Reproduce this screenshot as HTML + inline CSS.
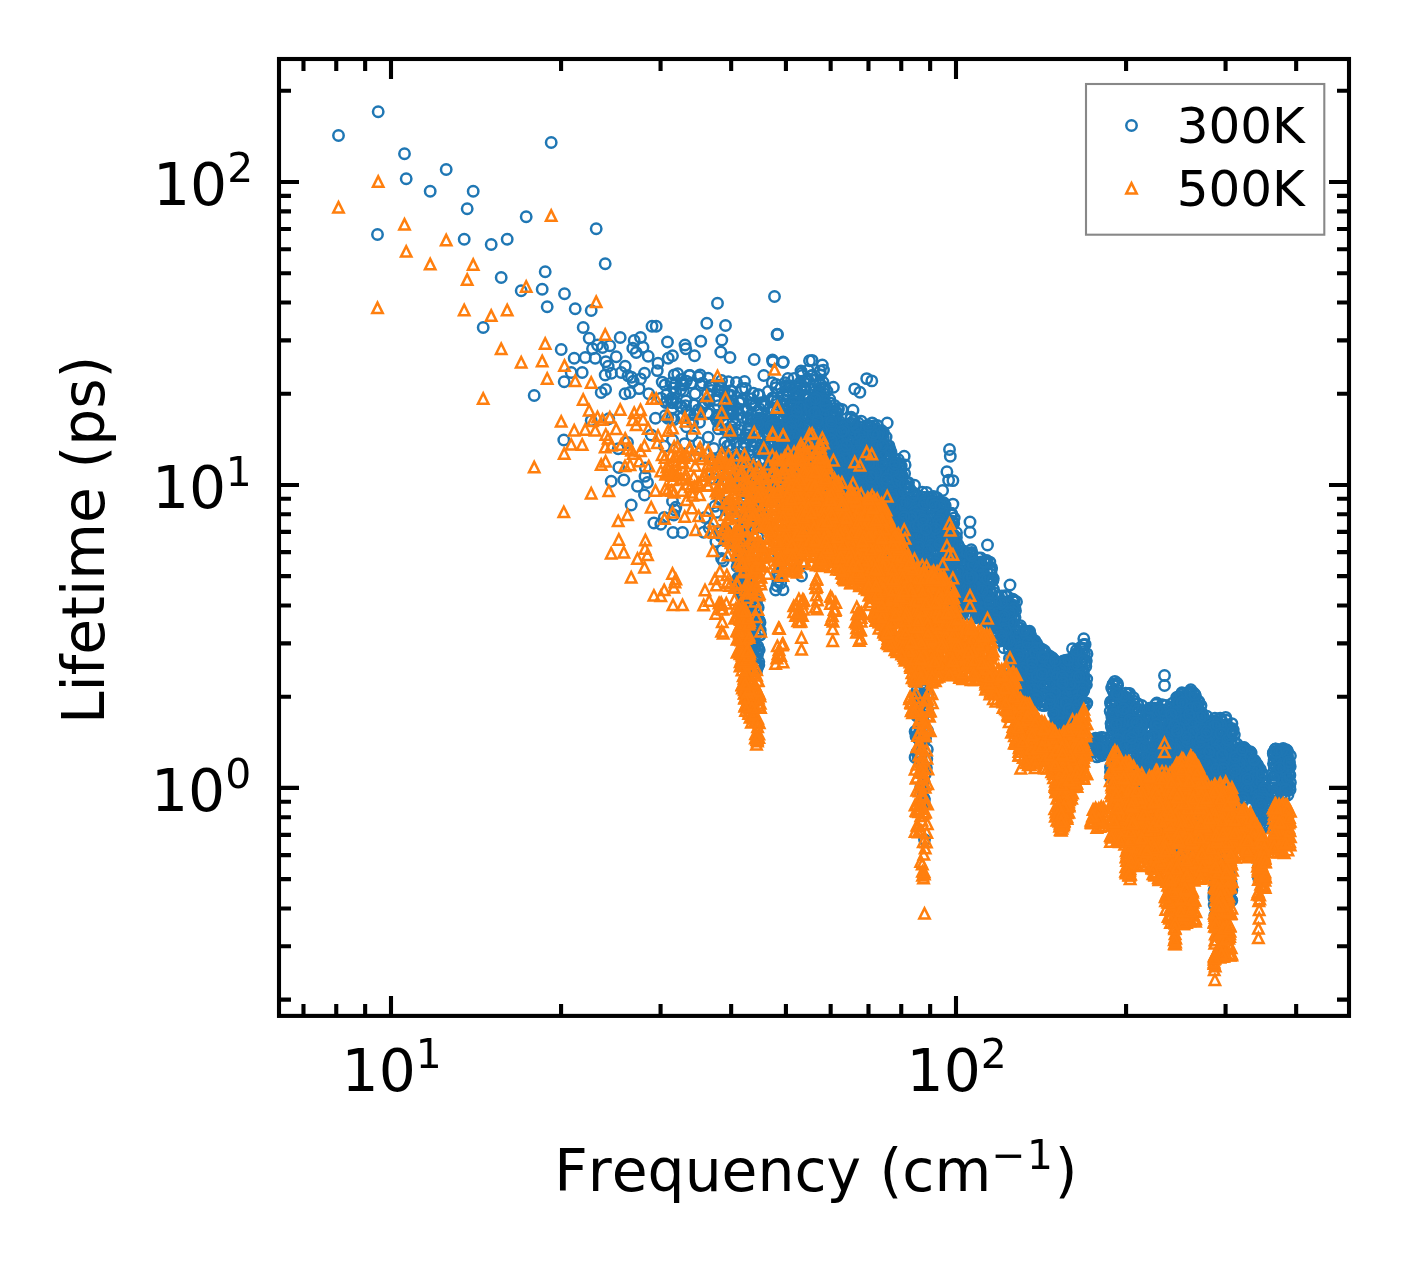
<!DOCTYPE html>
<html lang="en"><head><meta charset="utf-8"><title>Lifetime vs Frequency</title>
<style>html,body{margin:0;padding:0;background:#fff}svg{display:block}text{font-family:'DejaVu Sans', 'Liberation Sans', sans-serif;fill:#000;font-kerning:none;font-variant-ligatures:none}</style></head><body>
<svg style="will-change:transform" width="1408" height="1265" viewBox="0 0 1408 1265">
<rect width="1408" height="1265" fill="#fff"/>
<defs>
<marker id="mc" markerUnits="userSpaceOnUse" markerWidth="20" markerHeight="20" refX="10" refY="10" overflow="visible"><circle cx="10" cy="10" r="5.21" fill="none" stroke="#1f77b4" stroke-width="2.50"/></marker>
<marker id="mt" markerUnits="userSpaceOnUse" markerWidth="20" markerHeight="20" refX="10" refY="10" overflow="visible"><path d="M10 4.79 L4.79 15.21 L15.21 15.21 Z" fill="none" stroke="#ff7f0e" stroke-width="2.50" stroke-linejoin="miter"/></marker>
</defs>
<clipPath id="ax"><rect x="279.0" y="59.0" width="1070.0" height="956.9"/></clipPath>
<g clip-path="url(#ax)">
<polyline fill="none" stroke="none" style="marker:url(#mc)" points="338.5,135.5 378.2,111.8 404.5,153.8 406.2,178.8 446.2,169.5 430.2,191.2 473.2,191.2 467.2,208.8 377.5,234.5 464.2,239.2 491.2,244.5 507.2,239.2 526.2,216.8 551.2,142.5 596.2,228.8 605.2,263.8 545.2,271.8 501.2,277.5 521.2,290.8 542.2,289.2 564.5,293.8 547.2,306.8 575.2,308.8 591.2,310.5 483.2,327.5 583.2,327.5 589.2,338.2 592.5,348.8 597.5,345.0 602.5,347.5 620.2,337.5 634.2,340.5 640.5,337.5 636.2,352.5 616.2,356.8 561.2,349.5 574.2,358.2 585.2,357.5 595.2,358.2 608.2,366.2 625.2,366.2 621.2,372.5 571.2,372.5 582.2,372.5 605.2,375.0 644.5,373.2 633.2,381.2 564.2,381.8 601.2,392.5 648.2,356.2 534.2,395.5 625.0,393.8 630.0,392.5 648.8,393.8 652.0,326.2 774.5,296.5 717.5,303.2 777.5,334.5 706.8,323.2 725.5,325.5 656.2,326.2 667.5,342.0 685.0,345.0 685.8,348.8 700.8,341.2 721.8,340.0 720.8,352.0 730.0,357.5 658.0,363.2 668.2,358.2 672.5,355.8 694.5,355.8 754.2,359.5 772.5,360.0 783.2,362.0 763.8,375.5 608.8,418.8 655.5,418.2 618.2,448.8 627.5,442.5 664.5,446.2 651.2,435.0 672.5,440.0 618.8,467.5 623.8,480.0 611.2,481.2 645.0,476.2 647.5,482.5 637.5,486.2 644.5,495.0 631.2,505.0 672.5,501.2 664.2,517.5 673.8,515.0 673.0,532.5 682.5,532.5 709.2,528.0 715.0,506.2 705.0,517.5 777.1,334.3 772.8,361.6 783.0,362.4 809.5,360.7 812.1,360.4 822.3,365.0 823.5,370.1 801.0,371.0 833.4,387.2 854.7,388.9 859.9,392.3 866.7,378.6 871.8,380.9 887.2,423.0 904.2,456.3 905.1,464.9 949.5,449.5 950.3,456.3 946.9,471.7 948.6,480.2 952.9,480.6 970.0,522.0 970.0,532.3 841.9,409.4 853.0,410.2 942.6,490.5 914.5,485.3 952.9,504.1 987.5,545.0 1010.0,585.0 1083.8,638.8 1072.5,648.8 1164.5,675.5 1164.5,685.5 563.8,440.0 591.2,420.6 628.0,375.8 657.3,370.6 631.5,377.3 611.4,373.2 639.1,388.6 605.8,361.7 605.6,389.5 643.0,347.3 660.9,398.1 640.5,378.9 609.8,345.8 632.8,348.3 681.8,383.6 666.8,394.3 699.8,412.4 704.9,402.7 703.6,403.8 700.9,385.4 732.9,419.8 724.1,406.0 691.2,383.0 689.3,375.4 719.9,391.2 724.5,390.6 730.7,412.7 662.2,382.1 728.0,394.6 731.9,391.1 671.5,402.2 720.6,384.9 672.9,388.0 731.0,408.4 675.7,383.8 674.2,374.9 721.6,380.5 707.4,393.5 681.8,407.1 676.9,402.9 675.6,392.2 683.6,385.0 731.4,410.6 690.4,414.5 683.4,390.9 724.9,402.8 674.1,419.5 683.6,384.4 720.2,387.8 689.9,375.5 673.1,400.0 685.9,400.9 695.2,393.8 730.8,395.2 708.4,413.6 681.2,379.4 727.9,411.3 686.4,381.1 718.3,417.1 682.3,417.6 726.5,401.0 698.5,377.0 667.8,418.2 685.6,405.8 687.0,411.5 709.7,386.1 680.6,406.6 671.1,383.0 707.4,412.9 710.8,385.5 728.4,381.8 665.0,384.9 700.1,374.9 680.7,389.7 708.2,378.3 694.5,414.8 731.9,403.5 715.4,400.1 677.7,373.7 665.2,415.7 716.0,418.2 665.7,402.5 702.5,407.1 691.5,420.0 671.7,398.2 718.1,415.2 718.2,405.8 721.4,415.9 693.8,404.9 727.5,413.8 698.2,409.9 725.4,399.5 711.5,390.4 708.9,401.2 672.2,402.7 732.6,414.2 717.6,390.6 718.0,399.9 699.8,412.2 672.5,408.0 666.8,400.9 702.4,383.1 764.4,402.9 760.7,421.5 744.5,381.5 746.5,410.8 742.1,388.5 773.8,410.0 752.9,420.2 747.7,410.3 741.9,400.0 769.3,421.2 772.6,397.9 759.2,394.9 739.1,402.8 770.7,418.3 765.0,422.8 745.5,388.4 753.3,393.1 742.6,399.2 761.2,402.7 747.2,417.9 777.2,400.9 736.4,382.4 772.3,382.8 764.9,406.1 710.2,459.6 686.4,426.8 717.4,421.2 732.3,431.9 699.5,422.3 724.8,442.3 724.9,452.8 731.5,467.9 727.0,430.0 718.4,428.9 684.7,443.6 728.1,429.0 708.2,437.3 727.5,446.0 724.3,457.8 714.5,459.6 734.9,424.4 735.8,456.1 698.7,442.7 724.7,465.5 713.7,448.4 734.0,459.8 736.2,443.2 725.7,430.2 728.4,460.9 725.3,455.9 653.9,523.0 703.7,532.3 674.9,509.9 660.8,524.2 695.6,456.8 645.4,467.9 675.8,507.2 671.7,418.4 692.6,422.7 692.0,435.7 720.7,535.9 712.8,478.4 726.3,530.1 734.5,527.0 736.8,509.3 736.9,472.7 716.4,512.4 719.1,530.6 729.6,512.1 734.6,515.4 719.9,499.3 734.6,546.0 715.9,541.6 737.3,512.2 727.9,483.1 726.9,510.3 728.7,467.5 737.3,511.4 722.9,537.1 727.6,509.2 730.9,470.9 726.9,502.2 1071.6,726.5 843.2,439.0 799.3,453.1 845.0,503.4 819.4,441.4 885.9,511.4 957.9,571.8 842.8,487.5 822.6,401.9 755.2,405.5 926.9,566.0 782.3,436.3 914.0,532.7 874.7,440.4 1048.9,678.7 965.5,587.5 926.4,563.3 943.4,507.4 963.9,584.0 735.0,460.0 883.3,551.4 815.1,408.5 1010.0,609.3 931.7,596.2 1056.9,709.0 1065.6,722.6 1063.7,715.3 859.1,507.4 871.2,516.0 914.1,577.5 996.2,618.7 870.8,496.5 970.0,557.7 1034.7,680.4 958.6,569.6 864.1,429.6 881.7,478.5 751.1,484.9 807.6,456.3 796.0,474.2 901.2,466.1 918.3,566.4 984.6,601.9 786.0,490.2 1032.1,686.7 1075.2,689.7 931.4,543.7 1084.0,677.8 836.5,496.3 762.9,419.1 762.2,452.8 1011.9,623.1 930.2,583.9 944.2,548.4 876.0,534.3 917.4,533.6 991.3,598.5 909.4,519.6 978.1,570.5 1049.6,684.1 758.2,451.5 794.6,456.3 918.6,572.3 817.8,473.4 974.3,568.3 937.1,559.8 794.3,423.4 907.1,534.5 933.1,577.2 815.0,421.2 821.0,426.6 1026.6,672.8 876.6,506.9 1085.6,663.6 812.1,463.2 788.5,443.8 897.0,485.0 795.0,466.8 749.6,518.5 782.5,444.2 810.7,478.5 807.0,379.8 955.1,586.1 882.7,517.9 866.9,492.7 829.9,426.1 980.4,581.1 897.4,491.7 1066.4,666.9 951.6,525.2 798.7,453.5 870.6,457.8 962.1,579.1 1074.1,687.6 951.9,556.5 861.9,476.0 819.0,491.4 1030.8,689.3 812.5,436.3 1063.2,752.2 923.7,553.5 782.4,432.6 860.6,465.7 1065.2,703.4 739.6,430.1 1019.2,675.0 1025.5,665.4 793.3,405.3 874.0,490.1 793.5,471.2 954.4,562.1 867.3,454.1 934.5,566.2 954.0,539.3 1084.5,653.7 1064.8,689.6 1035.3,666.6 1053.3,676.8 858.6,485.7 876.0,543.2 944.7,539.9 879.6,474.3 859.8,510.9 897.5,505.9 895.0,521.4 1067.2,715.7 929.2,544.2 917.4,523.4 823.1,407.7 870.8,481.4 883.2,551.1 883.7,540.9 918.5,578.9 809.5,402.7 943.5,508.7 947.5,595.3 907.7,566.6 873.6,476.0 1011.4,616.1 953.0,580.7 967.8,579.1 884.2,512.1 853.6,428.1 941.1,568.0 813.4,466.4 932.8,580.4 808.0,442.1 820.5,478.9 827.3,475.8 1058.2,668.3 932.1,500.8 879.0,554.7 903.8,582.8 1065.2,747.2 1060.3,701.1 975.8,568.0 1078.2,691.2 849.8,500.0 939.1,570.5 792.7,422.7 848.8,457.4 795.9,455.0 908.1,513.2 747.6,484.4 922.9,586.8 759.1,451.4 1067.0,748.0 748.5,427.7 937.4,527.6 894.3,494.4 913.6,512.6 907.6,553.0 1026.0,677.3 902.1,477.9 909.6,498.3 1014.7,643.4 1039.8,665.7 905.6,514.8 1006.8,636.6 842.8,471.0 1061.0,721.9 1073.6,667.9 819.2,442.0 816.2,492.4 877.9,523.6 1065.0,718.3 1003.8,618.2 893.0,533.7 749.5,549.9 838.6,450.6 911.6,525.0 1012.5,641.9 891.7,487.7 876.8,483.1 892.5,549.8 892.3,511.5 1078.6,672.4 981.8,584.3 918.6,558.3 894.3,571.9 865.7,471.3 793.5,410.0 1013.5,654.1 809.8,451.3 860.0,453.6 923.9,592.9 752.4,403.8 896.9,477.3 857.0,505.2 834.3,466.3 825.9,408.2 897.5,564.8 1046.7,660.0 908.7,526.1 910.0,547.9 737.9,482.0 1014.3,607.5 1028.5,632.4 1057.4,692.0 924.0,566.0 941.3,592.6 1020.8,648.3 802.0,375.5 844.7,465.6 796.6,456.9 1031.5,639.0 905.6,514.7 908.6,560.1 787.9,378.5 770.2,476.4 790.0,430.0 911.3,516.2 939.8,517.8 831.6,478.8 1010.0,638.6 1034.5,664.5 1079.8,654.7 1072.3,716.5 928.7,497.1 847.2,471.9 880.3,488.6 974.1,579.0 811.9,375.5 927.8,592.4 955.9,547.8 900.1,467.2 911.9,564.3 892.7,562.5 902.8,520.1 746.5,520.8 888.7,479.7 1051.5,674.4 897.9,482.1 1052.5,676.1 772.2,401.3 861.7,432.9 980.9,598.7 1004.9,602.8 876.6,507.6 855.8,502.1 1015.5,629.4 819.7,487.7 802.0,478.0 798.4,410.9 1012.8,600.7 880.3,502.7 1071.5,661.5 919.2,526.2 886.7,546.6 768.1,417.8 920.2,592.3 1082.4,692.0 773.0,428.4 855.9,458.5 886.0,543.3 793.0,405.1 759.8,438.0 1029.6,631.2 832.0,478.7 851.5,453.1 905.4,512.2 748.5,480.3 888.4,570.3 928.7,557.6 920.4,591.3 950.0,598.8 1043.8,669.1 898.8,534.7 1065.7,729.7 959.7,602.0 744.9,456.9 1069.2,727.3 1032.9,686.4 1028.4,692.9 973.0,579.1 817.4,452.9 968.4,601.9 1072.6,683.0 1034.4,667.2 846.3,501.8 871.0,471.7 904.4,569.6 854.7,475.6 1039.3,654.9 822.7,449.5 1046.5,685.3 936.6,526.2 828.4,476.6 861.0,438.5 1074.0,659.1 835.7,455.4 906.3,528.7 1027.4,649.4 1056.9,726.5 753.9,479.8 759.4,503.7 927.8,574.6 809.8,442.0 731.5,413.4 838.5,420.3 1028.1,689.5 893.3,537.1 803.7,444.2 816.4,403.1 1062.9,689.3 1038.5,646.8 925.3,567.2 929.1,580.9 915.1,542.1 811.4,473.2 799.0,395.1 991.8,593.8 950.0,579.4 951.8,514.9 986.5,605.7 912.6,504.4 957.7,544.4 922.5,549.0 1012.9,599.2 961.3,555.3 786.9,454.8 849.6,463.8 886.5,521.3 916.7,579.0 816.2,437.4 975.9,594.0 952.1,538.6 917.5,503.8 901.9,564.9 874.0,461.1 772.2,450.8 945.5,570.1 942.8,544.6 1082.0,689.0 976.3,580.7 926.1,602.3 1018.8,648.8 890.2,539.3 915.5,506.8 987.9,587.1 794.2,478.6 898.0,546.9 820.3,410.3 867.6,512.5 859.2,426.9 860.1,492.6 890.3,470.5 795.1,476.5 910.7,569.4 944.7,551.4 901.0,476.2 1073.4,708.9 905.0,564.5 911.5,544.5 825.3,437.0 1014.8,608.1 1030.8,639.2 994.2,618.9 807.2,471.7 992.3,580.7 946.4,601.2 809.7,425.0 775.8,433.3 1059.0,680.6 851.6,489.7 758.2,394.6 956.4,586.2 938.8,520.6 881.1,502.4 791.7,478.1 796.7,433.8 1040.0,680.5 815.1,397.0 866.8,505.6 754.0,459.4 890.1,553.0 1060.0,711.8 855.4,431.8 926.3,573.6 837.1,438.5 805.7,455.0 987.9,594.3 834.9,484.1 766.0,431.8 1041.7,668.0 849.0,430.6 855.0,446.0 861.1,447.0 892.1,463.1 850.7,441.6 744.4,457.3 777.4,437.5 805.1,488.9 886.9,450.4 1085.1,644.4 1086.4,684.7 1014.1,654.7 922.6,555.6 1057.9,691.8 854.7,489.8 1075.8,685.0 987.1,586.5 1008.7,643.9 875.7,478.6 1055.0,698.8 816.9,395.9 956.5,532.7 948.5,558.2 842.5,494.1 948.3,546.0 827.0,445.6 812.8,403.9 762.4,493.2 730.2,444.7 864.0,473.2 869.2,471.8 1083.4,670.7 1063.5,660.9 838.5,449.2 1014.1,619.0 1013.0,653.8 1034.7,690.6 1033.8,661.1 888.4,525.7 864.9,515.6 1003.6,622.9 897.7,530.1 1025.4,631.2 862.0,464.4 905.1,540.5 872.8,540.9 789.2,434.0 914.2,524.7 938.0,545.7 1074.3,655.3 961.4,595.9 887.4,509.3 1055.1,699.6 948.0,564.5 1080.4,678.0 941.0,527.9 1058.8,713.6 836.4,462.8 1058.8,709.8 853.7,434.2 921.5,574.6 784.9,462.6 859.3,498.6 918.3,513.7 899.4,548.1 915.0,590.4 877.3,446.6 1036.5,662.3 982.9,566.6 1051.1,695.5 800.8,457.2 939.6,514.2 840.0,463.9 926.4,562.6 837.7,481.8 915.9,531.7 925.0,578.0 920.8,506.5 824.1,394.0 843.2,470.4 936.9,572.3 945.8,567.4 1024.1,652.9 925.2,538.8 743.9,448.1 881.5,512.8 857.9,460.3 920.7,501.2 1033.3,647.0 833.2,437.8 1065.1,705.3 746.9,474.5 844.4,444.8 777.5,486.9 930.1,579.8 982.0,570.3 1083.0,648.3 759.5,489.9 760.9,511.1 890.4,506.4 1072.6,683.9 837.1,454.5 792.8,480.1 909.2,559.3 1019.3,632.0 889.0,560.6 823.8,405.4 785.0,433.3 994.4,620.0 842.3,472.3 792.7,402.3 917.7,589.5 1061.4,683.4 845.8,445.9 930.7,540.9 1015.5,610.7 825.6,429.7 788.4,465.5 965.7,585.6 826.9,473.3 986.5,563.7 769.7,444.5 755.0,489.4 836.8,493.1 855.9,453.9 1024.1,667.9 1026.0,645.1 889.0,445.9 908.6,487.6 1003.5,610.9 1028.3,661.0 869.4,513.3 1040.1,687.0 765.4,446.5 1079.4,680.6 1030.3,692.8 815.3,436.9 826.1,407.2 753.9,479.0 901.9,528.4 775.9,387.6 948.1,558.3 888.8,479.6 978.9,577.8 1067.7,727.3 922.3,532.6 861.3,488.4 797.1,449.2 1063.2,690.1 858.3,434.3 782.5,457.3 826.9,453.4 817.8,455.5 776.2,423.6 1020.0,672.8 968.9,585.4 878.0,444.7 925.6,596.1 1059.4,664.8 1079.7,683.2 943.3,550.2 1028.5,684.0 824.6,415.2 774.2,421.8 842.1,431.5 916.0,536.9 756.6,477.5 932.1,498.3 833.9,429.8 977.9,582.5 878.9,548.9 1061.4,666.4 980.7,584.3 806.3,474.5 808.2,443.7 996.5,615.8 1055.6,683.3 853.8,458.1 945.8,588.7 811.7,408.5 1014.4,671.1 958.0,576.5 942.6,538.5 1002.4,617.9 1060.9,678.3 909.8,559.0 944.6,515.1 906.5,540.8 922.5,519.5 957.3,576.3 1028.7,660.8 1050.0,685.7 896.6,500.8 1087.0,653.9 838.4,408.4 1052.4,660.0 902.4,476.3 889.7,565.1 821.1,437.7 983.6,572.9 1001.4,608.6 1063.0,697.1 897.0,572.1 1036.4,672.9 808.8,447.0 815.6,456.3 859.0,494.2 1075.1,700.2 937.3,554.6 917.4,544.6 931.2,596.4 926.3,539.4 869.9,450.7 876.9,447.1 864.4,508.1 906.4,534.7 930.6,576.0 904.6,501.7 866.3,463.9 795.2,444.2 876.7,469.6 782.9,502.7 828.5,420.1 974.8,580.5 909.5,525.7 799.2,415.8 786.3,386.4 898.6,534.2 889.6,549.4 805.8,413.3 849.3,480.0 860.7,473.0 898.6,573.7 830.1,433.6 887.3,446.0 1060.8,716.9 843.3,497.0 925.8,603.7 961.3,554.6 922.1,566.3 1077.7,689.7 1008.2,642.9 802.8,430.6 790.7,467.1 805.7,403.8 850.7,418.7 881.9,527.9 963.0,553.7 880.6,455.0 829.1,486.7 925.6,538.9 847.9,433.1 804.9,438.9 940.8,533.5 1060.9,724.0 1017.5,668.4 1056.4,680.3 951.4,553.4 805.1,388.0 883.8,444.9 861.0,433.1 952.4,579.3 1066.0,663.5 845.0,506.7 827.8,435.8 928.6,535.1 759.5,418.0 1011.0,610.1 943.2,514.3 959.6,572.3 934.3,517.0 861.6,475.5 1036.1,689.3 981.6,583.3 818.2,465.7 1036.7,643.6 952.0,599.8 904.1,530.1 771.6,431.7 842.7,504.5 968.5,573.1 1042.5,677.4 782.7,437.8 854.0,480.6 875.9,448.3 998.0,616.6 798.7,422.3 1027.7,689.3 1054.6,678.7 882.3,505.8 892.7,545.5 986.4,598.8 835.0,466.7 1010.2,611.5 868.0,463.5 883.5,485.5 1063.6,664.9 883.0,521.7 814.3,465.2 986.8,560.5 856.9,451.2 879.8,548.3 858.9,439.7 870.3,451.3 846.9,488.0 904.3,584.1 980.1,565.5 1058.3,705.9 875.4,542.5 825.1,444.3 853.6,508.5 888.3,560.7 772.4,481.4 868.9,522.8 1064.5,728.2 991.0,574.1 788.5,407.8 851.7,503.8 824.7,446.7 890.3,540.9 1086.7,679.1 1032.6,670.4 916.6,545.1 901.7,564.7 1002.4,626.4 1016.5,601.8 977.2,586.9 1034.3,665.4 740.3,473.5 755.7,512.5 809.7,422.8 1053.1,681.1 871.7,445.9 748.0,510.3 941.7,569.3 835.6,421.6 1082.4,672.2 1027.5,689.9 1072.5,722.0 1035.4,686.0 1029.7,661.4 1053.6,706.9 793.3,496.8 850.7,452.2 905.2,586.2 807.6,378.8 901.5,531.6 1083.8,690.3 948.7,540.5 890.2,474.7 1039.8,656.4 951.1,574.0 984.2,606.7 990.2,599.2 780.9,474.3 840.3,492.7 862.7,495.6 875.9,496.8 923.0,545.2 816.9,446.8 912.2,603.9 919.8,571.5 982.8,566.4 757.9,537.3 867.7,465.3 774.3,431.5 1068.8,733.4 835.4,421.7 876.3,502.0 859.4,502.9 900.7,493.4 1082.2,686.9 978.0,601.3 871.8,495.5 917.6,544.5 1081.3,683.8 775.8,461.7 797.6,440.0 991.6,604.6 808.5,396.8 832.9,441.2 894.3,463.7 794.8,386.1 819.5,391.0 795.9,386.6 791.4,451.7 937.1,564.7 1052.0,678.5 859.2,466.0 984.2,605.1 904.0,566.5 758.4,431.7 894.1,560.8 988.1,608.2 791.0,497.6 851.9,477.2 1056.3,694.2 1046.5,670.8 768.0,444.6 833.9,417.6 764.0,484.8 766.5,453.1 863.3,495.5 835.4,485.1 784.2,483.8 817.5,413.0 1026.2,642.8 914.3,502.6 906.0,529.2 793.3,415.5 814.8,391.8 856.3,486.7 969.7,601.5 789.7,420.2 1005.0,615.5 908.8,506.5 879.0,499.9 829.5,436.4 921.1,541.9 897.8,545.9 775.0,466.6 882.6,432.9 882.7,507.8 819.5,434.6 877.6,459.7 810.4,440.8 854.7,482.7 1065.3,681.5 850.8,510.7 1077.0,716.2 942.1,520.7 751.5,405.4 872.8,500.3 853.6,502.9 781.0,387.8 780.7,440.8 782.0,421.1 981.8,573.0 945.6,551.1 1021.8,638.1 857.5,449.0 801.6,391.4 879.8,467.9 887.2,459.4 892.1,528.3 918.3,596.7 835.9,434.0 1070.7,714.5 862.7,442.9 824.7,387.4 866.4,452.9 843.2,483.7 867.4,447.0 766.4,426.3 1073.5,684.1 850.1,429.2 960.6,602.5 963.3,557.9 834.6,415.4 768.9,454.2 1053.5,675.2 825.5,458.2 937.1,524.1 1065.5,715.7 1057.2,676.8 1014.0,600.4 891.3,485.1 774.1,398.3 944.1,540.6 924.5,497.5 756.3,499.0 1080.5,700.5 892.2,508.4 1014.4,663.6 1034.5,687.6 1058.2,684.4 778.8,492.7 841.1,466.1 900.0,548.3 933.4,522.6 955.7,589.3 940.5,567.8 914.1,515.1 779.7,449.2 751.2,414.5 922.0,565.7 958.2,561.2 969.9,587.3 821.0,409.8 899.2,482.9 868.4,456.0 871.0,426.7 938.2,540.4 772.7,466.4 742.1,492.9 942.9,554.5 779.6,452.3 832.2,451.6 945.2,505.5 794.3,497.9 917.9,601.7 886.5,492.4 1016.1,666.0 873.7,515.6 828.3,439.3 769.7,420.7 1062.8,712.2 903.2,511.5 839.7,465.0 1014.0,606.8 913.6,540.7 801.5,373.2 1058.8,722.9 904.9,499.6 806.3,404.1 884.0,448.8 880.2,454.9 941.1,527.0 946.4,584.6 798.5,458.9 902.4,563.5 786.5,466.5 879.5,533.5 908.8,574.6 779.7,460.9 1077.3,677.4 843.8,468.4 914.8,607.7 876.5,531.8 931.4,580.1 895.5,541.0 818.8,419.5 1069.2,700.1 1066.5,668.8 940.9,568.2 878.8,449.3 855.5,473.2 843.5,499.4 1043.3,683.6 877.0,488.4 1004.1,614.9 802.5,418.5 939.2,585.8 908.7,573.8 916.1,584.7 800.6,404.1 980.8,594.9 828.3,466.7 1056.0,720.2 993.5,618.6 1028.8,659.9 1041.1,657.0 917.8,593.7 1005.6,605.7 945.1,542.5 1085.5,684.5 942.9,544.7 948.7,559.1 817.9,449.3 838.1,409.8 810.8,389.6 874.5,538.0 820.3,400.0 938.7,567.5 1009.2,649.4 1019.7,627.7 846.8,428.3 786.1,440.8 924.5,549.5 1035.6,645.1 872.6,501.0 915.7,575.7 956.4,537.4 957.4,583.4 851.0,469.0 874.6,489.7 1067.4,733.4 841.8,486.1 939.7,528.3 1064.0,660.9 945.9,596.2 1056.0,716.8 1073.6,692.6 1030.0,676.1 1051.2,692.5 768.9,465.3 831.1,427.3 978.6,569.3 814.1,478.0 998.7,596.7 826.2,408.5 805.1,470.5 849.8,506.1 911.2,557.3 976.1,600.9 1071.8,703.0 944.6,509.8 877.7,511.7 949.3,550.0 898.0,510.7 1070.0,696.2 844.5,462.0 928.4,596.4 920.5,544.9 869.1,475.3 1083.5,683.7 1019.4,648.0 898.1,489.6 842.4,475.7 750.5,481.1 833.7,439.2 903.1,517.2 1070.6,667.3 875.6,500.8 871.3,520.8 889.2,479.6 982.0,566.1 935.0,571.9 1025.2,670.5 945.8,520.9 1057.8,666.4 735.5,462.1 749.6,548.1 1066.4,738.4 915.5,520.4 1061.0,695.9 912.5,522.1 831.6,466.9 1063.3,680.1 1009.4,614.2 820.6,421.0 871.5,496.8 960.2,551.6 938.7,519.2 973.1,559.6 931.2,536.6 865.2,451.9 852.0,476.7 1083.5,707.2 1053.3,663.1 777.7,428.1 876.9,483.3 805.0,455.7 933.6,501.6 893.8,539.0 1061.4,705.0 860.8,465.5 812.7,457.2 1084.3,644.8 988.3,614.7 910.0,576.2 752.4,469.6 936.1,511.4 843.8,424.7 1007.6,604.5 973.1,594.1 1075.6,688.6 797.3,407.2 1008.4,624.1 897.3,511.3 1060.7,701.7 845.0,495.3 792.1,445.5 918.7,559.9 743.5,410.8 906.3,508.4 1070.8,689.3 852.1,497.4 829.7,399.3 801.4,417.6 846.7,466.2 995.0,593.2 786.7,413.8 865.6,500.4 894.5,485.4 822.6,404.6 898.6,569.8 931.4,508.7 874.3,473.2 849.8,480.7 826.4,450.8 811.8,431.8 894.2,475.1 914.3,518.1 843.4,472.8 926.4,529.5 789.0,437.2 848.1,448.1 933.2,542.4 867.2,499.8 838.8,452.8 754.0,486.5 751.3,509.2 1035.6,680.7 859.7,435.4 825.4,429.6 873.0,510.0 817.6,401.2 812.9,407.4 936.9,503.3 1034.8,684.0 763.2,474.8 907.2,516.3 1061.4,665.4 1017.3,654.4 981.7,597.3 899.3,504.9 850.4,460.6 1082.3,660.8 1051.3,695.7 915.7,527.5 805.4,418.3 1067.2,675.6 937.1,497.7 888.6,564.3 1062.4,737.3 821.2,458.6 793.7,468.1 916.1,576.1 812.1,473.6 1038.1,651.7 879.0,544.6 919.2,533.8 1069.1,735.8 901.0,542.3 820.4,474.6 899.8,494.2 1015.0,617.6 803.8,387.5 902.9,564.7 785.1,382.7 1043.3,658.4 942.2,523.6 871.4,521.0 886.1,437.1 874.9,454.0 979.4,587.3 927.0,588.7 1037.3,675.7 893.6,524.4 876.0,501.4 857.2,440.6 791.3,497.7 913.9,553.0 917.8,496.7 869.7,496.0 913.9,521.3 746.0,491.9 766.2,424.6 910.4,573.0 835.9,464.0 858.6,460.1 773.4,465.0 873.1,433.5 987.2,572.0 828.7,450.9 924.6,569.2 792.5,407.5 942.9,547.9 882.3,471.7 897.4,575.9 782.3,485.3 933.1,507.1 802.4,404.2 1003.8,602.0 908.3,569.5 800.8,475.7 955.5,596.5 815.8,445.5 908.4,499.2 823.0,382.2 889.3,526.4 817.2,444.6 793.1,482.6 779.6,486.3 957.7,567.1 922.2,546.0 857.9,476.3 819.8,446.9 1049.9,658.5 884.6,556.1 926.9,525.2 927.4,503.2 933.1,605.9 951.3,513.5 805.8,431.8 852.0,461.0 880.5,511.7 923.8,515.5 842.0,488.5 917.8,546.6 913.3,543.6 751.3,398.6 941.1,585.4 896.6,481.2 980.9,558.0 765.7,453.7 953.5,534.5 871.8,486.3 871.8,473.5 1020.7,637.7 952.4,521.1 798.5,408.3 790.9,485.5 792.1,448.4 978.6,582.9 1052.0,668.0 881.5,527.8 915.8,502.4 874.3,430.0 841.5,484.7 895.0,577.2 1077.3,695.1 849.8,501.3 834.4,440.8 902.7,559.2 767.4,501.3 884.6,550.2 819.1,390.6 933.9,503.7 963.9,588.3 870.3,496.1 803.1,404.0 1023.3,640.6 752.4,484.0 867.8,455.1 889.7,488.4 830.0,403.0 918.6,548.6 1075.4,666.0 784.0,416.6 960.2,590.8 788.9,387.0 932.1,564.0 993.0,608.8 813.0,384.8 1031.7,639.4 957.6,573.6 1032.7,649.6 1081.2,660.3 1001.3,624.9 1009.3,613.5 870.4,480.4 862.3,435.1 870.9,455.6 835.5,431.5 879.1,478.3 852.2,472.4 731.5,435.9 1076.8,672.4 875.9,515.0 795.8,397.4 760.4,470.3 817.8,435.9 956.1,554.0 858.5,449.8 805.4,404.1 953.7,523.4 1014.0,658.2 916.8,535.2 829.4,455.0 751.7,465.2 881.5,481.9 799.1,438.2 1058.7,714.9 1032.6,670.3 803.9,395.5 819.6,414.2 793.4,467.8 903.8,541.8 739.7,414.5 820.6,397.9 988.4,583.3 927.4,541.4 880.1,449.4 875.3,431.0 920.0,552.7 797.4,391.4 1067.3,742.1 877.2,515.6 927.3,507.7 898.9,510.9 986.7,613.2 787.9,422.2 941.7,516.1 881.0,511.0 881.6,430.5 1075.7,711.1 1041.4,670.3 1055.1,712.8 870.1,479.8 879.6,501.6 1051.1,676.2 932.1,533.5 787.0,494.7 936.1,535.3 926.2,551.9 743.3,417.6 820.4,456.2 1063.9,663.8 1008.1,638.3 1039.3,672.8 905.3,544.0 778.5,443.1 905.5,536.1 1064.4,699.5 838.0,441.6 895.8,492.0 908.8,541.7 1068.0,689.5 914.7,544.2 889.8,507.2 877.1,459.8 962.9,580.6 957.6,546.3 888.8,532.4 834.4,460.3 902.6,505.4 1060.5,686.4 807.7,465.1 994.0,618.6 785.8,411.0 915.8,580.8 880.8,447.6 838.0,480.0 897.1,500.1 793.5,436.8 868.7,493.1 1085.8,666.4 788.2,396.5 944.4,516.8 1047.3,682.5 1030.6,680.7 898.4,527.9 832.1,415.9 889.1,561.6 788.1,474.1 832.4,432.1 776.3,384.5 847.6,498.9 800.1,404.4 886.7,471.2 745.5,517.3 839.6,425.3 821.3,434.1 801.7,462.4 911.3,525.4 830.4,427.4 889.8,536.9 1062.9,723.8 841.6,499.8 899.6,523.7 1044.6,695.8 788.7,386.8 1009.6,635.1 898.3,459.5 920.8,515.9 777.5,493.3 937.8,521.3 937.1,506.4 835.9,416.9 990.6,571.3 1050.1,678.3 1061.7,722.3 923.9,549.1 886.8,520.3 996.3,613.3 776.8,412.3 895.7,569.8 926.5,563.7 870.0,449.0 893.0,532.7 881.8,537.4 890.2,457.5 810.4,423.1 918.7,503.2 1057.0,676.6 872.3,430.6 1041.9,649.1 998.8,614.6 911.7,498.8 813.7,419.6 849.5,449.2 796.4,386.0 1044.5,650.8 903.5,496.5 1049.1,662.0 883.3,531.4 944.3,594.6 1033.0,642.7 779.2,447.5 1067.2,728.3 855.6,453.5 812.0,375.6 844.9,471.5 926.6,492.4 946.3,563.4 993.7,611.9 782.4,404.4 867.7,446.2 903.6,575.9 899.2,566.8 1084.0,707.1 838.7,438.4 1070.7,711.4 1054.3,699.9 886.1,454.6 876.4,546.1 820.5,418.3 883.4,489.0 954.0,567.8 1037.6,652.6 971.1,605.4 901.8,546.9 851.0,485.1 877.7,458.8 812.1,483.1 929.6,597.0 822.9,399.5 868.9,455.8 873.0,482.6 860.8,448.5 916.8,494.7 915.6,536.5 1078.9,701.8 811.4,491.2 989.8,620.9 1074.4,675.0 784.7,480.0 822.7,422.9 937.8,539.9 1010.5,608.8 913.1,562.3 851.7,473.4 1049.0,655.6 801.0,458.6 967.1,557.4 989.7,613.2 856.9,463.3 898.3,462.9 833.9,448.8 991.0,603.0 893.8,468.1 821.4,461.7 906.7,532.1 902.4,579.3 823.7,388.6 909.9,589.3 998.2,615.2 948.6,568.5 1038.5,683.6 787.3,492.8 943.3,560.2 1001.7,595.9 931.9,590.0 861.9,440.2 851.7,447.6 1080.1,647.8 1010.1,642.9 917.4,584.9 1061.6,738.1 951.8,541.8 878.3,466.1 877.3,467.2 865.0,487.4 989.3,581.7 914.6,594.1 916.3,605.0 845.8,464.4 799.0,458.5 835.7,427.2 875.8,547.1 948.8,569.0 888.1,515.8 948.8,596.9 796.1,435.9 864.5,485.8 958.2,579.1 759.7,471.8 820.2,370.9 795.6,427.8 768.1,436.7 864.7,472.9 1033.5,647.3 975.6,581.6 1038.9,648.2 922.4,603.0 914.3,600.3 912.1,504.0 1060.6,697.9 929.1,537.3 1052.8,672.4 1056.4,700.9 946.0,541.8 907.8,493.4 928.4,523.5 832.9,458.3 793.6,442.6 1013.1,605.2 730.0,461.7 926.0,541.9 748.9,486.3 887.5,484.0 1076.4,676.5 876.2,432.3 772.0,479.8 898.5,535.9 1010.1,621.7 1066.8,708.9 925.1,582.7 1054.4,660.6 939.0,558.4 814.9,480.6 797.5,428.7 1012.4,624.5 880.0,504.5 937.1,601.9 887.2,527.2 904.6,571.8 1071.0,701.7 947.9,588.9 811.9,428.3 971.3,592.8 1061.1,666.1 916.1,607.5 1065.5,662.1 942.9,533.8 997.4,614.0 1069.8,703.4 896.1,527.1 845.2,447.7 762.3,424.5 942.3,596.8 860.2,458.0 990.8,582.0 859.4,439.4 800.3,382.4 898.7,509.7 773.1,424.9 1065.0,714.7 745.6,434.8 823.0,408.6 1048.1,664.4 772.0,440.3 864.1,497.1 1080.7,679.7 972.1,558.4 877.9,490.6 899.3,494.5 1019.3,682.6 947.8,584.6 848.2,491.2 959.6,604.5 816.3,407.9 1061.6,741.4 1028.9,692.1 1083.3,644.8 777.5,487.1 900.9,523.1 768.2,471.9 899.0,546.0 876.5,471.0 958.3,551.1 890.9,529.2 839.2,424.8 779.9,426.0 968.2,571.4 1013.8,608.8 998.3,608.7 821.4,425.8 862.7,441.1 929.2,531.9 911.9,600.0 1025.0,641.7 945.0,600.3 895.9,571.2 915.0,555.2 1072.1,672.1 876.2,431.0 1067.3,676.5 901.0,508.7 1077.1,658.6 828.6,422.2 835.1,486.0 1071.5,689.9 753.1,440.9 1065.6,725.0 836.4,477.5 835.5,411.9 929.6,599.6 1010.5,643.2 883.6,506.4 969.2,573.8 910.3,555.9 981.9,593.1 1069.2,728.5 766.5,453.6 1069.0,724.4 789.0,406.3 855.0,424.2 933.5,590.5 842.5,484.9 811.2,459.4 891.0,487.7 873.2,461.6 1051.7,700.9 949.5,530.5 880.5,453.4 1074.4,712.7 895.1,486.2 759.4,408.8 873.7,461.3 751.0,455.9 1082.9,704.6 1029.1,652.3 879.1,468.9 811.5,411.9 862.0,461.8 883.3,438.1 862.3,435.3 814.3,483.7 1070.4,659.3 871.7,490.4 879.5,522.5 1054.7,683.3 901.5,500.3 986.3,598.4 1006.0,627.5 1066.9,746.0 763.1,405.1 736.3,442.3 951.3,593.7 890.8,513.6 1076.7,661.0 929.0,523.2 980.6,581.0 968.9,599.7 936.3,568.2 1073.1,698.9 819.1,396.8 974.8,599.3 977.8,564.2 930.6,554.2 1073.1,687.8 1074.0,714.4 787.8,461.8 892.8,466.3 921.5,550.2 788.5,417.3 1073.1,683.7 1024.6,639.5 820.5,485.2 1071.1,723.7 819.8,383.3 969.2,568.6 908.9,506.7 884.0,533.1 847.8,466.1 931.9,595.9 777.0,447.6 986.6,591.5 831.0,459.1 825.7,410.0 910.1,526.2 909.3,571.8 883.4,432.4 808.3,469.0 848.1,492.4 876.6,494.8 832.2,476.8 915.5,569.5 1070.2,726.0 895.6,487.6 906.8,527.6 1009.2,633.9 844.0,450.3 870.2,515.8 848.2,495.2 850.2,436.5 951.2,563.1 1068.6,731.2 1064.0,679.1 1043.9,688.4 887.8,498.1 854.0,420.4 1006.6,635.5 1079.0,678.3 793.1,481.8 760.3,470.2 895.3,467.5 945.8,533.8 950.6,569.1 964.3,590.1 946.7,578.4 925.5,529.8 1007.9,642.1 1014.7,670.2 985.8,608.6 855.4,457.7 1064.0,743.9 1003.5,627.0 797.1,398.6 938.2,588.4 931.6,560.5 1012.4,611.8 1009.2,612.5 971.8,553.6 941.5,537.3 890.0,473.4 805.2,396.8 945.2,550.3 836.2,436.7 939.3,579.5 757.5,411.5 741.8,469.0 857.0,449.3 825.5,460.1 867.7,484.5 824.1,459.1 886.4,551.8 923.5,505.1 848.5,440.5 917.8,556.5 1055.3,684.8 820.6,492.5 850.5,446.2 910.5,551.1 986.1,589.3 1002.0,617.0 797.0,459.9 826.9,391.0 952.2,539.5 990.5,604.4 883.4,514.1 961.8,590.3 928.8,519.5 934.2,536.6 1074.4,698.7 939.8,519.5 957.1,562.9 851.3,496.1 1008.1,622.9 874.5,538.9 754.5,499.3 788.1,391.4 841.1,444.5 924.7,519.8 882.3,506.5 904.6,473.5 846.7,439.5 834.2,443.1 863.2,436.5 1025.2,643.6 881.0,511.0 761.0,504.8 740.7,491.0 818.6,469.5 1023.2,684.8 968.0,573.1 1063.2,710.7 1061.1,721.2 1067.6,671.2 841.7,427.1 974.6,606.8 914.7,588.4 820.2,470.7 914.8,530.5 912.8,496.4 965.7,592.3 893.0,538.2 880.5,491.8 1043.1,658.3 821.6,487.6 966.3,565.1 914.3,536.3 938.5,533.5 886.9,562.0 837.4,413.0 884.1,505.6 905.1,540.4 746.1,511.2 784.3,458.6 876.0,432.5 899.8,561.4 1010.0,630.2 817.1,450.9 843.9,505.5 1029.1,687.5 768.2,391.5 817.5,452.8 1028.7,664.4 787.0,470.0 820.9,446.8 858.3,423.0 1077.1,695.3 732.3,412.5 743.8,442.6 1018.4,659.0 1073.2,671.1 868.7,454.1 884.2,529.6 764.8,445.7 922.2,492.3 851.8,428.9 889.3,571.3 1066.3,660.3 1032.9,664.2 828.0,473.6 849.1,449.2 892.2,556.7 877.0,470.5 930.9,546.4 1054.6,660.9 926.0,582.4 938.2,559.9 978.4,599.0 831.6,434.8 1039.5,676.5 855.8,506.1 1049.5,669.7 1039.1,649.4 756.7,488.2 1071.7,699.3 866.7,444.3 1023.2,632.3 780.0,484.1 1071.8,688.3 1022.3,639.8 891.9,554.6 923.5,578.6 971.7,552.5 884.5,509.4 870.8,468.3 948.0,542.9 1062.7,723.7 871.3,483.9 867.7,425.3 861.8,439.6 905.7,516.8 833.3,493.4 780.8,458.3 958.8,546.6 794.9,447.2 851.3,469.3 1029.7,652.3 1059.7,689.4 887.7,517.2 787.6,394.0 970.0,595.0 834.4,458.9 773.2,420.5 877.2,425.4 795.9,409.5 738.2,456.4 840.4,488.3 870.0,426.1 883.7,559.8 1013.7,656.4 911.9,591.5 865.2,458.2 906.0,524.5 820.0,395.8 932.1,506.7 814.9,454.2 943.5,553.5 751.2,418.6 787.9,486.4 906.6,579.0 963.6,562.2 1059.6,742.5 981.0,561.9 928.1,521.2 907.2,483.1 1034.3,668.0 872.0,524.4 895.9,518.0 894.2,565.5 771.5,480.9 853.9,487.0 1036.2,687.1 855.4,461.6 1062.9,698.4 1047.4,697.0 860.2,434.4 765.9,489.7 1063.4,707.6 1064.2,715.7 1081.9,675.8 791.8,485.3 887.9,564.9 1035.0,640.8 1025.4,636.7 800.3,439.1 786.3,385.4 751.7,499.4 818.4,403.6 921.8,600.0 785.2,474.3 935.2,587.8 948.0,556.0 953.0,522.8 892.1,499.3 1068.4,662.9 862.1,492.3 943.8,563.1 916.7,499.4 990.6,617.8 1076.8,655.9 1021.5,641.9 925.4,564.5 910.8,594.7 1016.8,641.4 878.7,464.0 800.4,426.2 987.3,587.8 876.1,496.8 854.0,451.3 888.4,499.3 794.9,396.7 926.6,587.1 796.9,416.0 918.2,505.2 801.0,410.5 849.0,457.1 751.2,482.2 991.6,567.9 816.7,464.0 757.4,516.7 903.9,574.7 805.7,457.6 1019.0,645.3 1020.5,677.2 801.6,407.4 973.3,587.8 799.2,473.1 799.2,479.8 1075.6,674.3 907.2,493.5 745.2,465.5 804.2,437.8 892.4,487.9 799.7,425.2 850.9,461.4 784.0,486.6 964.4,574.3 781.1,472.2 813.3,474.5 906.3,502.3 897.8,494.1 889.2,563.9 876.7,500.4 758.2,500.2 976.5,601.0 991.2,570.0 766.4,428.2 876.9,493.4 861.1,421.1 888.0,491.9 1018.8,628.2 891.0,546.5 827.3,458.5 731.4,426.6 951.5,575.7 969.3,562.0 833.6,418.5 812.6,410.0 797.7,493.2 832.9,437.7 866.9,509.2 798.9,413.0 1063.9,705.7 829.3,441.7 935.8,589.9 871.5,462.9 910.7,506.5 901.2,520.0 891.1,522.9 876.8,438.0 975.6,601.5 876.0,478.3 1043.9,652.2 1016.9,631.9 905.3,539.1 938.6,521.7 869.8,531.3 1055.8,720.9 817.7,394.3 836.3,433.1 843.0,500.4 963.4,551.9 875.6,515.2 739.2,455.9 930.8,558.1 899.0,577.8 917.8,593.8 879.7,437.1 822.3,445.0 830.7,493.7 896.0,541.2 939.6,597.3 926.7,545.3 900.1,470.8 1036.3,668.9 834.4,405.4 914.3,529.7 876.0,456.1 1033.7,680.8 855.7,470.5 1016.5,659.6 886.1,519.7 946.3,562.4 1064.2,662.9 1034.1,650.8 875.8,461.9 973.9,588.5 748.5,438.6 790.2,418.7 794.3,469.0 759.2,520.3 755.0,528.2 1065.5,674.7 819.1,393.8 859.5,512.1 886.9,569.5 879.1,433.7 781.3,471.1 752.1,519.0 1014.6,650.4 952.2,562.8 841.4,447.4 900.6,516.8 928.7,549.4 961.2,585.0 796.7,435.9 828.7,481.6 836.7,459.4 901.1,570.4 754.6,433.4 867.3,513.6 805.7,380.7 758.8,522.1 1068.5,718.4 985.7,610.9 946.3,524.6 906.3,519.9 793.3,406.9 739.0,459.2 803.0,488.9 802.8,406.4 1059.6,706.4 985.7,615.5 897.0,509.9 1016.3,654.1 866.2,427.7 920.4,518.2 1065.0,691.6 870.9,436.9 904.2,502.6 801.3,386.4 882.5,434.9 962.8,605.5 1055.9,683.1 1080.5,660.9 895.3,543.3 876.8,443.4 760.7,557.6 1049.6,687.0 1055.8,713.1 1031.0,669.9 820.1,388.1 791.6,428.2 978.4,557.9 844.1,477.6 871.4,463.3 1031.3,661.4 895.5,545.0 1028.2,637.3 1061.8,706.8 846.7,440.3 879.7,490.7 825.1,488.1 902.9,515.5 911.2,541.7 934.5,581.2 829.3,428.3 857.1,489.5 882.4,488.4 1047.1,669.4 909.2,570.8 943.6,590.2 806.9,398.7 1039.9,671.2 793.4,473.1 978.1,605.9 879.3,439.7 867.4,516.9 790.3,475.2 915.3,553.8 887.3,549.9 1024.6,637.6 814.3,436.8 845.7,444.0 993.4,625.2 933.6,496.4 1035.7,669.6 861.5,475.9 993.3,589.0 890.9,455.8 874.9,520.1 817.2,417.8 892.7,481.5 1059.9,684.2 824.7,477.1 1020.5,625.8 1069.2,684.6 825.3,433.0 869.2,466.5 925.2,500.5 954.4,545.8 891.0,468.4 859.4,471.2 893.1,558.8 1034.2,646.5 934.4,559.6 935.1,562.9 1058.8,716.6 868.0,487.0 915.2,545.3 897.9,481.9 980.5,579.1 911.9,511.5 1002.9,629.0 937.6,596.2 913.7,533.3 1020.1,647.3 1053.9,681.9 754.2,473.6 913.9,567.6 866.0,464.7 892.4,468.4 913.7,493.0 992.2,613.2 888.8,567.8 749.4,438.7 1021.5,666.9 788.1,475.3 940.9,588.1 967.0,573.3 989.1,596.7 1033.1,654.2 790.5,437.2 929.8,502.9 836.7,471.4 1010.8,643.7 916.9,546.3 802.8,470.4 856.3,504.4 1068.8,742.1 900.5,536.2 886.4,448.2 977.4,569.8 1023.8,665.6 847.4,465.8 836.3,444.8 1058.9,689.1 964.2,576.3 819.0,406.3 1062.3,729.8 860.9,444.4 829.4,433.1 853.3,495.7 808.1,370.2 1055.1,715.6 747.7,429.6 933.4,566.8 881.5,551.4 849.2,466.7 893.4,569.5 806.8,416.7 748.9,431.4 877.7,432.1 892.6,498.9 1044.4,686.5 824.1,482.0 847.3,499.1 800.9,437.0 871.9,480.4 963.5,551.0 936.6,603.8 918.2,605.0 832.3,450.4 1033.8,689.6 781.2,484.3 737.5,482.4 874.9,542.1 885.9,526.4 970.0,588.3 1004.0,624.3 905.1,575.9 844.9,504.9 882.1,501.2 899.0,555.2 904.9,542.9 1056.3,687.4 744.0,482.5 850.4,488.9 860.5,505.0 797.1,475.3 923.3,523.4 920.6,581.9 877.6,449.3 916.3,510.9 887.5,464.4 912.7,590.8 1062.6,721.6 949.4,523.8 791.2,413.1 899.9,561.7 805.1,444.0 826.8,415.1 786.3,438.8 798.1,418.7 815.6,379.8 975.8,605.4 1025.6,634.0 882.4,508.7 875.0,472.6 834.5,434.5 870.7,451.2 940.9,502.3 1004.5,615.6 853.4,484.4 954.9,562.2 820.4,398.8 1060.3,669.4 1076.8,713.3 972.7,586.1 767.9,483.2 1086.3,660.7 1039.5,654.1 815.4,427.3 937.6,583.1 975.4,570.9 826.7,405.8 1062.7,694.1 889.4,518.9 855.9,459.9 967.5,588.7 851.3,461.7 1020.3,658.7 810.5,468.4 840.0,477.0 1054.6,683.2 827.9,472.7 888.0,562.7 826.1,475.6 879.0,467.2 780.7,443.3 952.5,535.2 814.9,414.4 1065.4,702.1 864.4,453.8 793.9,402.1 865.5,466.4 1083.5,682.9 902.8,496.5 876.8,444.8 806.6,406.2 890.0,449.5 901.6,481.6 917.5,594.6 1078.7,695.1 931.9,608.5 849.6,463.2 914.3,561.5 843.3,475.5 871.0,500.4 926.3,566.3 752.1,498.3 825.9,484.7 943.1,569.2 977.4,566.1 1076.4,712.2 943.8,502.7 760.9,445.1 884.5,493.3 920.2,581.7 868.2,514.9 876.6,441.0 880.8,470.9 967.0,552.6 801.2,454.7 1079.0,707.7 1049.5,659.3 891.0,452.3 804.4,397.5 1045.7,653.1 884.1,558.1 993.4,605.9 891.6,555.9 923.6,497.5 914.2,541.5 877.7,474.6 833.6,413.2 1081.1,656.9 971.3,593.4 886.0,497.6 1018.0,651.6 1083.4,673.9 931.8,564.6 941.4,533.2 908.6,560.1 942.8,589.8 830.4,450.1 797.1,466.1 881.7,443.5 1030.4,676.4 799.6,461.1 911.3,575.4 955.7,540.8 816.7,462.8 1053.3,702.8 959.7,582.4 738.3,476.0 820.5,375.0 807.7,425.9 885.0,561.8 930.4,537.6 770.6,426.0 896.5,471.7 843.5,458.6 804.5,470.6 847.9,464.8 914.6,512.1 980.8,565.0 888.9,464.2 952.2,544.4 899.2,513.5 910.1,579.0 1031.7,645.3 1027.1,631.6 1031.9,656.3 794.2,451.5 751.9,446.1 854.3,446.5 931.7,586.1 987.4,578.6 755.4,494.5 940.3,572.3 896.8,579.1 1036.3,669.3 900.6,502.6 1018.7,660.8 857.9,450.4 1041.0,672.0 795.8,421.5 876.8,485.4 810.4,446.5 755.9,419.8 794.1,378.4 737.2,478.2 864.8,500.9 889.4,464.1 730.8,390.8 908.6,567.7 882.8,481.7 825.1,433.9 1030.4,635.1 1064.2,748.9 900.1,572.4 1037.7,648.0 841.9,473.9 878.1,524.9 940.3,530.5 906.7,502.3 854.0,469.7 848.1,494.2 859.7,503.6 957.6,595.8 811.2,411.2 847.7,489.9 1082.1,649.0 1066.6,726.4 1054.3,691.6 850.6,423.2 796.5,480.3 1044.3,672.4 987.2,562.8 800.6,462.6 859.0,480.7 947.9,587.7 949.2,540.7 819.3,384.3 957.0,598.7 1007.3,596.2 758.4,452.2 732.6,403.9 943.6,505.1 926.2,527.2 765.7,481.7 824.3,440.8 887.0,561.2 920.1,514.6 826.3,471.3 939.8,541.4 761.5,492.6 869.1,431.7 1049.7,683.6 900.4,521.3 841.9,442.2 923.9,503.7 756.2,544.2 853.1,474.3 941.4,587.5 1049.8,666.8 803.8,468.7 916.1,578.4 980.7,566.1 870.8,441.0 812.9,398.7 968.7,570.3 799.9,425.1 948.0,591.1 955.3,572.2 920.6,515.7 891.9,508.3 813.5,412.9 931.9,502.1 1062.6,713.9 749.1,424.7 954.2,559.3 847.9,440.6 903.0,573.1 831.0,478.3 883.2,462.4 844.1,453.6 888.7,553.1 896.7,533.3 818.1,471.5 942.9,590.4 843.8,488.6 800.7,438.6 902.7,502.9 893.1,509.4 1020.3,650.3 882.7,492.9 989.8,562.1 1067.4,676.9 907.8,585.9 782.5,405.1 1055.3,709.9 892.4,523.5 1076.1,704.8 935.4,606.5 794.2,432.7 783.5,436.3 1022.9,665.6 863.8,496.8 912.7,578.7 746.0,444.6 1048.7,675.3 1018.9,679.7 901.1,513.0 953.1,595.5 787.2,422.8 809.5,473.8 831.5,424.0 1061.8,683.6 975.2,586.1 743.2,499.2 914.8,572.4 883.0,463.8 898.8,476.1 910.7,520.4 973.2,565.1 815.9,460.5 918.5,537.7 898.1,554.6 876.9,491.2 1031.5,662.6 755.5,442.4 923.4,538.0 736.7,433.4 752.3,445.1 832.1,431.1 951.3,513.2 867.8,513.5 879.1,433.0 796.2,495.2 831.6,443.4 1076.3,677.1 847.2,504.4 895.4,459.9 802.4,439.8 1031.4,665.7 807.7,455.3 814.8,425.3 911.7,516.5 1027.3,647.6 913.2,577.5 817.0,397.8 906.6,538.4 954.9,591.4 1018.8,682.9 891.5,569.2 884.3,456.6 931.4,545.0 891.2,555.7 1074.2,663.7 940.5,506.2 856.0,427.1 940.9,524.2 884.9,541.7 1083.6,687.2 852.4,423.6 913.0,554.0 1031.2,669.1 810.8,402.2 832.7,443.3 824.6,400.8 937.7,578.3 1041.1,661.1 1011.5,660.0 921.3,537.0 878.8,497.4 765.2,450.6 1074.8,656.6 939.4,534.6 927.3,557.4 864.5,441.5 915.1,526.1 803.2,476.5 878.8,439.5 978.4,570.5 842.5,450.3 878.4,441.6 889.9,572.6 993.3,578.6 810.1,466.6 946.2,550.9 1064.8,678.8 923.5,580.6 1052.8,658.9 921.7,520.9 944.5,550.3 973.0,602.4 903.1,520.1 1059.8,731.8 827.9,460.4 754.3,512.3 877.9,435.6 962.9,598.8 814.9,467.1 1027.6,642.4 989.7,591.9 1000.2,603.7 785.5,460.9 1009.3,640.4 923.1,524.3 912.7,495.7 738.8,489.8 894.4,466.4 788.5,435.5 922.6,597.8 792.6,483.0 784.1,451.5 769.2,454.7 875.0,432.9 935.4,528.8 901.3,474.0 745.0,496.5 868.5,513.6 1077.6,664.9 935.2,549.0 860.5,502.1 893.4,509.8 893.3,470.7 786.2,468.9 884.8,515.5 758.3,423.5 798.9,454.1 1026.1,690.5 924.0,569.2 1062.5,721.6 905.5,541.3 783.0,444.2 825.3,405.3 1035.1,652.2 918.3,526.3 868.3,472.5 970.4,553.4 799.9,407.0 882.2,445.6 958.3,571.1 1005.6,636.4 939.8,593.9 894.6,541.0 861.9,471.4 982.6,602.0 759.9,484.0 932.3,603.3 886.6,549.4 876.1,473.1 837.3,464.1 757.9,467.4 952.4,550.3 1061.8,713.0 1023.8,630.4 971.2,549.8 884.3,555.7 851.7,460.7 919.3,544.7 1054.2,671.4 1082.5,692.5 938.5,588.3 859.6,459.8 883.2,516.9 1056.6,677.3 814.2,455.1 837.4,460.7 1018.4,654.9 910.4,591.7 833.3,429.3 918.8,599.1 759.6,472.1 942.7,589.6 826.1,451.1 1059.9,731.2 1077.7,704.4 835.9,488.2 851.1,479.3 904.1,490.8 1042.1,656.1 1076.6,653.3 857.9,483.3 1006.4,596.3 1052.3,657.7 927.7,550.2 1072.3,703.3 797.2,461.1 778.6,469.9 797.2,499.1 892.2,496.0 901.7,512.9 814.7,411.9 1071.2,701.3 915.4,602.5 804.3,442.9 826.1,485.8 886.8,478.7 1070.0,683.9 903.1,555.6 871.7,494.8 922.8,519.6 856.7,499.6 934.5,587.5 939.5,543.8 874.3,425.7 846.6,445.5 893.2,516.4 1044.6,657.5 839.1,466.5 784.4,497.2 1061.2,702.6 803.4,444.6 972.2,577.1 814.2,468.1 871.9,488.2 830.8,426.0 845.2,458.8 802.9,457.4 908.5,482.6 903.9,514.7 824.3,464.6 905.0,547.8 918.0,552.8 934.7,504.9 831.3,421.5 816.0,466.4 820.7,450.9 1082.7,651.6 840.0,460.6 887.4,555.8 1077.2,700.1 882.2,544.4 1037.1,676.2 949.4,582.2 881.6,464.2 831.5,440.3 1076.5,650.3 1079.2,676.9 878.0,520.8 833.3,479.4 948.4,528.7 1005.2,595.8 838.2,465.8 891.4,548.6 863.8,487.4 815.3,399.3 928.0,560.5 918.3,546.9 872.1,422.9 746.8,524.5 793.6,420.3 786.8,430.6 780.4,502.6 1077.5,705.9 870.9,477.0 740.0,401.5 825.4,480.2 876.0,446.3 732.6,438.8 1066.5,729.6 791.2,426.4 958.1,546.0 912.5,575.4 939.0,601.7 914.5,585.4 843.9,430.8 834.7,476.7 1086.4,704.0 742.8,490.6 951.5,593.6 875.4,494.8 1003.1,635.4 822.5,450.9 911.2,517.2 777.2,418.7 910.6,571.0 1047.2,662.2 1044.7,668.5 984.1,562.1 881.9,533.7 968.4,578.3 995.4,620.0 942.0,571.2 817.7,420.4 950.1,538.9 869.1,527.9 954.2,518.0 784.1,399.8 995.7,603.2 905.8,559.6 987.7,595.9 952.7,583.7 988.8,609.3 753.6,476.6 1083.7,701.9 1016.3,671.2 1022.8,668.3 888.5,562.5 791.8,471.1 992.8,580.8 1060.2,740.9 840.1,484.5 920.6,585.3 914.4,606.2 1066.0,703.3 908.9,576.9 826.0,468.8 776.4,468.9 1049.5,662.6 1032.3,662.5 995.9,627.9 921.2,570.1 920.9,604.6 844.0,470.3 1083.2,660.5 1013.6,623.6 904.8,484.6 946.5,538.8 851.2,417.3 949.1,600.8 901.7,580.3 872.9,434.4 751.9,515.8 827.3,474.4 926.0,529.7 843.0,497.3 808.3,433.4 973.5,601.2 895.0,507.8 1055.2,693.2 868.7,426.0 791.3,386.3 950.8,593.8 911.6,567.8 780.1,487.1 821.3,485.2 1043.4,656.9 894.9,463.7 989.7,603.0 793.5,449.3 837.5,464.3 1055.1,660.8 950.2,590.5 776.5,404.4 783.4,395.8 811.2,440.3 971.5,555.7 949.4,524.1 850.5,509.2 839.9,495.7 949.7,600.9 1062.1,676.2 759.8,508.0 1062.7,682.4 757.2,411.4 796.8,411.7 899.4,522.6 775.0,459.4 754.9,462.0 851.2,486.6 909.8,489.0 1001.6,602.3 1086.8,703.1 853.2,491.9 876.2,513.4 904.1,517.0 892.2,506.4 1043.0,695.0 1042.0,673.9 761.2,472.3 864.0,464.4 868.9,463.5 862.4,467.8 1005.8,630.5 858.2,492.7 953.2,587.7 895.9,541.6 827.5,447.2 982.3,590.5 769.8,458.6 841.6,431.7 1069.0,708.9 1068.4,659.9 886.9,560.2 1132.5,760.6 1114.9,742.8 1126.4,697.8 1214.7,804.0 1179.2,829.5 1202.5,796.7 1112.2,749.2 1213.8,733.9 1217.3,768.0 1148.7,737.2 1126.3,724.1 1228.9,831.4 1230.2,892.0 1128.6,737.3 1121.9,696.7 1110.9,766.8 1186.5,857.0 1219.9,820.3 1182.9,770.2 1179.8,705.5 1253.2,791.6 1110.5,766.9 1201.0,718.9 1209.2,765.5 1250.5,795.1 1144.6,762.8 1195.8,763.4 1206.0,792.7 1221.9,831.0 1193.3,802.0 1223.8,814.6 1197.1,795.8 1115.8,714.3 1127.4,719.8 1145.3,730.9 1168.0,779.3 1253.5,784.5 1183.4,785.5 1172.2,783.6 1243.7,758.9 1158.5,810.4 1210.0,762.0 1175.2,794.2 1232.4,745.8 1214.5,720.7 1253.6,785.3 1169.0,758.2 1164.1,788.0 1190.1,799.5 1232.5,762.6 1217.6,729.9 1134.1,768.7 1120.1,700.7 1230.5,796.1 1231.2,849.7 1206.1,781.4 1182.3,715.0 1179.6,845.6 1131.0,732.9 1174.8,793.2 1187.1,855.1 1182.7,701.1 1111.4,727.0 1174.7,723.0 1165.4,779.5 1224.0,741.5 1243.6,768.5 1200.1,735.9 1126.2,749.5 1115.6,693.7 1192.5,848.5 1185.7,826.2 1169.1,793.3 1125.0,696.8 1183.0,780.3 1195.3,717.0 1194.2,814.5 1176.3,843.9 1152.9,793.1 1178.6,737.7 1186.7,708.9 1215.0,874.5 1226.0,811.8 1233.8,792.3 1212.3,758.2 1237.4,760.0 1231.8,890.5 1195.9,846.0 1175.1,836.3 1167.1,740.6 1162.4,791.4 1119.1,724.8 1193.4,807.9 1186.2,794.8 1169.5,766.2 1180.3,833.7 1117.9,752.5 1228.0,757.8 1264.1,793.4 1226.3,824.7 1227.2,762.4 1140.9,755.3 1134.4,770.8 1120.4,709.6 1216.0,788.7 1114.6,764.0 1174.1,710.8 1137.7,703.9 1176.3,819.3 1172.4,783.9 1123.4,745.1 1204.8,740.9 1149.2,774.4 1211.3,783.0 1216.2,849.0 1217.1,804.4 1211.2,812.3 1155.5,795.5 1145.8,729.0 1231.3,800.3 1117.4,721.8 1117.1,731.4 1143.6,745.6 1159.4,731.2 1210.7,792.1 1229.7,785.5 1214.8,877.8 1146.3,720.6 1131.4,782.6 1216.0,820.5 1197.0,797.0 1153.1,798.7 1118.7,727.3 1179.7,749.4 1173.9,775.8 1192.9,836.7 1209.5,774.2 1222.0,778.7 1257.0,793.4 1219.4,745.8 1118.3,733.8 1214.5,860.8 1231.9,723.6 1249.4,759.2 1247.5,753.5 1172.1,711.4 1179.2,700.2 1219.7,827.6 1219.1,885.6 1224.1,827.5 1135.2,764.8 1120.4,755.4 1255.9,787.0 1259.3,776.7 1179.3,817.8 1181.5,842.8 1257.1,767.6 1121.3,768.3 1210.2,810.7 1229.9,771.0 1256.3,777.5 1153.4,782.8 1226.2,822.9 1209.1,781.0 1182.2,802.5 1180.5,787.5 1242.0,749.9 1229.6,871.9 1235.3,771.4 1168.2,725.0 1222.4,721.8 1190.8,849.2 1140.4,715.1 1187.2,723.5 1186.1,717.1 1118.4,732.2 1220.3,740.0 1123.2,751.6 1231.1,763.8 1213.5,746.1 1139.0,736.0 1220.3,848.7 1190.4,796.6 1185.6,762.1 1174.7,802.6 1196.9,711.2 1125.7,693.1 1228.4,807.4 1190.7,833.4 1155.8,704.4 1202.5,803.2 1205.1,804.8 1174.6,755.0 1214.8,850.0 1129.1,767.2 1212.1,794.5 1164.4,799.0 1189.5,693.4 1134.2,701.3 1177.2,844.2 1115.1,725.1 1153.2,791.3 1179.9,851.8 1228.8,780.8 1148.8,737.9 1224.5,759.7 1114.9,696.2 1136.0,707.8 1133.5,794.8 1232.0,817.7 1180.3,831.5 1159.4,741.3 1175.0,740.7 1180.8,771.8 1113.1,691.1 1184.0,739.6 1249.6,781.8 1121.6,700.5 1174.7,849.4 1154.8,807.5 1256.5,784.7 1187.8,711.2 1228.5,744.9 1193.4,779.2 1125.5,733.5 1132.6,789.8 1207.4,735.2 1243.9,748.0 1195.5,856.1 1174.3,731.2 1159.9,711.5 1233.0,782.4 1170.8,818.4 1120.4,747.1 1219.9,891.6 1116.5,689.7 1231.0,755.2 1176.7,838.1 1129.5,693.4 1184.8,725.2 1198.6,701.3 1177.5,745.6 1228.6,795.1 1159.4,776.5 1166.7,803.3 1247.4,787.8 1217.2,751.1 1160.5,776.9 1139.5,780.7 1160.7,765.5 1147.7,768.6 1169.7,806.1 1164.8,809.0 1221.8,856.3 1191.7,841.4 1146.7,770.2 1223.9,843.2 1227.2,759.7 1195.5,764.2 1147.9,782.9 1132.9,765.3 1141.8,705.5 1128.1,772.9 1211.4,722.2 1162.5,773.4 1125.4,706.3 1195.3,807.5 1197.8,706.0 1192.1,771.1 1133.0,743.6 1180.8,808.4 1145.7,772.4 1185.1,834.9 1234.3,735.1 1147.1,739.7 1114.8,699.3 1180.1,756.0 1218.2,804.3 1230.3,792.6 1199.6,733.7 1198.5,786.9 1231.2,883.6 1176.0,808.9 1156.3,787.2 1139.1,787.0 1191.3,835.4 1213.7,740.8 1235.5,793.4 1189.1,699.1 1187.1,803.9 1196.7,736.7 1195.1,703.0 1149.0,758.0 1181.9,719.6 1126.9,784.7 1152.5,762.1 1149.8,770.3 1179.6,698.4 1176.6,697.5 1216.0,860.9 1245.8,766.0 1219.0,882.1 1185.3,759.5 1217.2,750.1 1163.7,718.2 1217.5,843.5 1171.1,732.3 1111.6,725.5 1145.8,728.0 1168.5,793.7 1229.3,785.7 1140.2,756.0 1168.7,808.6 1192.6,826.4 1167.6,825.2 1193.4,692.7 1199.2,812.0 1264.4,795.3 1158.8,773.1 1222.6,751.0 1177.6,702.7 1220.9,878.3 1115.3,702.2 1126.5,734.2 1251.1,753.1 1132.8,729.7 1236.4,752.0 1195.8,710.1 1225.6,882.6 1262.7,788.3 1216.4,748.3 1153.9,786.4 1188.9,749.3 1142.4,755.1 1126.9,745.2 1215.4,760.3 1201.8,741.3 1216.0,854.8 1184.6,772.8 1193.2,770.7 1219.1,890.7 1132.9,772.6 1178.6,739.5 1188.8,697.1 1214.5,728.5 1146.3,759.4 1132.8,761.5 1137.3,762.9 1140.1,752.1 1156.4,798.7 1188.8,815.4 1162.4,794.7 1182.6,813.7 1221.8,743.4 1134.4,765.6 1131.3,758.3 1120.9,732.2 1261.8,775.8 1123.9,765.2 1135.6,773.4 1227.6,727.8 1170.3,754.9 1141.0,730.9 1141.9,740.1 1191.0,801.5 1185.6,754.5 1213.2,769.0 1154.5,708.6 1111.9,755.4 1181.5,718.7 1222.2,728.9 1153.7,782.7 1137.8,749.3 1260.0,790.8 1223.3,851.7 1141.2,745.9 1169.5,833.1 1153.2,714.7 1160.5,792.9 1183.7,719.3 1119.6,699.8 1138.2,763.4 1164.3,713.0 1173.1,717.5 1195.0,834.2 1217.6,792.4 1229.1,845.9 1165.8,741.4 1189.3,738.9 1231.0,799.3 1247.5,777.1 1132.8,772.1 1220.2,750.1 1237.0,758.7 1142.6,772.5 1183.1,719.5 1208.0,738.3 1211.1,796.8 1197.1,807.9 1173.2,800.9 1230.1,764.0 1111.9,703.2 1238.3,790.6 1189.7,810.5 1172.5,732.9 1157.2,730.3 1139.2,750.8 1209.3,796.7 1194.7,727.5 1213.8,721.6 1233.2,730.0 1114.9,681.4 1148.2,768.7 1170.3,765.4 1184.3,850.6 1231.8,766.8 1240.5,760.7 1144.7,758.5 1186.6,831.2 1218.8,857.9 1136.5,736.4 1190.5,824.5 1200.2,803.0 1115.8,765.7 1230.1,862.4 1161.6,758.2 1227.1,776.0 1175.5,743.1 1145.8,746.8 1131.9,708.8 1175.6,763.8 1175.9,826.3 1233.0,772.1 1223.9,891.5 1216.5,766.6 1152.2,748.9 1157.2,717.7 1220.2,790.5 1175.0,776.1 1255.8,787.2 1148.3,782.9 1183.1,718.6 1146.1,728.2 1259.0,770.9 1180.5,712.7 1189.2,802.6 1171.0,773.3 1214.4,815.0 1128.8,739.8 1120.0,703.9 1228.8,821.2 1216.2,824.3 1189.4,721.2 1216.6,869.9 1254.8,780.0 1115.4,693.3 1123.5,725.8 1137.3,703.5 1147.1,766.2 1126.6,787.4 1245.7,749.3 1262.1,773.2 1118.6,756.1 1130.1,741.3 1154.6,806.8 1191.6,703.9 1229.1,818.4 1124.9,751.1 1186.3,740.1 1230.3,756.3 1206.4,777.2 1160.0,806.8 1222.8,744.7 1218.5,812.3 1148.3,752.8 1189.0,757.7 1206.3,728.4 1236.5,774.5 1156.9,760.9 1180.9,846.0 1220.8,737.5 1177.5,851.3 1203.8,736.5 1237.1,790.4 1141.8,711.8 1128.5,693.8 1172.5,831.3 1254.0,789.4 1198.9,782.5 1131.0,782.2 1207.4,802.2 1137.1,737.3 1208.5,811.1 1215.2,789.7 1188.3,814.0 1160.4,743.2 1189.6,854.9 1230.1,823.3 1228.2,745.7 1199.0,805.6 1226.6,751.2 1111.0,742.9 1183.8,856.9 1240.9,768.7 1157.9,777.5 1199.5,763.3 1195.0,787.1 1174.3,736.5 1222.6,774.7 1191.3,753.0 1199.0,702.5 1166.6,748.8 1189.6,803.4 1122.1,766.7 1224.1,725.7 1148.1,783.6 1175.9,728.6 1120.2,725.2 1190.1,740.1 1160.6,757.3 1159.0,708.0 1161.0,734.2 1187.0,739.4 1157.6,731.3 1203.4,728.1 1214.9,718.1 1139.8,748.9 1162.8,799.0 1246.2,788.4 1231.2,779.8 1217.2,820.3 1229.9,768.4 1194.9,706.9 1226.3,720.1 1231.8,845.0 1164.8,789.6 1139.2,770.6 1230.4,799.6 1183.7,799.2 1228.0,781.0 1116.6,762.8 1240.2,766.3 1220.7,864.0 1178.2,724.1 1194.1,733.6 1247.9,795.5 1162.8,737.6 1174.6,843.1 1228.7,873.6 1237.4,781.3 1192.5,770.2 1154.0,775.4 1118.0,697.5 1183.5,719.4 1134.4,740.6 1176.5,704.1 1209.0,803.9 1173.5,756.5 1119.5,773.4 1214.9,890.8 1152.1,800.2 1225.3,839.5 1233.5,761.1 1212.4,760.3 1220.8,718.7 1195.1,803.5 1170.4,784.5 1126.2,720.1 1234.3,785.2 1130.5,706.5 1154.9,714.0 1181.0,706.5 1228.7,727.1 1181.9,692.7 1204.7,798.3 1156.8,736.6 1123.7,758.5 1135.5,737.3 1200.3,731.0 1213.8,788.3 1204.8,721.5 1161.9,769.6 1207.8,777.5 1117.7,757.7 1155.8,722.8 1113.1,700.0 1180.4,822.8 1213.0,748.5 1142.5,710.9 1168.0,734.3 1196.1,739.4 1192.3,721.2 1172.4,792.4 1198.1,756.3 1215.4,822.8 1175.3,712.5 1112.6,730.6 1144.1,772.6 1193.6,739.8 1225.0,873.8 1188.5,849.8 1140.8,752.2 1116.4,714.4 1149.8,789.3 1160.0,768.1 1226.4,780.9 1127.8,717.5 1189.3,724.5 1123.1,763.5 1149.9,778.7 1232.0,769.6 1117.6,695.3 1195.4,695.8 1252.0,770.9 1192.0,834.4 1110.2,711.2 1162.6,778.4 1170.5,824.8 1180.0,736.2 1170.4,738.3 1175.6,796.6 1226.2,853.9 1253.6,787.7 1239.4,782.4 1131.2,770.2 1118.7,725.1 1136.2,725.0 1141.6,797.5 1165.8,842.0 1225.8,782.4 1213.4,786.2 1242.7,762.4 1193.7,731.9 1164.9,752.8 1182.6,821.6 1215.1,792.0 1153.1,774.3 1133.5,697.7 1221.8,776.0 1229.5,731.0 1181.5,696.9 1154.9,708.3 1225.7,823.9 1137.7,788.0 1201.4,712.3 1184.6,846.1 1175.9,855.4 1185.8,805.7 1222.7,843.6 1142.8,739.4 1134.5,719.2 1244.2,753.3 1115.8,725.3 1143.1,744.6 1207.7,794.0 1117.7,728.2 1156.8,703.0 1247.5,753.5 1166.9,829.4 1171.6,811.8 1169.7,848.6 1172.2,746.0 1222.0,734.0 1222.7,756.4 1214.3,856.0 1175.5,741.9 1189.5,777.5 1121.7,749.9 1186.2,721.2 1211.7,748.4 1230.1,796.9 1181.8,712.2 1170.5,842.8 1115.1,750.8 1170.5,855.4 1223.7,835.2 1159.3,785.3 1160.2,745.2 1164.8,765.6 1176.5,765.5 1131.5,771.2 1116.7,772.3 1177.0,810.6 1128.0,739.4 1180.8,750.7 1119.7,768.7 1218.8,757.7 1216.2,860.6 1214.2,848.7 1189.8,712.1 1219.5,880.2 1196.4,742.5 1188.0,834.9 1199.0,759.5 1164.4,729.3 1179.2,758.8 1232.2,817.5 1164.8,730.4 1194.8,699.4 1202.8,743.3 1153.7,722.4 1181.1,762.6 1123.4,765.8 1239.3,771.9 1231.7,799.6 1148.5,728.2 1153.9,768.6 1211.7,754.8 1173.4,712.4 1234.2,768.5 1176.4,847.0 1184.7,748.2 1194.2,714.9 1191.5,804.6 1138.9,750.2 1178.8,756.9 1180.3,709.2 1220.3,730.3 1180.7,835.3 1193.4,772.6 1163.4,800.3 1129.9,703.5 1234.5,741.9 1184.2,721.1 1166.4,828.1 1153.4,769.9 1133.2,743.5 1180.8,767.2 1259.9,786.1 1231.7,744.4 1140.9,759.1 1173.3,812.0 1138.7,777.1 1229.6,806.4 1183.1,752.2 1230.6,822.1 1239.3,765.6 1199.2,784.1 1189.5,843.9 1142.7,779.1 1167.8,752.9 1137.6,728.6 1169.8,742.6 1135.8,740.1 1123.8,733.5 1257.3,772.6 1192.1,769.1 1182.5,763.5 1197.6,744.7 1223.8,777.0 1262.0,789.3 1118.6,763.2 1146.1,765.6 1123.7,721.2 1124.7,775.5 1258.2,789.7 1170.0,713.8 1208.6,743.9 1185.9,767.0 1175.8,796.9 1218.6,826.1 1173.9,712.4 1182.3,848.0 1228.1,837.5 1186.4,803.2 1154.5,755.5 1157.4,714.8 1137.9,781.8 1148.6,773.7 1189.0,843.0 1188.8,712.9 1148.8,750.2 1217.1,816.1 1194.6,844.2 1121.7,763.9 1215.1,727.0 1187.5,800.7 1132.6,773.0 1131.3,795.8 1217.5,885.7 1177.4,722.9 1147.5,770.6 1215.9,776.6 1168.9,716.4 1230.6,748.7 1238.9,766.9 1204.9,738.1 1224.5,841.8 1178.5,836.3 1179.0,716.6 1255.4,761.8 1190.0,747.4 1262.7,781.6 1147.3,747.8 1252.2,783.9 1192.6,758.0 1254.8,788.3 1188.5,771.0 1227.6,745.4 1178.6,769.6 1215.4,848.4 1194.9,810.5 1253.7,762.6 1147.4,776.3 1255.2,769.8 1152.2,799.2 1117.9,715.0 1137.3,754.6 1216.1,777.6 1139.6,794.0 1244.0,785.4 1242.9,749.4 1146.6,755.4 1247.8,776.2 1231.4,744.5 1190.0,691.8 1195.0,698.4 1111.7,688.0 1189.8,777.3 1221.0,803.1 1145.1,763.7 1122.2,697.9 1189.1,731.2 1229.8,818.7 1195.3,852.5 1237.1,761.1 1192.0,803.8 1179.4,840.8 1189.5,751.1 1179.3,824.2 1110.5,771.9 1221.4,773.3 1147.8,791.0 1172.4,738.0 1128.7,712.6 1247.3,773.6 1204.8,748.8 1125.2,712.2 1202.1,714.3 1214.6,785.8 1188.5,747.9 1251.7,771.8 1185.1,775.0 1135.4,763.1 1255.7,790.6 1217.8,807.8 1122.4,703.1 1138.5,738.2 1250.0,751.6 1223.7,845.6 1169.2,721.4 1181.2,803.2 1152.7,760.0 1220.4,834.2 1227.7,805.5 1150.1,738.6 1202.4,744.9 1165.2,803.5 1200.3,751.1 1208.4,723.5 1146.9,720.1 1156.6,754.2 1174.3,762.5 1235.6,756.2 1225.4,826.2 1260.1,769.1 1147.0,778.5 1164.7,755.3 1123.1,710.1 1191.4,758.3 1251.2,795.8 1246.6,785.9 1196.9,742.5 1214.1,856.7 1247.1,774.1 1175.9,847.2 1193.8,798.6 1146.1,779.8 1217.8,729.1 1251.0,757.3 1166.2,777.7 1243.1,765.3 1189.5,852.0 1172.0,787.0 1232.5,728.8 1201.0,790.6 1184.2,749.2 1175.6,855.6 1201.0,705.6 1236.4,781.8 1215.9,851.7 1134.2,764.5 1183.8,736.8 1224.7,765.9 1167.9,732.9 1110.5,703.3 1120.4,739.2 1123.3,723.1 1160.4,738.2 1227.6,811.2 1118.5,761.9 1212.6,732.9 1180.6,808.3 1167.5,738.8 1245.5,778.6 1119.0,750.8 1171.0,750.6 1179.4,731.0 1224.0,758.5 1218.0,748.9 1187.6,768.8 1113.0,711.5 1220.3,839.3 1119.0,770.7 1124.2,699.9 1174.3,752.3 1211.2,767.6 1146.8,715.2 1150.6,720.0 1193.6,703.0 1216.8,806.9 1164.6,805.1 1147.1,721.5 1149.8,781.6 1196.5,770.6 1201.1,782.7 1212.4,767.1 1204.5,777.7 1138.9,745.5 1115.8,704.7 1180.1,788.6 1207.3,803.0 1189.8,767.2 1188.1,704.1 1243.5,760.2 1203.9,801.3 1229.6,869.1 1251.7,788.4 1192.4,711.8 1197.0,795.3 1245.0,793.2 1110.6,750.5 1113.1,684.3 1183.3,763.0 1231.4,889.6 1224.1,851.6 1164.1,741.1 1220.2,718.3 1221.8,871.1 1210.6,808.1 1125.6,745.3 1114.5,727.7 1138.8,717.4 1221.2,820.9 1110.8,701.6 1202.2,774.7 1176.6,745.9 1220.9,781.8 1191.5,763.7 1229.8,773.7 1261.5,788.7 1207.3,791.6 1224.0,833.0 1191.8,739.4 1175.1,854.4 1119.5,715.3 1213.2,745.1 1241.1,782.6 1135.7,762.4 1215.8,834.9 1128.7,747.5 1222.7,891.0 1210.7,761.4 1176.3,807.8 1206.3,750.0 1123.7,736.6 1130.4,780.4 1161.0,730.0 1132.5,720.9 1123.0,771.9 1238.2,778.9 1177.4,825.1 1219.2,886.6 1175.8,753.7 1220.3,723.9 1178.7,722.4 1229.6,881.3 1169.4,792.6 1121.7,765.4 1161.3,809.9 1190.8,689.8 1215.3,766.0 1125.5,708.2 1249.4,766.0 1173.2,855.4 1114.6,730.0 1181.1,750.3 1183.2,856.7 1190.9,802.7 1232.9,767.7 1122.2,721.4 1213.3,763.9 1192.8,716.5 1220.0,863.4 1163.6,741.1 1165.2,736.4 1238.9,748.1 1203.6,740.1 1216.1,827.7 1192.3,824.8 1253.8,761.8 1112.0,717.7 1155.4,796.9 1190.2,809.5 1181.7,826.4 1182.6,819.5 1250.0,753.8 1226.3,762.7 1225.4,758.7 1171.4,799.4 1223.6,822.7 1154.1,774.5 1141.0,787.5 1126.9,712.8 1172.9,729.4 1192.0,791.9 1228.2,834.7 1171.3,832.6 1133.2,734.7 1163.7,789.5 1254.2,779.6 1254.7,791.7 1156.3,785.4 1206.9,753.4 1190.7,775.8 1214.5,796.4 1117.6,685.4 1251.2,792.5 1172.6,835.2 1257.2,764.7 1183.1,738.7 1190.4,802.3 1167.7,818.4 1173.0,837.5 1192.1,711.2 1159.2,811.4 1229.1,785.5 1181.2,795.7 1222.4,768.2 1169.9,706.9 1180.3,741.6 1153.3,763.6 1139.9,783.6 1147.1,758.3 1177.6,698.1 1198.7,779.2 1178.6,698.1 1259.2,776.1 1117.8,768.3 1198.6,760.0 1129.4,704.4 1190.3,853.5 1216.3,839.7 1118.1,694.3 1253.2,777.2 1160.5,745.9 1232.5,806.1 1186.8,753.5 1169.8,819.0 1219.1,832.6 1186.4,800.0 1181.3,758.3 1232.6,793.6 1169.0,757.9 1181.8,710.5 1119.8,772.7 1177.9,697.2 1176.3,834.5 1226.6,815.6 1142.2,751.2 1230.3,761.7 1221.1,823.3 1250.5,763.7 1166.0,745.6 1251.3,776.6 1230.8,735.0 1149.9,758.1 1200.8,791.1 1190.0,792.4 1177.6,827.8 1152.1,799.3 1179.3,712.9 1121.1,711.6 1147.2,780.4 1203.7,801.7 1120.4,729.4 1214.5,751.3 1195.2,764.1 1157.2,741.3 1132.8,766.4 1225.6,887.0 1124.0,758.2 1256.7,769.7 1135.4,707.5 1251.9,789.7 1119.4,755.6 1167.7,835.2 1183.0,728.3 1126.3,782.5 1188.9,820.0 1234.9,793.3 1175.0,754.4 1145.5,771.4 1113.5,753.7 1249.6,782.6 1215.8,736.9 1218.9,868.4 1176.8,722.9 1127.6,778.1 1148.3,713.6 1127.0,787.9 1135.0,793.5 1170.1,742.5 1160.8,737.7 1183.0,723.5 1155.9,732.8 1215.3,843.9 1185.9,803.0 1183.8,723.0 1143.8,766.1 1239.9,776.2 1132.5,777.0 1227.6,823.8 1230.9,809.3 1192.5,761.1 1204.8,786.2 1240.9,751.6 1127.0,773.5 1220.5,855.0 1184.5,731.4 1174.1,799.4 1206.6,784.0 1118.8,739.8 1218.1,844.9 1120.6,750.2 1172.7,757.9 1165.6,834.4 1225.7,717.4 1144.2,718.2 1134.6,766.1 1203.5,744.1 1168.1,849.6 1128.8,794.6 1178.8,729.2 1186.5,769.1 1223.1,827.5 1139.5,767.5 1234.4,782.1 1168.6,709.1 1171.9,732.2 1180.7,725.3 1159.6,720.5 1250.0,788.9 1182.0,717.2 1190.6,797.4 1201.6,778.8 1173.5,745.6 1218.0,847.7 1184.3,850.8 1199.7,728.0 1204.5,769.4 1154.1,719.4 1231.2,744.7 1155.1,805.0 1225.1,830.9 1157.0,741.9 1226.2,754.5 1228.4,768.6 1250.5,752.1 1227.2,782.1 1161.0,739.9 1191.4,786.5 1118.8,734.8 1176.4,714.4 1219.7,884.1 1225.0,889.5 1142.3,726.2 1205.0,808.5 1196.0,720.1 1217.7,762.5 1188.1,727.0 1123.4,746.6 1117.7,734.4 1127.1,745.5 1151.0,774.2 1150.1,789.6 1184.4,802.3 1175.9,751.6 1215.3,869.0 1226.4,749.2 1196.3,763.6 1198.9,790.7 1174.6,837.7 1169.3,711.4 1162.1,704.8 1230.0,794.5 1172.6,723.3 1169.5,851.8 1172.1,703.5 1180.8,815.7 1216.8,766.3 1200.2,720.9 1236.9,790.5 1153.9,709.1 1257.3,764.7 1122.8,714.8 1154.8,725.6 1148.8,757.1 1155.9,722.7 1216.8,792.1 1139.2,775.4 1131.5,716.5 1141.1,782.3 1111.0,723.6 1159.4,722.6 1178.0,771.4 1226.7,800.9 1169.4,800.2 1178.8,833.3 1160.7,800.7 1232.1,792.2 1202.9,720.4 1228.8,843.7 1163.4,761.2 1185.1,706.5 1220.2,821.3 1130.0,742.3 1257.2,780.6 1157.5,717.8 1111.7,715.1 1112.0,721.9 1168.3,723.5 1216.2,830.1 1167.4,773.5 1218.2,730.4 1217.0,754.3 1169.6,773.2 1195.6,706.9 1211.5,781.0 1198.2,746.8 1228.1,779.4 1209.7,768.7 1226.8,874.0 1193.8,738.8 1239.6,752.2 1155.6,727.8 1219.1,801.6 1221.1,724.9 1203.6,784.7 1230.9,792.8 1230.6,850.1 1136.2,732.5 1167.0,733.1 1172.1,805.3 1133.4,727.1 1161.0,790.5 1169.8,841.8 1170.9,744.5 1177.7,771.3 1157.4,728.1 1231.1,815.8 1185.0,722.8 1175.1,743.5 1228.1,759.6 1188.4,809.9 1129.9,755.5 1195.4,853.4 1225.9,814.0 1126.3,747.8 1214.2,821.1 1110.3,737.1 1141.5,737.8 1225.3,816.8 1167.5,789.8 1192.8,759.5 1194.3,853.7 1166.6,744.2 1252.4,775.7 1136.6,786.8 1208.7,799.0 1187.5,796.7 1220.2,800.4 1157.6,760.2 1259.5,790.2 1189.1,836.1 1194.5,784.4 1113.0,732.9 1234.8,767.6 1153.9,708.2 1209.2,723.5 1160.7,775.1 1185.1,747.6 1138.6,730.2 1187.9,708.6 1186.0,778.7 1135.6,733.9 1171.9,729.7 1160.5,743.9 1173.2,774.2 1134.4,791.5 1184.0,854.4 1172.6,720.2 1186.0,758.7 1211.0,735.1 1263.5,784.1 1184.9,720.8 1190.7,770.5 1181.4,724.0 1218.4,831.8 1186.3,801.1 1186.0,730.2 1201.4,722.6 1237.1,756.2 1189.6,832.9 1139.3,716.6 1174.5,757.0 1120.0,735.9 1263.2,791.4 1154.6,760.9 1193.5,697.7 1212.7,801.8 1201.3,782.4 1223.3,730.5 1178.2,753.4 1136.0,740.8 1221.6,857.1 1120.2,746.5 1219.9,855.8 1209.9,794.2 1126.4,746.1 1197.8,729.6 1208.1,811.8 1217.2,825.7 1208.0,723.2 1181.7,707.4 1240.1,752.9 1217.2,732.4 1191.7,792.4 1162.7,749.3 1171.3,799.1 1178.4,764.8 1178.2,731.5 1129.2,700.2 1253.0,765.1 1159.2,794.5 1191.0,843.6 1133.5,732.0 1161.7,760.0 1200.8,780.4 1149.5,793.6 1165.9,705.4 1216.2,820.9 1141.1,749.3 1119.0,770.5 1198.4,715.7 1201.2,810.5 1192.7,791.1 1215.2,781.2 1128.6,694.0 1154.0,755.0 1198.0,792.1 1221.1,746.2 1180.9,830.8 1113.2,733.6 1183.7,816.9 1151.7,798.9 1191.3,829.1 1226.3,873.6 1244.1,747.5 1116.3,722.7 1229.8,738.1 1157.5,708.5 1220.5,866.0 1217.8,767.0 1126.3,746.0 1190.3,776.9 1131.7,747.3 1178.1,703.8 1222.7,801.9 1214.1,749.2 1178.1,744.4 1139.4,748.8 1129.5,796.9 1171.5,842.4 1166.6,737.4 1120.6,734.9 1113.6,744.8 1151.6,708.9 1183.0,843.8 1141.7,726.2 1229.6,752.5 1180.2,801.7 1115.1,744.7 1194.0,834.7 1160.0,782.6 1209.1,812.6 1200.7,804.5 1126.1,787.8 1137.7,730.9 1259.6,778.8 1203.6,726.0 1186.0,775.0 1166.5,813.9 1137.1,739.3 1111.3,767.8 1127.5,711.1 1168.6,760.5 1119.8,771.5 1214.4,722.7 1213.2,781.6 1198.8,714.5 1242.5,764.9 1213.4,802.3 1181.4,855.0 1187.6,844.0 1137.6,731.7 1121.7,723.9 1182.1,750.2 1146.5,747.2 1167.7,830.0 1246.5,765.7 1168.2,799.7 1252.1,770.6 1218.0,724.8 1146.4,738.6 1200.4,715.7 1262.5,781.0 1188.1,755.8 1167.7,781.5 1151.7,754.1 1163.5,773.0 1186.8,814.1 1209.9,797.1 1228.1,833.4 1243.6,760.1 1187.1,807.9 1129.8,719.7 1218.5,758.5 1128.9,736.0 1153.0,806.6 1131.3,789.3 1169.5,835.4 1131.2,796.0 1129.4,777.6 1220.5,786.4 1214.3,802.1 1206.9,716.2 1249.5,764.9 1167.9,739.7 1231.9,772.1 1223.9,762.9 1147.5,757.1 1220.0,744.6 1200.9,728.9 1113.2,713.9 1217.0,861.7 1180.8,694.7 1226.3,835.1 1230.6,791.1 1193.7,722.8 1226.6,828.2 1250.2,756.7 1176.7,711.5 1238.2,764.9 1171.8,747.5 1203.9,790.4 1195.6,796.3 1239.5,763.2 1216.7,741.7 1230.8,849.7 1170.8,814.6 1169.8,756.2 1217.5,812.9 1122.1,697.6 1132.9,723.3 1179.7,760.5 1219.8,831.2 1187.2,738.7 1216.5,848.3 1254.8,768.6 1208.2,750.9 1192.4,776.3 1209.3,790.2 1194.8,704.2 1215.2,852.4 1160.5,710.9 1220.9,775.2 1183.5,693.5 1183.1,734.7 1218.0,792.3 1155.9,724.2 1234.4,763.7 1208.9,772.1 1168.4,743.0 1252.8,777.0 1143.6,746.5 1178.0,798.4 1146.4,774.8 1190.3,773.7 1211.8,763.6 1220.8,800.4 1210.6,763.2 1226.3,806.0 1227.9,778.2 1254.4,776.3 1172.1,826.0 1199.6,761.9 1142.7,772.8 1147.6,782.4 1215.7,847.7 1167.9,799.9 1202.9,755.4 1215.2,749.3 1184.8,812.4 1161.3,795.7 1230.0,866.5 1204.6,751.6 1145.2,797.5 1190.5,693.7 1123.9,696.0 1227.8,847.1 1206.2,735.7 1164.4,775.0 1199.6,742.3 1113.0,684.6 1217.7,821.3 1126.6,791.7 1183.2,792.4 1187.6,741.6 1215.1,726.4 1121.7,770.1 1260.2,786.1 1230.0,751.4 1237.2,744.3 1160.4,788.7 1169.7,820.0 1186.3,794.5 1177.9,826.5 1244.9,778.3 1181.9,854.2 1137.8,710.7 1175.8,712.3 1190.3,813.0 1190.2,772.8 1176.7,809.5 1223.4,766.2 1183.3,847.9 1179.5,751.6 1206.0,792.8 1131.2,771.3 1134.9,732.3 1210.6,783.3 1254.2,760.1 1216.7,776.0 1163.7,710.9 1186.7,823.8 1220.6,823.8 1156.3,785.6 1193.2,731.8 1234.7,770.3 1154.8,788.9 1150.5,762.3 1220.7,833.4 1155.1,782.0 1144.1,781.2 1221.5,865.0 1185.4,719.3 1133.7,753.5 1166.2,830.0 1249.6,781.5 1220.0,831.7 1117.6,739.3 1141.6,723.4 1184.0,807.4 1169.9,758.4 1172.9,824.6 1180.0,809.1 1130.5,762.9 1140.5,733.9 1170.1,800.9 1203.0,715.5 1159.3,735.9 1199.7,772.0 1146.8,762.1 1182.1,702.2 1181.8,754.6 1226.7,861.2 1221.3,840.8 1141.7,770.4 1188.2,840.1 1246.2,786.3 1153.3,758.2 1185.4,736.9 1167.2,772.7 1235.6,757.4 1201.3,737.1 1202.8,801.0 1218.6,806.8 1180.4,844.3 1149.4,736.3 1171.2,714.7 1215.6,888.6 1200.3,717.2 1117.1,694.1 1215.7,859.7 1206.7,731.7 1194.8,694.4 1117.2,683.3 1217.5,772.6 1154.0,735.4 1190.3,708.5 1154.4,780.1 1165.7,779.3 1226.3,845.8 1165.2,830.6 1201.8,787.2 1197.1,707.8 1176.6,801.6 1223.7,862.5 1246.8,789.4 1175.3,748.6 1179.1,727.9 1133.6,732.3 1259.7,789.9 1200.5,813.2 1153.8,801.9 1220.6,733.4 1215.6,801.4 1112.3,746.3 1257.9,782.2 1189.1,714.8 1141.1,729.0 1138.8,730.4 1227.5,739.8 1160.5,754.3 1114.7,752.5 1170.5,747.8 1133.5,732.3 1178.8,818.0 1222.4,755.1 1232.3,732.6 1226.5,808.5 1131.9,794.8 1181.7,831.8 1230.0,861.5 1234.9,757.2 1201.7,786.6 1174.2,725.8 1132.5,755.2 1170.4,813.6 1149.4,708.1 1180.6,761.4 1204.5,760.6 1186.7,809.2 1261.7,781.3 1146.9,783.1 1216.3,769.1 1200.7,757.3 1223.0,768.9 1221.4,888.0 1165.2,784.3 1248.0,779.1 1192.7,833.6 1223.4,839.8 1190.5,844.6 1242.1,750.1 1136.7,722.6 1264.4,789.0 1113.9,752.3 1219.2,840.1 1116.2,724.6 1178.5,773.7 1123.6,708.7 1185.2,822.8 1177.0,731.2 1209.3,752.1 1158.9,811.6 1131.5,737.7 1096.8,748.2 1098.6,744.2 1101.3,737.5 1102.3,742.1 1103.5,737.7 1095.8,745.5 1093.1,739.2 1101.2,752.1 1102.6,755.3 1095.6,738.3 1100.7,753.1 1096.2,740.6 1097.4,744.1 1102.3,752.8 1103.0,741.2 1102.2,749.8 1097.2,742.7 1099.9,755.9 1102.0,748.0 1094.8,743.0 1101.1,750.5 1096.9,756.9 1097.1,739.3 1098.8,738.2 1097.9,747.9 1098.7,748.2 1091.7,752.2 1091.0,752.1 1093.0,750.5 1091.8,751.5 1091.0,750.0 1092.5,746.5 1287.9,794.9 1282.8,772.8 1287.5,757.0 1283.1,758.3 1278.4,770.5 1278.2,759.5 1287.3,790.2 1280.6,770.0 1286.6,776.4 1272.9,784.3 1273.6,783.7 1287.7,761.7 1283.1,749.6 1277.4,796.5 1282.0,786.9 1282.1,755.7 1287.1,757.9 1279.6,789.1 1290.1,789.6 1272.7,773.2 1281.9,781.6 1285.1,778.1 1280.2,763.1 1273.7,781.3 1283.9,776.4 1283.0,754.8 1277.5,753.6 1282.1,769.9 1283.4,775.5 1286.9,765.7 1279.4,750.9 1285.6,780.3 1281.0,797.0 1286.8,767.2 1273.4,787.9 1281.3,767.1 1273.3,782.8 1277.0,771.9 1286.1,749.8 1285.8,750.7 1287.4,783.7 1284.9,769.0 1274.3,796.2 1275.1,784.3 1274.9,792.7 1274.0,756.0 1276.9,755.9 1285.2,789.9 1273.4,752.5 1289.2,767.1 1277.3,787.9 1281.2,795.0 1280.7,767.7 1276.2,758.0 1287.2,750.5 1278.7,765.2 1283.7,773.5 1283.3,754.2 1273.5,763.7 1282.8,759.9 1284.5,788.0 1273.3,781.6 1288.8,772.4 1282.7,786.9 1290.4,782.6 1282.7,779.6 1284.2,797.2 1281.4,773.7 1286.1,782.8 1283.2,748.5 1287.0,751.4 1289.7,786.6 1281.7,766.1 1282.7,756.2 1287.4,780.8 1290.4,755.8 1276.5,751.5 1286.1,759.6 1289.4,762.3 1274.1,759.8 1289.2,775.1 1275.9,793.6 1277.3,794.3 1272.9,793.4 1274.7,790.5 1275.2,749.3 1276.4,765.1 1279.1,749.7 1281.9,783.7 1273.3,753.4 1279.5,771.4 1286.7,766.0 1274.4,767.7 1274.6,775.3 1283.0,763.6 1284.7,766.3 1287.1,778.4 1274.2,791.6 1286.4,771.8 1275.6,749.0 1287.4,752.0 1283.4,781.8 1279.3,759.5 1275.8,749.1 1288.8,768.2 1277.3,757.6 1285.3,788.9 1289.9,775.2 1275.5,774.6 1290.2,766.6 1273.7,778.2 1283.1,768.7 1281.7,750.8 1287.2,754.0 1276.4,752.6 1288.9,761.8 1279.4,767.4 722.3,549.6 723.2,561.0 721.6,558.4 721.1,532.0 721.2,530.4 760.3,635.0 758.8,664.9 743.3,603.4 736.7,558.7 740.4,566.9 745.2,599.3 744.2,620.9 742.0,547.0 751.4,649.9 739.5,564.7 741.9,611.8 745.9,547.1 755.6,612.5 741.0,537.5 743.6,544.4 755.4,665.8 739.4,566.2 739.0,534.9 760.2,630.2 743.1,572.8 759.2,649.9 748.9,602.4 749.9,585.6 739.9,544.5 741.2,566.7 743.5,592.4 744.9,616.3 748.3,544.7 747.2,630.5 744.7,620.2 749.0,563.0 744.3,605.9 753.8,642.6 755.5,619.6 750.1,644.6 743.4,572.1 760.3,634.7 740.2,589.3 749.3,635.0 742.6,554.1 735.9,534.8 740.1,561.6 758.3,625.1 740.7,531.6 738.0,578.1 758.2,607.6 739.4,559.9 747.5,581.7 756.9,667.2 759.4,620.9 747.6,546.8 749.6,578.4 743.3,614.8 750.3,597.9 755.9,617.7 746.2,561.0 747.5,623.0 742.5,614.4 743.1,578.1 745.4,632.4 757.7,648.9 739.8,559.7 755.0,624.1 760.0,622.5 741.4,554.8 757.8,617.6 739.9,546.0 748.4,626.7 746.5,541.5 751.5,633.6 745.5,545.7 746.2,608.0 748.0,627.3 743.6,544.3 752.5,640.6 745.8,596.4 743.1,592.1 737.2,544.0 748.7,640.5 744.8,608.1 740.0,577.5 745.1,562.7 754.9,648.1 749.0,588.1 744.9,571.9 749.1,633.3 741.6,574.2 741.4,586.1 743.7,579.0 738.1,540.5 754.9,601.2 749.7,585.8 740.6,562.6 741.8,564.9 750.2,610.4 752.9,642.0 743.5,548.6 742.3,548.1 742.2,578.2 745.4,536.6 742.1,612.6 750.9,598.0 751.5,608.6 753.6,644.2 744.2,591.1 740.4,547.2 742.8,590.6 746.4,597.9 744.1,571.5 741.4,551.3 743.2,557.2 748.0,633.2 746.1,541.3 745.6,565.9 755.4,635.0 745.6,637.2 737.1,580.1 757.4,667.7 744.7,625.1 744.3,617.5 745.3,536.7 745.7,589.3 744.2,549.9 744.9,543.2 757.7,646.3 745.8,542.1 740.1,592.8 744.9,584.4 743.7,601.9 744.9,540.2 758.7,631.9 749.3,639.1 758.8,661.7 745.9,560.0 738.1,557.8 744.6,549.5 754.5,640.7 741.2,592.5 755.6,661.5 749.1,564.6 757.6,654.2 756.5,601.7 740.0,581.9 747.1,619.5 744.3,605.0 744.7,625.1 757.6,607.3 752.2,610.1 752.0,634.9 737.1,566.5 746.4,606.5 750.1,590.7 743.4,588.2 739.6,552.1 748.7,552.1 747.2,545.3 741.9,582.9 749.7,581.5 749.5,615.0 747.5,585.2 742.0,598.0 745.7,588.1 745.5,538.2 746.3,586.8 745.1,611.2 748.9,582.0 747.1,579.1 744.8,634.2 756.7,597.5 742.3,538.6 778.6,555.3 779.4,554.9 777.4,572.6 782.9,571.2 780.6,583.3 778.0,581.1 782.4,571.0 779.0,576.7 782.2,571.5 775.6,590.0 776.9,585.8 783.0,589.7 797.5,539.8 802.8,526.1 797.7,548.4 803.3,536.7 802.4,543.1 799.5,541.0 799.6,549.5 801.0,548.9 795.7,542.4 796.5,531.7 800.3,538.3 793.8,532.8 800.0,538.3 798.9,526.3 803.1,528.0 802.2,529.8 793.8,538.2 803.8,527.1 816.8,513.2 815.9,515.7 816.4,522.5 815.4,509.9 815.4,534.8 817.5,526.7 817.1,535.6 816.8,505.1 816.6,506.8 835.7,529.8 834.9,537.7 835.4,536.3 833.0,547.7 830.6,523.4 831.0,546.3 832.4,542.1 834.1,536.9 830.5,531.1 832.1,524.9 861.1,548.5 856.9,540.3 856.7,546.6 856.8,550.6 855.3,548.7 856.5,559.1 860.6,557.1 861.3,540.3 859.5,539.0 859.2,567.7 861.7,539.6 860.1,558.0 856.8,533.6 856.7,554.7 861.2,544.6 858.1,540.2 860.7,564.9 920.6,639.6 919.4,727.1 929.3,637.0 925.0,647.3 911.3,629.2 918.3,758.5 917.9,736.3 910.8,628.4 927.7,709.5 925.5,738.6 927.3,626.1 912.2,636.6 919.1,645.5 923.8,780.9 925.0,729.2 922.4,660.3 911.2,636.8 925.3,662.9 923.1,649.2 921.5,674.8 919.7,658.6 927.9,694.6 917.2,636.9 918.8,738.9 926.8,758.7 925.7,633.1 910.1,623.8 927.5,730.5 920.5,735.6 922.9,698.3 929.4,642.8 924.9,737.7 931.9,619.3 919.2,681.3 920.7,787.5 924.3,800.1 922.6,802.0 925.0,710.5 921.3,697.6 916.9,673.7 924.1,694.2 918.7,649.0 921.6,644.6 927.3,749.5 927.7,642.0 920.7,713.8 932.3,628.8 923.3,768.1 918.0,753.1 921.2,688.8 922.7,674.4 922.3,683.5 924.0,740.3 915.1,757.4 926.8,655.3 909.5,624.7 930.4,637.8 926.4,767.8 923.2,694.1 921.9,746.9 917.7,662.0 916.3,730.7 919.2,718.0 925.7,654.4 930.2,656.8 924.1,798.5 915.1,731.6 924.9,626.1 922.3,789.8 920.7,699.5 916.9,752.6 925.2,713.0 920.7,731.8 926.9,684.7 916.6,703.7 914.5,623.8 919.3,672.9 915.1,695.5 916.1,704.0 916.7,716.0 915.9,620.0 927.7,625.9 926.0,627.1 921.0,757.4 925.2,774.3 917.0,690.8 923.7,722.4 911.1,628.3 912.6,639.1 920.0,696.0 928.7,619.5 916.8,737.3 914.6,637.8 920.8,742.7 928.4,619.9 923.7,700.8 926.6,676.0 916.0,736.2 1059.0,750.0 1061.7,748.0 1059.9,736.0 1061.1,742.2 1055.4,744.1 1065.1,737.9 1060.3,758.7 1058.6,735.0 1064.9,743.5 1064.3,736.4 1061.3,758.6 1055.9,741.0 1059.7,754.3 1062.6,742.8 1063.3,753.4 1057.5,738.3 1061.0,735.3 1056.9,748.3 1063.5,752.0 1067.4,736.4 1062.0,757.6 1062.8,741.0 1060.4,753.2 1063.7,736.1 1064.0,750.1 1058.2,738.2 1057.3,739.4 1060.1,751.4 1063.7,735.9 1054.7,737.3 1059.5,736.2 1061.3,746.4 1060.7,754.4 1062.6,754.8 1058.4,736.8 1057.7,742.9 1062.6,748.7 1060.6,749.4 1061.4,742.5 1061.3,749.9 1130.1,810.5 1129.6,802.5 1125.9,798.1 1130.3,795.0 1129.1,801.9 1130.5,806.1 1130.0,800.6 1128.6,794.1 1125.7,802.2 1129.8,805.8 1131.0,796.8 1131.2,793.9 1126.6,802.5 1126.2,805.0 1128.9,806.7 1128.8,806.5 1175.1,867.0 1174.6,860.6 1175.6,871.2 1175.3,876.7 1174.4,876.6 1175.1,870.7 1175.5,874.7 1175.2,862.2 1174.3,872.8 1175.1,856.8 1174.7,862.0 1214.2,905.1 1214.1,890.6 1214.4,892.4 1214.9,889.9 1214.0,898.3 1215.2,899.9 1214.1,894.3 1214.0,895.9 1214.9,893.5 1260.7,801.4 1258.1,810.2 1258.6,802.4 1258.2,829.9 1261.0,803.4 1258.8,839.3 1259.7,838.5 1259.6,833.2 1258.0,795.5 1259.9,796.4 1259.6,809.2 1258.3,801.2 1258.3,801.0 1259.6,814.0 1260.2,811.5 1257.5,804.4 1260.9,806.1 1257.9,795.2 1259.8,799.0 1258.6,807.8 1260.7,803.4 1258.5,795.6 1257.4,832.9 1258.4,818.5 1260.7,823.4 1258.3,806.9 1260.2,807.5 756.5,671.3 757.2,665.7 801.5,564.0 801.5,576.0 832.7,554.9 832.7,566.9 924.5,839.6 923.5,803.8 922.5,797.3 1259.2,848.4 1259.2,856.9 1258.4,867.2 1258.4,877.4 1214.9,915.2 1020.8,695.6 1035.0,694.9 1138.0,797.9 1264.9,812.6 1262.7,799.9 1261.5,817.2 1263.6,791.0 1263.7,797.5 1264.2,795.4 1265.4,802.0 1264.3,816.2 1265.0,799.0 1264.7,797.9 1262.1,774.3 1263.8,790.6 1265.4,818.1 1263.9,826.0 1264.5,812.4 1264.2,823.5 1262.4,805.8 1263.4,824.2 1264.9,819.9 1265.2,827.5 1265.2,815.7 1261.6,804.2 1264.4,788.1 1264.1,796.7 1265.3,801.7 978.0,615.8 863.4,521.4 870.8,542.2 1016.2,677.1 1017.7,688.0 1020.4,694.0 983.1,617.5 987.6,626.9 863.8,529.7 926.9,612.6 938.8,612.3 941.3,613.6 892.6,578.2 1012.9,670.2 981.2,616.2 992.8,626.7 1003.6,639.5 932.8,618.1 1044.2,705.6 946.6,606.7 961.9,612.8 944.5,606.6 913.9,613.1 941.8,606.9 860.4,522.6 930.8,610.3 967.7,608.1 961.3,612.0 1026.1,701.2 1037.5,696.3 941.5,612.5 886.3,572.1 881.0,569.0 900.1,586.8 903.5,587.8 1030.1,700.4 883.9,574.3 1033.3,701.4 867.7,537.0 914.8,616.0 984.9,620.4 983.1,620.1 1071.3,737.3 879.8,560.9 1069.3,742.1 900.7,585.5 889.3,582.9 882.8,572.2 1069.7,748.2 1082.2,715.9 926.3,610.0 921.0,614.0 927.4,615.0 862.3,522.9 892.8,581.9 880.6,564.6 943.6,606.5 1003.8,647.7 959.4,606.5 1031.2,697.3 943.2,611.1 938.6,611.4 908.0,596.6 976.5,612.6 860.5,525.3 983.1,614.2 918.1,617.1 929.3,613.7 991.1,624.3 920.9,615.4 1062.9,759.1 1040.6,700.1 992.7,631.8 897.2,587.6 864.9,525.5 946.2,606.7 1020.8,695.8 1043.6,700.5 921.0,613.3 1042.8,702.1 914.9,616.4 918.5,618.8 1055.4,727.8 903.1,588.9 955.1,609.3 871.9,541.7 1000.5,638.6 998.3,632.7 1068.4,750.2 918.5,614.3 875.8,556.9 981.0,616.4 1003.8,640.9 970.1,614.5 1050.3,698.6 931.5,617.2 990.6,625.4 945.6,612.8 1030.4,702.6 865.8,535.5 887.0,572.4 925.3,618.6 961.8,607.6 886.4,573.8 906.2,588.5 918.4,614.9 875.9,555.8 1057.2,736.1 937.0,612.1 1022.0,699.8 1029.7,700.3 863.7,523.2 957.7,611.6 1046.9,703.7 1030.6,700.5 949.3,609.9 990.7,626.7 951.0,610.7 907.7,587.6 962.8,614.4 1017.3,685.3 880.7,563.5 986.3,621.2 934.8,613.9 1012.4,672.0 976.8,610.2 1053.6,713.2 956.1,607.9 1068.7,748.2 882.9,565.1 867.1,533.5 860.3,525.8 988.3,620.8 899.5,589.7 1018.9,687.3 943.4,613.5 862.8,527.2 934.7,613.9 957.5,607.0 1009.5,658.4 1049.8,704.4 909.3,594.4 873.0,551.2 1035.6,699.9 880.0,560.3 979.2,612.7 920.8,610.1 865.7,532.0 1068.2,753.0 993.0,631.5 1068.5,745.3 1068.4,746.8 1070.2,746.1 961.4,612.0 983.2,618.7 1022.9,694.4 918.8,618.6 976.2,617.7 898.9,584.7 954.6,609.8 999.1,641.2 1014.9,682.0 1020.6,689.6 1071.5,735.1 986.6,617.2 895.7,589.2 1049.5,698.9 1066.5,758.3 933.5,610.2 960.1,611.3 1041.8,705.3 914.2,611.7 1013.9,675.8 975.8,616.7 899.1,584.8 874.6,551.8 1061.8,758.7 1001.3,635.7 963.3,609.5 1189.9,864.2 1216.1,893.2 1236.1,801.1 1226.3,899.1 1207.3,820.2 1235.5,799.4 1113.8,780.5 1197.2,815.5 1225.8,894.5 1238.4,802.0 1147.6,799.0 1134.7,802.1 1232.5,809.8 1192.1,863.2 1137.1,802.3 1152.9,814.2 1120.1,777.3 1193.1,858.7 1133.9,799.2 1183.3,862.6 1135.0,800.6 1139.6,797.8 1125.4,797.8 1172.0,859.2 1215.0,894.0 1265.8,802.6 1167.0,857.0 1120.0,776.3 1150.0,807.6 1114.1,777.1 1147.5,801.2 1231.8,900.5 1140.7,798.7 1138.5,802.7 1130.1,802.1 1175.2,862.9 1266.0,806.7 1172.0,865.5 1118.7,775.4 1229.4,900.7 1123.4,779.2 1121.2,776.1 1238.9,794.9 1186.6,858.4 1191.7,857.9 1157.2,821.3 1179.4,864.3 1262.4,798.6 1115.3,774.8 1210.4,815.4 1259.6,803.3 1160.2,814.4 1143.3,804.6 1110.6,777.5 1192.9,857.8 1216.3,899.1 1231.3,900.1 1256.1,801.0 1156.9,817.2 1200.2,822.1 1121.7,782.4 1216.5,899.8 1146.3,798.3 1235.4,800.8 1139.3,801.2 1258.1,798.5 1252.7,798.5 1113.1,780.5 1202.4,816.9 1185.6,859.4 1135.9,800.6 1137.6,801.2 1183.5,861.4 1188.6,864.0 1145.4,805.8 1244.2,797.9 1258.4,801.5 1144.6,801.3 1226.8,898.7 1189.9,860.9 1145.9,805.8 1199.8,818.7 1230.8,899.5 1199.3,813.7 1244.3,798.4 1133.4,802.6 1210.7,814.5 1242.8,801.4 1243.3,798.3 1197.0,820.4 1148.7,800.4 1260.8,804.7 1234.8,797.6 1156.8,821.6 1180.0,865.2 1182.1,861.4 1126.2,804.2 1164.0,815.3 1171.7,861.2 1126.8,804.3 1148.0,802.1 1175.3,860.1 1186.3,862.2 1188.7,860.9 1129.1,800.8 1123.4,779.5 1197.7,815.7 1117.7,777.2 1114.0,777.7 1194.1,864.6 1165.9,865.3 1208.0,819.1 1233.7,802.5 1236.5,800.7 1198.0,821.1 1127.8,800.0 1182.2,861.4 1135.7,803.2 1142.8,799.8 1132.6,801.1 1196.0,866.5 1144.2,805.8"/>
<polyline fill="none" stroke="none" style="marker:url(#mt)" points="338.5,207.3 378.2,181.6 404.5,224.3 406.2,251.4 446.2,240.1 430.2,264.1 473.2,264.6 467.2,279.6 377.5,307.8 464.2,310.0 491.2,315.6 507.2,310.0 526.2,286.5 551.2,215.6 596.2,301.8 605.2,334.6 545.2,343.5 501.2,348.7 521.2,362.2 542.2,361.0 564.5,365.6 547.2,378.5 575.2,380.7 591.2,382.5 483.2,398.5 583.2,399.5 589.2,410.2 592.5,420.8 597.5,417.0 602.5,419.6 620.2,409.6 634.2,412.7 640.5,409.7 636.2,424.7 616.2,428.9 561.2,421.4 574.2,430.2 585.2,429.5 595.2,430.3 608.2,438.3 625.2,438.4 621.2,444.6 571.2,444.4 582.2,444.5 605.2,447.1 644.5,445.5 633.2,453.5 564.2,453.6 601.2,464.6 648.2,428.5 534.2,467.1 625.0,465.9 630.0,464.7 648.8,466.0 652.0,398.5 774.5,369.4 717.5,375.9 777.5,407.4 706.8,395.8 725.5,398.2 656.2,398.6 667.5,414.4 685.0,417.5 685.8,421.2 700.8,413.8 721.8,412.6 720.8,424.6 730.0,430.2 658.0,435.6 668.2,430.6 672.5,428.1 694.5,428.3 754.2,432.3 772.5,432.9 783.2,434.9 763.8,448.3 608.8,490.8 655.5,490.6 618.2,520.9 627.5,514.7 664.5,518.6 651.2,507.3 672.5,512.4 618.8,539.6 623.8,552.2 611.2,553.3 645.0,548.5 647.5,554.8 637.5,558.5 644.5,567.3 631.2,577.2 672.5,573.6 664.2,589.9 673.8,587.4 673.0,604.9 682.5,604.9 709.2,600.6 715.0,578.9 705.0,590.1 777.1,407.2 772.8,434.5 783.0,435.4 809.5,433.7 812.1,433.4 822.3,438.0 823.5,443.1 801.0,443.9 833.4,460.2 854.7,462.0 859.9,465.4 866.7,451.8 871.8,454.0 887.2,496.2 904.2,529.7 905.1,538.3 949.5,523.5 950.3,530.3 946.9,545.6 948.6,554.2 952.9,554.5 970.0,595.6 970.0,605.8 841.9,482.5 853.0,483.3 942.6,564.4 914.5,558.9 952.9,578.0 987.5,618.2 1010.0,657.7 1083.8,709.3 1072.5,719.7 1164.5,742.9 1164.5,751.9 563.8,511.9 591.2,493.2 628.0,448.6 657.3,442.9 631.5,450.2 611.4,445.4 639.1,461.0 605.8,434.5 605.6,461.2 643.0,419.5 660.9,471.0 640.5,450.9 609.8,417.3 632.8,419.9 681.8,456.2 666.8,467.1 699.8,485.2 704.9,475.2 703.6,475.6 700.9,458.7 732.9,492.8 724.1,478.9 691.2,455.5 689.3,448.3 719.9,463.8 724.5,463.4 730.7,485.4 662.2,454.7 728.0,467.6 731.9,464.4 671.5,474.8 720.6,458.1 672.9,460.3 731.0,480.4 675.7,456.9 674.2,446.6 721.6,453.3 707.4,465.6 681.8,479.3 676.9,474.8 675.6,464.7 683.6,457.4 731.4,482.9 690.4,486.9 683.4,463.0 724.9,474.7 674.1,492.4 683.6,457.6 720.2,460.6 689.9,447.8 673.1,471.6 685.9,473.8 695.2,465.6 730.8,468.1 708.4,485.5 681.2,451.3 727.9,484.3 686.4,454.0 718.3,490.6 682.3,490.5 726.5,473.0 698.5,449.9 667.8,490.2 685.6,478.2 687.0,484.1 709.7,458.8 680.6,478.6 671.1,454.8 707.4,485.1 710.8,458.0 728.4,454.5 665.0,457.5 700.1,447.6 680.7,461.9 708.2,450.5 694.5,486.5 731.9,475.5 715.4,472.2 677.7,446.5 665.2,488.8 716.0,491.0 665.7,474.3 702.5,480.2 691.5,492.2 671.7,470.5 718.1,488.6 718.2,479.1 721.4,487.9 693.8,476.6 727.5,486.2 698.2,482.8 725.4,472.0 711.5,463.5 708.9,474.0 672.2,475.6 732.6,487.3 717.6,463.1 718.0,472.2 699.8,485.5 672.5,479.9 666.8,472.5 702.4,455.9 764.4,475.5 760.7,494.4 744.5,454.7 746.5,484.1 742.1,461.3 773.8,483.2 752.9,492.9 747.7,482.8 741.9,473.5 769.3,493.4 772.6,471.0 759.2,468.0 739.1,474.8 770.7,491.2 765.0,495.8 745.5,461.9 753.3,465.3 742.6,472.6 761.2,475.8 747.2,490.9 777.2,473.4 736.4,455.3 772.3,455.6 764.9,478.8 710.2,531.9 686.4,499.9 717.4,493.4 732.3,504.5 699.5,494.7 724.8,514.9 724.9,525.6 731.5,540.8 727.0,502.6 718.4,501.6 684.7,516.5 728.1,502.3 708.2,510.5 727.5,518.7 724.3,530.1 714.5,532.5 734.9,497.9 735.8,529.5 698.7,515.9 724.7,538.3 713.7,521.2 734.0,532.9 736.2,516.4 725.7,503.4 728.4,532.9 725.3,528.6 653.9,595.4 703.7,605.1 674.9,582.0 660.8,595.9 695.6,529.7 645.4,540.1 675.8,579.0 671.7,490.6 692.6,495.4 692.0,508.0 720.7,608.7 712.8,550.7 726.3,603.2 734.5,599.5 736.8,582.7 736.9,546.1 716.4,585.1 719.1,603.0 729.6,585.5 734.6,587.6 719.9,571.4 734.6,618.4 715.9,613.6 737.3,584.3 727.9,555.1 726.9,583.0 728.7,540.5 737.3,584.5 722.9,609.2 727.6,581.7 730.9,542.9 726.9,574.9 1071.6,798.3 843.2,512.5 799.3,525.3 845.0,575.7 819.4,515.0 885.9,584.7 957.9,646.2 842.8,561.1 822.6,475.2 755.2,478.4 926.9,639.9 782.3,509.4 914.0,605.8 874.7,513.0 1048.9,749.9 965.5,660.6 926.4,636.3 943.4,581.3 963.9,657.8 735.0,533.5 883.3,624.9 815.1,481.9 1010.0,682.7 931.7,670.4 1056.9,779.8 1065.6,793.5 1063.7,786.8 859.1,579.8 871.2,589.0 914.1,650.9 996.2,691.3 870.8,569.3 970.0,631.3 1034.7,752.3 958.6,642.9 864.1,503.1 881.7,552.2 751.1,558.0 807.6,529.4 796.0,547.7 901.2,540.1 918.3,640.5 984.6,675.1 786.0,562.7 1032.1,759.5 1075.2,760.2 931.4,616.9 1084.0,748.8 836.5,569.2 762.9,491.2 762.2,525.0 1011.9,695.2 930.2,656.9 944.2,621.6 876.0,607.2 917.4,606.8 991.3,671.6 909.4,593.1 978.1,644.1 1049.6,756.5 758.2,524.4 794.6,529.2 918.6,646.6 817.8,546.9 974.3,641.0 937.1,633.7 794.3,497.1 907.1,608.6 933.1,651.5 815.0,494.9 821.0,499.4 1026.6,744.9 876.6,580.1 1085.6,733.9 812.1,536.3 788.5,516.2 897.0,557.7 795.0,540.4 749.6,590.9 782.5,517.1 810.7,550.8 807.0,452.5 955.1,660.2 882.7,591.8 866.9,566.0 829.9,499.8 980.4,654.2 897.4,564.4 1066.4,737.8 951.6,598.8 798.7,526.2 870.6,531.0 962.1,652.8 1074.1,759.0 951.9,629.8 861.9,549.3 819.0,563.9 1030.8,761.3 812.5,509.6 1063.2,822.9 923.7,626.9 782.4,505.0 860.6,538.4 1065.2,774.5 739.6,502.1 1019.2,747.9 1025.5,738.4 793.3,478.2 874.0,562.8 793.5,544.2 954.4,635.5 867.3,527.8 934.5,640.5 954.0,612.4 1084.5,724.1 1064.8,760.8 1035.3,738.6 1053.3,748.4 858.6,558.5 876.0,616.5 944.7,613.1 879.6,546.8 859.8,583.7 897.5,579.0 895.0,595.0 1067.2,787.4 929.2,617.4 917.4,597.1 823.1,480.8 870.8,555.3 883.2,623.7 883.7,614.2 918.5,652.3 809.5,475.5 943.5,582.9 947.5,669.0 907.7,639.2 873.6,549.2 1011.4,688.2 953.0,655.2 967.8,652.8 884.2,584.9 853.6,500.7 941.1,641.3 813.4,539.3 932.8,653.7 808.0,515.0 820.5,551.8 827.3,548.8 1058.2,740.3 932.1,574.9 879.0,628.3 903.8,655.6 1065.2,818.0 1060.3,772.9 975.8,641.7 1078.2,762.1 849.8,573.1 939.1,644.5 792.7,496.4 848.8,529.8 795.9,527.4 908.1,587.3 747.6,557.0 922.9,660.1 759.1,523.7 1067.0,818.5 748.5,500.1 937.4,601.9 894.3,568.0 913.6,586.2 907.6,626.8 1026.0,749.2 902.1,551.5 909.6,571.4 1014.7,715.6 1039.8,737.2 905.6,588.5 1006.8,709.9 842.8,544.0 1061.0,793.4 1073.6,738.1 819.2,515.2 816.2,565.1 877.9,596.7 1065.0,789.6 1003.8,690.7 893.0,607.1 749.5,622.8 838.6,522.8 911.6,599.3 1012.5,713.8 891.7,561.3 876.8,555.9 892.5,622.4 892.3,584.5 1078.6,743.9 981.8,657.2 918.6,632.5 894.3,645.5 865.7,543.8 793.5,482.6 1013.5,726.8 809.8,523.8 860.0,526.2 923.9,667.0 752.4,477.1 896.9,550.7 857.0,578.1 834.3,539.7 825.9,480.6 897.5,638.4 1046.7,731.5 908.7,599.9 910.0,621.0 737.9,554.3 1014.3,680.0 1028.5,704.8 1057.4,763.8 924.0,639.2 941.3,666.0 1020.8,720.9 802.0,449.0 844.7,538.3 796.6,530.4 1031.5,711.9 905.6,587.9 908.6,633.3 787.9,451.8 770.2,548.9 790.0,503.7 911.3,589.5 939.8,591.9 831.6,551.2 1010.0,711.1 1034.5,737.2 1079.8,724.8 1072.3,786.8 928.7,570.6 847.2,545.4 880.3,562.3 974.1,652.7 811.9,448.4 927.8,666.7 955.9,621.5 900.1,541.3 911.9,638.3 892.7,635.7 902.8,593.7 746.5,593.4 888.7,553.2 1051.5,746.3 897.9,556.0 1052.5,748.1 772.2,475.0 861.7,506.2 980.9,671.9 1004.9,675.2 876.6,580.5 855.8,574.8 1015.5,701.9 819.7,561.3 802.0,550.9 798.4,484.5 1012.8,672.9 880.3,575.9 1071.5,731.8 919.2,599.3 886.7,620.4 768.1,490.8 920.2,666.2 1082.4,761.9 773.0,501.2 855.9,531.2 886.0,616.1 793.0,477.5 759.8,510.7 1029.6,703.8 832.0,551.5 851.5,525.6 905.4,585.3 748.5,553.7 888.4,643.8 928.7,630.9 920.4,665.1 950.0,672.8 1043.8,740.5 898.8,608.5 1065.7,800.1 959.7,675.1 744.9,529.1 1069.2,799.1 1032.9,759.2 1028.4,764.9 973.0,653.2 817.4,525.7 968.4,675.0 1072.6,753.6 1034.4,740.0 846.3,575.6 871.0,544.3 904.4,642.9 854.7,548.7 1039.3,726.9 822.7,522.2 1046.5,756.9 936.6,600.2 828.4,549.2 861.0,512.2 1074.0,729.4 835.7,528.4 906.3,601.6 1027.4,722.1 1056.9,798.4 753.9,552.1 759.4,577.1 927.8,649.0 809.8,514.4 731.5,485.7 838.5,493.6 1028.1,761.6 893.3,609.7 803.7,516.5 816.4,475.7 1062.9,761.1 1038.5,719.5 925.3,640.6 929.1,654.8 915.1,615.0 811.4,546.0 799.0,468.6 991.8,667.3 950.0,653.1 951.8,589.5 986.5,679.1 912.6,578.5 957.7,617.8 922.5,622.6 1012.9,671.9 961.3,629.1 786.9,527.1 849.6,536.8 886.5,594.8 916.7,651.9 816.2,510.3 975.9,667.8 952.1,612.3 917.5,577.1 901.9,637.9 874.0,533.7 772.2,523.5 945.5,643.3 942.8,618.5 1082.0,760.3 976.3,653.8 926.1,676.7 1018.8,720.8 890.2,612.6 915.5,580.4 987.9,660.7 794.2,552.0 898.0,620.7 820.3,483.1 867.6,584.9 859.2,500.7 860.1,565.6 890.3,544.4 795.1,549.2 910.7,642.8 944.7,626.0 901.0,549.7 1073.4,780.4 905.0,638.0 911.5,617.6 825.3,509.8 1014.8,680.9 1030.8,712.2 994.2,691.7 807.2,544.9 992.3,653.9 946.4,674.7 809.7,498.6 775.8,506.8 1059.0,752.7 851.6,562.3 758.2,467.5 956.4,660.7 938.8,594.0 881.1,575.5 791.7,550.3 796.7,507.5 1040.0,752.9 815.1,469.4 866.8,578.6 754.0,532.8 890.1,625.7 1060.0,782.4 855.4,505.5 926.3,647.1 837.1,511.5 805.7,528.5 987.9,667.1 834.9,556.8 766.0,504.7 1041.7,739.8 849.0,503.9 855.0,519.7 861.1,520.3 892.1,536.1 850.7,515.1 744.4,530.2 777.4,510.4 805.1,561.3 886.9,523.1 1085.1,715.3 1086.4,754.8 1014.1,727.6 922.6,628.6 1057.9,764.0 854.7,563.7 1075.8,755.4 987.1,659.4 1008.7,716.0 875.7,552.0 1055.0,770.3 816.9,468.5 956.5,606.3 948.5,632.3 842.5,566.7 948.3,620.5 827.0,519.1 812.8,477.1 762.4,566.3 730.2,517.6 864.0,546.3 869.2,544.8 1083.4,741.5 1063.5,732.4 838.5,522.8 1014.1,691.8 1013.0,726.6 1034.7,762.9 1033.8,732.7 888.4,598.5 864.9,588.3 1003.6,696.4 897.7,603.7 1025.4,703.3 862.0,538.0 905.1,613.8 872.8,614.0 789.2,506.4 914.2,597.6 938.0,620.2 1074.3,726.9 961.4,669.6 887.4,582.8 1055.1,771.9 948.0,638.7 1080.4,748.3 941.0,602.3 1058.8,784.6 836.4,535.1 1058.8,780.4 853.7,507.9 921.5,647.6 784.9,535.1 859.3,571.7 918.3,586.8 899.4,621.1 915.0,663.6 877.3,519.1 1036.5,734.0 982.9,639.3 1051.1,766.8 800.8,530.6 939.6,588.2 840.0,536.4 926.4,635.6 837.7,555.1 915.9,605.9 925.0,651.1 920.8,580.3 824.1,467.1 843.2,544.0 936.9,646.9 945.8,642.0 1024.1,725.7 925.2,612.2 743.9,521.1 881.5,585.5 857.9,533.4 920.7,574.5 1033.3,719.7 833.2,511.4 1065.1,776.0 746.9,546.7 844.4,517.8 777.5,560.3 930.1,653.8 982.0,643.0 1083.0,719.6 759.5,562.6 760.9,584.0 890.4,580.2 1072.6,754.9 837.1,527.7 792.8,552.4 909.2,632.4 1019.3,704.5 889.0,633.6 823.8,478.1 785.0,505.9 994.4,693.1 842.3,545.1 792.7,474.9 917.7,663.5 1061.4,754.4 845.8,518.6 930.7,614.2 1015.5,682.8 825.6,502.1 788.4,538.6 965.7,658.8 826.9,546.4 986.5,637.6 769.7,517.1 755.0,562.9 836.8,565.6 855.9,526.7 1024.1,740.6 1026.0,717.5 889.0,519.3 908.6,561.5 1003.5,683.1 1028.3,733.1 869.4,587.1 1040.1,758.9 765.4,519.4 1079.4,752.0 1030.3,764.6 815.3,509.8 826.1,480.0 753.9,551.1 901.9,601.0 775.9,459.8 948.1,632.6 888.8,552.3 978.9,651.7 1067.7,798.2 922.3,606.5 861.3,561.7 797.1,522.2 1063.2,761.7 858.3,506.7 782.5,529.8 826.9,526.9 817.8,527.9 776.2,496.1 1020.0,745.7 968.9,659.3 878.0,518.7 925.6,670.1 1059.4,735.4 1079.7,753.3 943.3,624.4 1028.5,756.8 824.6,487.7 774.2,494.8 842.1,505.2 916.0,611.0 756.6,550.8 932.1,572.6 833.9,503.0 977.9,655.9 878.9,622.1 1061.4,738.0 980.7,658.0 806.3,547.8 808.2,516.2 996.5,689.6 1055.6,755.2 853.8,530.6 945.8,662.2 811.7,481.3 1014.4,743.0 958.0,650.2 942.6,611.7 1002.4,690.5 1060.9,750.4 909.8,631.8 944.6,588.9 906.5,614.5 922.5,592.4 957.3,649.6 1028.7,732.4 1050.0,757.7 896.6,573.9 1087.0,723.8 838.4,481.9 1052.4,730.8 902.4,549.8 889.7,638.8 821.1,510.5 983.6,645.9 1001.4,681.1 1063.0,768.8 897.0,644.7 1036.4,745.4 808.8,520.4 815.6,529.5 859.0,567.0 1075.1,770.8 937.3,628.2 917.4,618.9 931.2,670.9 926.3,612.9 869.9,523.6 876.9,520.6 864.4,581.3 906.4,607.8 930.6,649.9 904.6,575.8 866.3,537.8 795.2,516.7 876.7,543.5 782.9,575.5 828.5,492.6 974.8,654.3 909.5,599.6 799.2,489.0 786.3,458.9 898.6,607.6 889.6,623.2 805.8,486.2 849.3,553.1 860.7,546.5 898.6,646.4 830.1,507.3 887.3,519.6 1060.8,788.6 843.3,570.2 925.8,678.0 961.3,629.1 922.1,640.2 1077.7,759.8 1008.2,715.3 802.8,503.2 790.7,539.8 805.7,476.1 850.7,491.4 881.9,600.8 963.0,627.9 880.6,528.7 829.1,559.8 925.6,613.1 847.9,506.4 804.9,512.3 940.8,607.3 1060.9,795.5 1017.5,741.0 1056.4,751.8 951.4,627.7 805.1,460.3 883.8,518.2 861.0,506.9 952.4,652.5 1066.0,734.5 845.0,580.0 827.8,508.6 928.6,608.7 759.5,491.1 1011.0,683.6 943.2,588.4 959.6,646.1 934.3,591.2 861.6,548.3 1036.1,762.1 981.6,656.8 818.2,538.0 1036.7,716.1 952.0,673.5 904.1,602.9 771.6,505.0 842.7,577.5 968.5,646.0 1042.5,748.8 782.7,511.0 854.0,554.3 875.9,521.9 998.0,689.3 798.7,495.8 1027.7,761.4 1054.6,750.0 882.3,579.2 892.7,618.3 986.4,672.3 835.0,540.1 1010.2,684.4 868.0,536.6 883.5,558.4 1063.6,735.7 883.0,594.3 814.3,537.8 986.8,633.9 856.9,523.9 879.8,621.8 858.9,512.6 870.3,524.9 846.9,561.2 904.3,658.0 980.1,638.2 1058.3,776.8 875.4,615.6 825.1,517.8 853.6,582.1 888.3,634.2 772.4,554.7 868.9,595.2 1064.5,799.1 991.0,647.2 788.5,480.6 851.7,576.5 824.7,520.0 890.3,614.4 1086.7,749.6 1032.6,742.4 916.6,619.0 901.7,637.8 1002.4,700.0 1016.5,674.9 977.2,659.8 1034.3,738.0 740.3,545.6 755.7,584.6 809.7,495.6 1053.1,751.9 871.7,519.2 748.0,583.6 941.7,642.8 835.6,494.5 1082.4,743.2 1027.5,761.5 1072.5,793.1 1035.4,758.5 1029.7,734.4 1053.6,777.9 793.3,569.7 850.7,524.7 905.2,660.2 807.6,451.6 901.5,605.2 1083.8,761.3 948.7,615.3 890.2,547.6 1039.8,728.6 951.1,648.1 984.2,679.6 990.2,671.7 780.9,547.8 840.3,565.1 862.7,568.9 875.9,569.2 923.0,618.8 816.9,520.1 912.2,677.9 919.8,644.4 982.8,639.5 757.9,609.5 867.7,537.9 774.3,505.0 1068.8,804.5 835.4,494.6 876.3,575.6 859.4,575.8 900.7,566.5 1082.2,758.3 978.0,675.3 871.8,569.0 917.6,618.2 1081.3,753.7 775.8,534.5 797.6,513.3 991.6,677.0 808.5,469.7 832.9,515.0 894.3,537.7 794.8,459.9 819.5,463.4 795.9,458.9 791.4,525.4 937.1,637.9 1052.0,750.8 859.2,538.5 984.2,678.9 904.0,639.2 758.4,503.7 894.1,633.4 988.1,680.6 791.0,570.5 851.9,549.6 1056.3,765.1 1046.5,742.5 768.0,517.8 833.9,490.9 764.0,557.0 766.5,526.1 863.3,568.7 835.4,558.2 784.2,557.5 817.5,485.5 1026.2,715.9 914.3,576.9 906.0,602.4 793.3,487.7 814.8,464.1 856.3,560.5 969.7,674.3 789.7,492.5 1005.0,687.8 908.8,580.1 879.0,572.4 829.5,509.8 921.1,615.4 897.8,618.5 775.0,539.5 882.6,506.7 882.7,581.4 819.5,508.4 877.6,532.5 810.4,513.7 854.7,555.6 1065.3,752.6 850.8,583.1 1077.0,786.5 942.1,594.4 751.5,478.8 872.8,573.3 853.6,576.5 781.0,460.2 780.7,513.3 782.0,494.1 981.8,646.6 945.6,625.0 1021.8,710.8 857.5,521.8 801.6,464.9 879.8,540.6 887.2,533.2 892.1,601.3 918.3,670.2 835.9,506.3 1070.7,785.8 862.7,516.8 824.7,459.6 866.4,526.6 843.2,556.5 867.4,520.5 766.4,498.8 1073.5,755.2 850.1,502.2 960.6,676.0 963.3,631.4 834.6,487.9 768.9,526.4 1053.5,747.5 825.5,531.6 937.1,598.7 1065.5,787.5 1057.2,747.5 1014.0,672.8 891.3,558.4 774.1,471.0 944.1,613.8 924.5,571.1 756.3,572.2 1080.5,771.3 892.2,581.7 1014.4,735.7 1034.5,760.1 1058.2,756.3 778.8,565.9 841.1,540.0 900.0,621.8 933.4,597.0 955.7,662.5 940.5,641.5 914.1,589.0 779.7,521.7 751.2,487.7 922.0,638.7 958.2,634.4 969.9,660.9 821.0,483.2 899.2,556.8 868.4,528.5 871.0,499.4 938.2,614.0 772.7,538.6 742.1,565.8 942.9,628.8 779.6,525.0 832.2,524.4 945.2,578.7 794.3,571.2 917.9,674.6 886.5,565.6 1016.1,738.6 873.7,589.2 828.3,513.0 769.7,493.6 1062.8,783.2 903.2,584.5 839.7,537.5 1014.0,679.9 913.6,614.1 801.5,446.0 1058.8,794.7 904.9,572.3 806.3,476.7 884.0,521.5 880.2,528.0 941.1,601.1 946.4,659.2 798.5,531.2 902.4,637.5 786.5,539.4 879.5,606.3 908.8,648.1 779.7,533.1 1077.3,748.1 843.8,542.2 914.8,680.6 876.5,605.5 931.4,654.1 895.5,614.2 818.8,492.4 1069.2,770.6 1066.5,739.6 940.9,641.4 878.8,522.0 855.5,546.7 843.5,573.2 1043.3,756.0 877.0,561.7 1004.1,687.6 802.5,491.6 939.2,659.3 908.7,648.0 916.1,658.9 800.6,476.7 980.8,668.5 828.3,539.0 1056.0,791.1 993.5,691.7 1028.8,732.2 1041.1,728.7 917.8,667.5 1005.6,678.0 945.1,616.2 1085.5,755.2 942.9,618.5 948.7,633.3 817.9,522.2 838.1,482.2 810.8,462.9 874.5,611.5 820.3,472.6 938.7,641.4 1009.2,721.9 1019.7,700.5 846.8,500.9 786.1,514.1 924.5,623.6 1035.6,717.1 872.6,574.1 915.7,648.8 956.4,611.2 957.4,657.8 851.0,542.9 874.6,563.1 1067.4,804.6 841.8,559.5 939.7,601.7 1064.0,732.0 945.9,670.5 1056.0,787.7 1073.6,763.5 1030.0,748.3 1051.2,763.4 768.9,537.9 831.1,499.7 978.6,643.3 814.1,550.3 998.7,668.9 826.2,480.7 805.1,544.0 849.8,579.2 911.2,630.1 976.1,674.4 1071.8,773.9 944.6,584.0 877.7,584.6 949.3,623.4 898.0,584.3 1070.0,766.4 844.5,535.6 928.4,670.4 920.5,619.2 869.1,549.0 1083.5,754.4 1019.4,720.9 898.1,563.4 842.4,548.4 750.5,553.7 833.7,511.8 903.1,589.9 1070.6,738.0 875.6,574.2 871.3,593.4 889.2,553.5 982.0,638.8 935.0,645.8 1025.2,743.4 945.8,594.8 1057.8,737.3 735.5,535.1 749.6,620.5 1066.4,808.7 915.5,594.5 1061.0,767.3 912.5,594.9 831.6,540.4 1063.3,751.2 1009.4,686.6 820.6,494.0 871.5,570.2 960.2,626.2 938.7,593.1 973.1,633.2 931.2,609.6 865.2,524.2 852.0,549.8 1083.5,778.5 1053.3,734.1 777.7,501.4 876.9,557.1 805.0,528.2 933.6,574.7 893.8,612.9 1061.4,775.5 860.8,538.0 812.7,530.4 1084.3,714.6 988.3,687.3 910.0,650.0 752.4,542.8 936.1,584.6 843.8,497.3 1007.6,677.2 973.1,667.3 1075.6,758.9 797.3,480.2 1008.4,697.4 897.3,584.0 1060.7,773.0 845.0,568.3 792.1,518.0 918.7,633.4 743.5,484.3 906.3,581.6 1070.8,759.9 852.1,570.8 829.7,472.6 801.4,490.5 846.7,539.1 995.0,666.4 786.7,486.5 865.6,572.9 894.5,559.2 822.6,477.9 898.6,643.1 931.4,582.8 874.3,547.1 849.8,553.7 826.4,524.0 811.8,505.0 894.2,548.9 914.3,591.3 843.4,545.9 926.4,602.9 789.0,510.5 848.1,521.5 933.2,616.8 867.2,573.0 838.8,526.6 754.0,558.9 751.3,581.2 1035.6,752.8 859.7,508.7 825.4,503.0 873.0,582.9 817.6,474.4 812.9,479.6 936.9,576.8 1034.8,756.3 763.2,547.4 907.2,590.2 1061.4,737.4 1017.3,726.4 981.7,670.6 899.3,578.6 850.4,534.2 1082.3,730.6 1051.3,766.6 915.7,600.6 805.4,491.0 1067.2,746.7 937.1,571.5 888.6,637.0 1062.4,808.9 821.2,531.8 793.7,540.6 916.1,649.1 812.1,546.5 1038.1,724.2 879.0,617.5 919.2,607.9 1069.1,806.1 901.0,615.4 820.4,547.4 899.8,567.1 1015.0,690.4 803.8,459.9 902.9,638.2 785.1,456.1 1043.3,731.1 942.2,596.8 871.4,593.9 886.1,510.1 874.9,527.8 979.4,660.0 927.0,662.0 1037.3,748.5 893.6,597.5 876.0,575.1 857.2,512.9 791.3,569.9 913.9,626.9 917.8,570.1 869.7,568.4 913.9,594.2 746.0,565.1 766.2,496.7 910.4,646.6 835.9,536.8 858.6,532.5 773.4,538.7 873.1,505.9 987.2,645.8 828.7,523.8 924.6,642.3 792.5,479.7 942.9,621.9 882.3,544.7 897.4,649.9 782.3,557.7 933.1,580.7 802.4,477.7 1003.8,674.0 908.3,642.4 800.8,549.1 955.5,670.4 815.8,518.9 908.4,572.8 823.0,454.5 889.3,600.4 817.2,517.1 793.1,554.8 779.6,559.8 957.7,640.3 922.2,620.2 857.9,549.2 819.8,520.4 1049.9,729.9 884.6,629.1 926.9,599.1 927.4,577.6 933.1,679.2 951.3,588.1 805.8,505.3 852.0,533.7 880.5,584.2 923.8,589.2 842.0,561.8 917.8,620.4 913.3,616.6 751.3,470.9 941.1,659.9 896.6,554.9 980.9,630.9 765.7,526.6 953.5,608.9 871.8,559.1 871.8,546.7 1020.7,709.4 952.4,595.6 798.5,480.9 790.9,558.5 792.1,521.8 978.6,656.2 1052.0,740.0 881.5,601.0 915.8,576.8 874.3,504.0 841.5,557.3 895.0,649.9 1077.3,765.3 849.8,574.0 834.4,513.3 902.7,632.4 767.4,573.6 884.6,623.1 819.1,464.0 933.9,577.2 963.9,661.7 870.3,568.6 803.1,477.2 1023.3,713.1 752.4,556.0 867.8,528.6 889.7,561.5 830.0,476.4 918.6,622.1 1075.4,736.4 784.0,488.8 960.2,664.2 788.9,459.5 932.1,637.0 993.0,681.9 813.0,458.3 1031.7,712.0 957.6,647.9 1032.7,722.6 1081.2,730.9 1001.3,698.2 1009.3,686.8 870.4,553.2 862.3,509.0 870.9,528.8 835.5,504.5 879.1,550.9 852.2,546.2 731.5,508.4 1076.8,742.7 875.9,588.1 795.8,470.3 760.4,542.7 817.8,509.6 956.1,628.2 858.5,522.7 805.4,476.6 953.7,597.6 1014.0,731.3 916.8,609.5 829.4,527.4 751.7,538.7 881.5,554.3 799.1,511.3 1058.7,786.6 1032.6,742.5 803.9,467.7 819.6,487.7 793.4,540.0 903.8,616.0 739.7,487.4 820.6,471.6 988.4,656.8 927.4,615.6 880.1,523.1 875.3,504.9 920.0,626.3 797.4,464.1 1067.3,812.9 877.2,588.1 927.3,581.5 898.9,584.8 986.7,686.9 787.9,494.9 941.7,589.7 881.0,583.8 881.6,503.3 1075.7,781.7 1041.4,742.3 1055.1,785.0 870.1,553.6 879.6,574.3 1051.1,747.4 932.1,607.8 787.0,567.1 936.1,609.6 926.2,625.3 743.3,489.9 820.4,529.7 1063.9,734.7 1008.1,711.1 1039.3,745.1 905.3,617.5 778.5,516.0 905.5,609.3 1064.4,771.0 838.0,514.8 895.8,565.6 908.8,615.7 1068.0,761.1 914.7,617.4 889.8,580.9 877.1,533.6 962.9,654.8 957.6,620.8 888.8,606.3 834.4,532.8 902.6,578.5 1060.5,757.5 807.7,538.8 994.0,691.3 785.8,483.8 915.8,655.1 880.8,520.5 838.0,553.3 897.1,572.7 793.5,509.2 868.7,565.7 1085.8,736.1 788.2,468.9 944.4,589.9 1047.3,753.6 1030.6,752.2 898.4,600.8 832.1,488.5 889.1,634.2 788.1,547.3 832.4,504.9 776.3,457.9 847.6,572.6 800.1,477.5 886.7,543.8 745.5,589.7 839.6,498.0 821.3,507.5 801.7,534.8 911.3,599.3 830.4,500.6 889.8,609.5 1062.9,795.5 841.6,573.1 899.6,597.7 1044.6,768.1 788.7,460.2 1009.6,708.4 898.3,533.5 920.8,588.9 777.5,566.9 937.8,594.9 937.1,580.8 835.9,489.5 990.6,644.9 1050.1,750.4 1061.7,794.3 923.9,623.1 886.8,592.8 996.3,686.7 776.8,485.7 895.7,643.0 926.5,637.3 870.0,522.0 893.0,605.7 881.8,610.2 890.2,531.4 810.4,495.5 918.7,577.2 1057.0,748.5 872.3,503.9 1041.9,721.4 998.8,687.4 911.7,573.1 813.7,492.8 849.5,521.7 796.4,459.4 1044.5,721.9 903.5,570.1 1049.1,733.2 883.3,604.4 944.3,668.5 1033.0,714.1 779.2,520.6 1067.2,799.4 855.6,525.9 812.0,448.9 844.9,545.0 926.6,566.1 946.3,637.2 993.7,684.3 782.4,476.6 867.7,519.1 903.6,649.9 899.2,640.8 1084.0,778.3 838.7,512.0 1070.7,782.7 1054.3,771.5 886.1,527.2 876.4,619.3 820.5,491.7 883.4,562.4 954.0,641.0 1037.6,724.9 971.1,679.7 901.8,620.5 851.0,557.6 877.7,531.5 812.1,556.0 929.6,670.2 822.9,472.1 868.9,529.2 873.0,555.3 860.8,522.4 916.8,568.3 915.6,609.3 1078.9,771.7 811.4,563.7 989.8,694.0 1074.4,745.2 784.7,553.6 822.7,495.3 937.8,614.1 1010.5,681.3 913.1,635.2 851.7,546.1 1049.0,727.5 801.0,530.9 967.1,630.7 989.7,685.5 856.9,536.6 898.3,536.9 833.9,521.3 991.0,676.3 893.8,540.8 821.4,534.3 906.7,605.9 902.4,652.6 823.7,462.0 909.9,662.1 998.2,688.4 948.6,642.2 1038.5,755.7 787.3,565.2 943.3,634.1 1001.7,669.5 931.9,663.5 861.9,514.0 851.7,520.0 1080.1,718.7 1010.1,714.9 917.4,658.3 1061.6,808.7 951.8,616.2 878.3,539.7 877.3,540.1 865.0,560.9 989.3,655.1 914.6,668.1 916.3,678.8 845.8,538.0 799.0,530.8 835.7,500.9 875.8,620.6 948.8,642.9 888.1,588.8 948.8,670.2 796.1,509.2 864.5,559.3 958.2,652.3 759.7,544.4 820.2,444.3 795.6,500.8 768.1,509.3 864.7,546.0 1033.5,720.0 975.6,655.7 1038.9,720.3 922.4,676.3 914.3,673.8 912.1,578.2 1060.6,769.2 929.1,610.4 1052.8,744.2 1056.4,771.8 946.0,615.2 907.8,567.2 928.4,596.8 832.9,531.3 793.6,514.8 1013.1,678.3 730.0,534.4 926.0,615.3 748.9,558.5 887.5,556.8 1076.4,746.8 876.2,504.7 772.0,552.9 898.5,608.7 1010.1,695.2 1066.8,779.2 925.1,656.5 1054.4,732.0 939.0,632.6 814.9,553.5 797.5,501.6 1012.4,697.8 880.0,577.0 937.1,676.1 887.2,601.2 904.6,644.5 1071.0,773.2 947.9,662.4 811.9,501.2 971.3,665.7 1061.1,736.7 916.1,681.4 1065.5,733.2 942.9,608.0 997.4,686.5 1069.8,774.2 896.1,600.5 845.2,520.2 762.3,496.8 942.3,671.4 860.2,531.8 990.8,655.1 859.4,512.9 800.3,455.5 898.7,582.7 773.1,497.0 1065.0,785.1 745.6,507.2 823.0,481.4 1048.1,736.3 772.0,513.4 864.1,570.5 1080.7,750.1 972.1,631.9 877.9,563.6 899.3,567.3 1019.3,755.4 947.8,657.9 848.2,563.7 959.6,677.5 816.3,481.1 1061.6,813.4 1028.9,764.0 1083.3,714.6 777.5,559.8 900.9,596.0 768.2,544.1 899.0,618.7 876.5,544.8 958.3,624.5 890.9,603.2 839.2,498.7 779.9,499.6 968.2,644.4 1013.8,682.1 998.3,681.1 821.4,498.3 862.7,514.4 929.2,606.4 911.9,672.9 1025.0,713.4 945.0,674.3 895.9,643.7 915.0,628.9 1072.1,743.4 876.2,504.3 1067.3,747.6 901.0,581.3 1077.1,728.7 828.6,494.9 835.1,558.9 1071.5,760.8 753.1,513.1 1065.6,796.7 836.4,551.1 835.5,485.2 929.6,673.0 1010.5,716.5 883.6,578.9 969.2,647.5 910.3,629.2 981.9,666.7 1069.2,799.8 766.5,526.2 1069.0,795.4 789.0,479.0 855.0,497.3 933.5,663.9 842.5,557.6 811.2,532.6 891.0,560.6 873.2,535.1 1051.7,771.7 949.5,605.3 880.5,526.1 1074.4,783.8 895.1,559.7 759.4,481.6 873.7,534.2 751.0,528.5 1082.9,775.2 1029.1,724.1 879.1,541.7 811.5,484.3 862.0,535.2 883.3,511.1 862.3,508.0 814.3,556.6 1070.4,730.5 871.7,563.7 879.5,596.0 1054.7,754.2 901.5,573.3 986.3,670.9 1006.0,700.7 1066.9,816.8 763.1,477.2 736.3,515.4 951.3,667.0 890.8,586.2 1076.7,731.3 929.0,596.5 980.6,655.0 968.9,673.9 936.3,642.8 1073.1,770.1 819.1,470.0 974.8,672.6 977.8,637.5 930.6,628.1 1073.1,758.9 1074.0,785.4 787.8,535.0 892.8,539.7 921.5,623.6 788.5,490.8 1073.1,755.2 1024.6,712.5 820.5,558.9 1071.1,794.6 819.8,456.9 969.2,642.7 908.9,580.6 884.0,606.3 847.8,538.5 931.9,669.5 777.0,519.8 986.6,664.5 831.0,531.8 825.7,483.8 910.1,600.0 909.3,645.7 883.4,506.2 808.3,541.5 848.1,565.5 876.6,567.6 832.2,550.3 915.5,643.7 1070.2,797.2 895.6,560.9 906.8,600.2 1009.2,707.1 844.0,523.7 870.2,589.7 848.2,568.0 850.2,509.2 951.2,636.4 1068.6,802.1 1064.0,750.1 1043.9,760.1 887.8,571.4 854.0,494.1 1006.6,708.3 1079.0,748.5 793.1,554.4 760.3,543.6 895.3,541.1 945.8,607.1 950.6,642.5 964.3,663.5 946.7,652.5 925.5,603.3 1007.9,714.3 1014.7,743.0 985.8,682.1 855.4,531.2 1064.0,814.6 1003.5,699.2 797.1,471.1 938.2,662.2 931.6,634.5 1012.4,683.6 1009.2,685.6 971.8,627.7 941.5,611.4 890.0,547.4 805.2,470.2 945.2,624.6 836.2,510.0 939.3,652.9 757.5,485.1 741.8,541.1 857.0,521.9 825.5,533.7 867.7,558.0 824.1,532.0 886.4,624.4 923.5,578.5 848.5,513.6 917.8,630.5 1055.3,755.7 820.6,565.8 850.5,520.0 910.5,624.6 986.1,662.7 1002.0,690.5 797.0,533.2 826.9,464.8 952.2,614.3 990.5,677.7 883.4,587.4 961.8,663.6 928.8,593.7 934.2,610.4 1074.4,769.6 939.8,592.9 957.1,636.5 851.3,568.7 1008.1,695.3 874.5,611.7 754.5,572.3 788.1,464.3 841.1,517.4 924.7,594.1 882.3,579.6 904.6,547.0 846.7,512.2 834.2,516.0 863.2,509.4 1025.2,715.6 881.0,584.7 761.0,577.4 740.7,564.0 818.6,543.2 1023.2,757.5 968.0,646.1 1063.2,781.9 1061.1,792.7 1067.6,741.6 841.7,499.7 974.6,679.7 914.7,661.6 820.2,543.7 914.8,603.8 912.8,569.9 965.7,666.2 893.0,611.4 880.5,564.3 1043.1,729.8 821.6,560.5 966.3,638.9 914.3,610.6 938.5,607.6 886.9,634.6 837.4,485.9 884.1,579.1 905.1,613.9 746.1,584.7 784.3,531.5 876.0,506.1 899.8,634.3 1010.0,702.5 817.1,523.6 843.9,578.8 1029.1,759.5 768.2,464.3 817.5,525.6 1028.7,736.8 787.0,543.2 820.9,519.4 858.3,496.2 1077.1,765.5 732.3,484.7 743.8,515.0 1018.4,732.1 1073.2,742.2 868.7,527.6 884.2,602.5 764.8,517.9 922.2,565.2 851.8,502.4 889.3,643.9 1066.3,731.9 1032.9,735.6 828.0,546.4 849.1,521.6 892.2,629.9 877.0,544.3 930.9,619.8 1054.6,732.3 926.0,655.6 938.2,633.2 978.4,672.3 831.6,507.8 1039.5,747.8 855.8,578.7 1049.5,740.6 1039.1,721.4 756.7,561.4 1071.7,770.6 866.7,518.1 1023.2,704.2 780.0,556.5 1071.8,759.2 1022.3,711.9 891.9,627.9 923.5,651.6 971.7,625.9 884.5,582.0 870.8,542.1 948.0,616.2 1062.7,795.2 871.3,557.0 867.7,497.8 861.8,513.4 905.7,590.8 833.3,566.0 780.8,531.4 958.8,620.3 794.9,519.4 851.3,542.0 1029.7,724.0 1059.7,760.3 887.7,591.1 787.6,466.1 970.0,667.9 834.4,532.1 773.2,493.5 877.2,498.7 795.9,482.6 738.2,529.7 840.4,562.0 870.0,499.8 883.7,632.4 1013.7,729.1 911.9,665.5 865.2,532.1 906.0,598.3 820.0,469.6 932.1,580.3 814.9,527.4 943.5,627.5 751.2,491.4 787.9,558.9 906.6,653.1 963.6,635.9 1059.6,813.6 981.0,635.8 928.1,594.4 907.2,556.9 1034.3,740.6 872.0,597.8 895.9,591.3 894.2,638.1 771.5,553.2 853.9,560.2 1036.2,759.0 855.4,534.9 1062.9,769.3 1047.4,768.3 860.2,507.5 765.9,563.2 1063.4,779.4 1064.2,787.1 1081.9,745.7 791.8,559.0 887.9,638.9 1035.0,713.4 1025.4,709.5 800.3,512.0 786.3,458.6 751.7,572.4 818.4,477.1 921.8,674.0 785.2,547.3 935.2,661.6 948.0,630.0 953.0,596.0 892.1,572.4 1068.4,734.2 862.1,565.5 943.8,636.8 916.7,572.3 990.6,691.1 1076.8,726.0 1021.5,713.8 925.4,638.4 910.8,667.5 1016.8,714.4 878.7,536.6 800.4,498.4 987.3,661.2 876.1,570.7 854.0,523.9 888.4,573.1 794.9,469.3 926.6,660.1 796.9,488.9 918.2,578.4 801.0,483.4 849.0,530.1 751.2,555.1 991.6,641.6 816.7,536.3 757.4,589.9 903.9,647.4 805.7,530.4 1019.0,717.8 1020.5,749.4 801.6,480.6 973.3,660.6 799.2,546.8 799.2,552.7 1075.6,744.9 907.2,567.1 745.2,538.3 804.2,510.4 892.4,560.4 799.7,498.6 850.9,535.0 784.0,559.8 964.4,648.5 781.1,545.3 813.3,547.4 906.3,575.3 897.8,567.9 889.2,637.2 876.7,573.8 758.2,572.5 976.5,674.4 991.2,642.3 766.4,500.6 876.9,566.7 861.1,493.8 888.0,564.4 1018.8,700.4 891.0,620.0 827.3,530.9 731.4,499.0 951.5,649.6 969.3,635.0 833.6,491.7 812.6,482.3 797.7,565.6 832.9,511.4 866.9,582.6 798.9,486.6 1063.9,776.4 829.3,514.2 935.8,664.0 871.5,535.3 910.7,579.7 901.2,593.6 891.1,595.4 876.8,511.7 975.6,674.6 876.0,552.1 1043.9,724.8 1016.9,703.7 905.3,612.6 938.6,596.0 869.8,604.7 1055.8,792.1 817.7,467.7 836.3,506.3 843.0,573.2 963.4,625.2 875.6,588.5 739.2,528.9 930.8,632.2 899.0,651.2 917.8,667.5 879.7,509.7 822.3,518.1 830.7,566.7 896.0,614.3 939.6,670.9 926.7,618.9 900.1,544.7 1036.3,740.4 834.4,478.4 914.3,604.0 876.0,529.1 1033.7,752.4 855.7,543.5 1016.5,731.7 886.1,593.3 946.3,636.3 1064.2,733.5 1034.1,723.7 875.8,535.8 973.9,662.4 748.5,511.3 790.2,491.1 794.3,541.8 759.2,593.6 755.0,601.4 1065.5,745.6 819.1,466.7 859.5,585.8 886.9,642.9 879.1,506.2 781.3,544.0 752.1,592.5 1014.6,723.4 952.2,636.5 841.4,520.2 900.6,590.1 928.7,623.1 961.2,658.5 796.7,509.3 828.7,555.2 836.7,532.2 901.1,643.7 754.6,506.2 867.3,586.2 805.7,453.7 758.8,595.0 1068.5,789.2 985.7,684.4 946.3,598.2 906.3,593.3 793.3,479.4 739.0,531.2 803.0,561.4 802.8,480.1 1059.6,777.6 985.7,689.3 897.0,584.0 1016.3,726.4 866.2,500.9 920.4,591.9 1065.0,762.0 870.9,510.4 904.2,576.4 801.3,459.6 882.5,507.6 962.8,678.7 1055.9,754.2 1080.5,731.0 895.3,616.4 876.8,516.2 760.7,631.2 1049.6,758.1 1055.8,784.5 1031.0,742.5 820.1,461.8 791.6,501.7 978.4,630.7 844.1,550.8 871.4,537.1 1031.3,734.2 895.5,618.5 1028.2,710.3 1061.8,777.6 846.7,513.5 879.7,563.2 825.1,561.6 902.9,589.0 911.2,615.3 934.5,654.9 829.3,501.2 857.1,563.4 882.4,561.7 1047.1,741.2 909.2,644.9 943.6,664.6 806.9,472.0 1039.9,742.8 793.4,546.1 978.1,678.6 879.3,513.2 867.4,589.8 790.3,548.6 915.3,626.6 887.3,623.5 1024.6,709.7 814.3,509.6 845.7,517.2 993.4,698.8 933.6,570.9 1035.7,741.3 861.5,548.6 993.3,662.6 890.9,529.7 874.9,593.8 817.2,490.2 892.7,554.4 1059.9,754.9 824.7,550.4 1020.5,698.4 1069.2,755.4 825.3,506.2 869.2,539.0 925.2,574.5 954.4,619.5 891.0,541.4 859.4,544.0 893.1,632.4 1034.2,719.3 934.4,632.8 935.1,636.9 1058.8,788.7 868.0,560.4 915.2,619.1 897.9,555.9 980.5,652.6 911.9,584.9 1002.9,702.1 937.6,669.3 913.7,607.3 1020.1,720.1 1053.9,753.1 754.2,546.1 913.9,641.5 866.0,538.1 892.4,541.1 913.7,566.6 992.2,685.8 888.8,640.6 749.4,510.7 1021.5,740.1 788.1,548.0 940.9,662.5 967.0,647.0 989.1,669.4 1033.1,726.0 790.5,510.6 929.8,577.3 836.7,545.2 1010.8,716.3 916.9,619.7 802.8,543.7 856.3,577.8 1068.8,812.4 900.5,609.9 886.4,520.6 977.4,644.0 1023.8,738.0 847.4,539.6 836.3,517.2 1058.9,760.7 964.2,649.4 819.0,480.0 1062.3,801.7 860.9,517.4 829.4,506.8 853.3,569.5 808.1,443.3 1055.1,786.6 747.7,502.7 933.4,640.9 881.5,624.0 849.2,539.4 893.4,642.5 806.8,490.1 748.9,504.3 877.7,505.6 892.6,573.0 1044.4,759.0 824.1,554.5 847.3,572.3 800.9,509.4 871.9,553.9 963.5,624.8 936.6,677.4 918.2,678.7 832.3,523.5 1033.8,761.4 781.2,557.5 737.5,554.7 874.9,615.5 885.9,599.7 970.0,662.1 1004.0,697.7 905.1,648.7 844.9,578.4 882.1,573.8 899.0,629.0 904.9,616.0 1056.3,758.5 744.0,555.6 850.4,562.8 860.5,578.2 797.1,548.1 923.3,597.7 920.6,655.0 877.6,522.4 916.3,584.2 887.5,538.2 912.7,664.7 1062.6,793.0 949.4,597.5 791.2,485.9 899.9,635.9 805.1,517.8 826.8,487.7 786.3,512.2 798.1,490.9 815.6,452.5 975.8,678.4 1025.6,705.6 882.4,581.3 875.0,546.3 834.5,507.8 870.7,524.1 940.9,576.4 1004.5,687.8 853.4,557.6 954.9,635.7 820.4,472.4 1060.3,741.3 1076.8,783.4 972.7,659.7 767.9,556.2 1086.3,731.2 1039.5,725.7 815.4,500.3 937.6,657.4 975.4,645.0 826.7,478.1 1062.7,766.0 889.4,591.4 855.9,532.8 967.5,662.9 851.3,534.6 1020.3,730.9 810.5,540.8 840.0,549.8 1054.6,754.7 827.9,545.8 888.0,635.2 826.1,549.2 879.0,540.2 780.7,516.0 952.5,609.8 814.9,488.1 1065.4,773.0 864.4,527.7 793.9,474.9 865.5,539.1 1083.5,754.0 902.8,569.5 876.8,517.8 806.6,479.3 890.0,523.2 901.6,554.8 917.5,668.1 1078.7,765.9 931.9,682.4 849.6,536.6 914.3,634.4 843.3,548.9 871.0,574.3 926.3,639.5 752.1,571.4 825.9,557.0 943.1,642.8 977.4,639.6 1076.4,783.1 943.8,576.6 760.9,518.2 884.5,567.0 920.2,654.8 868.2,588.1 876.6,514.1 880.8,544.6 967.0,625.5 801.2,527.7 1079.0,777.9 1049.5,730.5 891.0,524.8 804.4,471.2 1045.7,725.6 884.1,631.1 993.4,679.0 891.6,629.2 923.6,570.5 914.2,615.1 877.7,548.0 833.6,486.4 1081.1,726.8 971.3,667.6 886.0,570.3 1018.0,724.0 1083.4,745.0 931.8,638.5 941.4,607.5 908.6,633.8 942.8,663.7 830.4,523.5 797.1,539.2 881.7,516.6 1030.4,748.7 799.6,533.9 911.3,649.7 955.7,614.3 816.7,536.4 1053.3,773.7 959.7,656.5 738.3,549.3 820.5,447.8 807.7,498.7 885.0,634.2 930.4,611.7 770.6,499.2 896.5,544.3 843.5,531.6 804.5,544.1 847.9,537.7 914.6,585.6 980.8,638.2 888.9,537.5 952.2,617.8 899.2,586.7 910.1,652.7 1031.7,717.1 1027.1,703.8 1031.9,728.3 794.2,524.3 751.9,519.3 854.3,520.0 931.7,660.5 987.4,652.3 755.4,567.5 940.3,645.4 896.8,651.9 1036.3,741.3 900.6,576.0 1018.7,733.9 857.9,523.1 1041.0,744.4 795.8,494.5 876.8,558.6 810.4,520.2 755.9,492.2 794.1,452.0 737.2,550.5 864.8,573.8 889.4,537.0 730.8,463.1 908.6,641.5 882.8,554.8 825.1,507.0 1030.4,708.0 1064.2,820.7 900.1,645.7 1037.7,720.6 841.9,546.8 878.1,598.0 940.3,603.8 906.7,576.4 854.0,543.1 848.1,567.5 859.7,577.3 957.6,670.3 811.2,484.7 847.7,562.7 1082.1,719.5 1066.6,798.2 1054.3,763.3 850.6,496.1 796.5,553.0 1044.3,744.3 987.2,635.4 800.6,535.0 859.0,554.2 947.9,661.3 949.2,614.1 819.3,457.5 957.0,673.3 1007.3,668.9 758.4,525.8 732.6,475.8 943.6,578.9 926.2,601.4 765.7,555.1 824.3,514.6 887.0,634.4 920.1,587.5 826.3,544.4 939.8,614.8 761.5,564.8 869.1,504.4 1049.7,754.6 900.4,594.4 841.9,516.0 923.9,578.0 756.2,616.8 853.1,548.0 941.4,661.5 1049.8,738.3 803.8,541.3 916.1,651.4 980.7,638.9 870.8,513.7 812.9,471.0 968.7,644.1 799.9,497.6 948.0,664.7 955.3,645.5 920.6,590.1 891.9,581.4 813.5,486.5 931.9,575.7 1062.6,785.5 749.1,498.1 954.2,633.8 847.9,513.1 903.0,647.1 831.0,551.7 883.2,535.1 844.1,526.8 888.7,625.8 896.7,607.1 818.1,544.9 942.9,663.9 843.8,561.0 800.7,511.1 902.7,577.0 893.1,582.3 1020.3,722.3 882.7,565.3 989.8,634.8 1067.4,748.5 907.8,659.1 782.5,477.4 1055.3,781.2 892.4,597.5 1076.1,775.6 935.4,680.8 794.2,506.2 783.5,508.4 1022.9,737.5 863.8,570.1 912.7,651.4 746.0,517.2 1048.7,746.3 1018.9,751.6 901.1,585.7 953.1,670.2 787.2,496.1 809.5,547.4 831.5,496.9 1061.8,754.8 975.2,659.8 743.2,572.1 914.8,645.6 883.0,536.2 898.8,549.4 910.7,593.9 973.2,638.3 815.9,533.6 918.5,611.3 898.1,628.2 876.9,564.2 1031.5,735.4 755.5,514.5 923.4,611.1 736.7,505.3 752.3,517.8 832.1,504.9 951.3,587.0 867.8,586.0 879.1,505.7 796.2,567.4 831.6,516.2 1076.3,747.4 847.2,577.7 895.4,533.9 802.4,513.5 1031.4,737.9 807.7,527.9 814.8,497.9 911.7,590.6 1027.3,719.5 913.2,650.3 817.0,470.6 906.6,612.7 954.9,666.0 1018.8,755.3 891.5,643.0 884.3,529.1 931.4,618.4 891.2,629.3 1074.2,733.8 940.5,580.0 856.0,500.5 940.9,598.4 884.9,615.4 1083.6,757.5 852.4,496.7 913.0,627.0 1031.2,741.5 810.8,474.6 832.7,516.7 824.6,473.8 937.7,652.5 1041.1,733.8 1011.5,732.4 921.3,610.8 878.8,570.3 765.2,523.7 1074.8,726.9 939.4,608.8 927.3,630.7 864.5,515.1 915.1,599.9 803.2,549.8 878.8,512.8 978.4,643.9 842.5,523.9 878.4,514.6 889.9,645.9 993.3,651.0 810.1,540.1 946.2,624.6 1064.8,749.8 923.5,654.4 1052.8,730.3 921.7,595.3 944.5,624.4 973.0,675.3 903.1,593.0 1059.8,803.7 827.9,534.2 754.3,584.6 877.9,508.4 962.9,672.3 814.9,539.7 1027.6,715.4 989.7,665.1 1000.2,676.3 785.5,534.4 1009.3,712.7 923.1,597.2 912.7,569.4 738.8,561.7 894.4,539.7 788.5,508.8 922.6,671.9 792.6,555.6 784.1,525.1 769.2,527.7 875.0,506.3 935.4,603.1 901.3,546.7 745.0,569.6 868.5,586.0 1077.6,735.7 935.2,623.6 860.5,575.4 893.4,583.0 893.3,544.2 786.2,541.4 884.8,589.4 758.3,496.1 798.9,527.5 1026.1,762.8 924.0,642.2 1062.5,793.0 905.5,615.6 783.0,516.5 825.3,478.4 1035.1,723.5 918.3,600.6 868.3,545.3 970.4,626.5 799.9,479.2 882.2,519.5 958.3,645.6 1005.6,708.8 939.8,667.1 894.6,614.4 861.9,544.7 982.6,674.8 759.9,557.5 932.3,676.9 886.6,622.3 876.1,546.0 837.3,537.3 757.9,540.7 952.4,625.0 1061.8,784.3 1023.8,702.8 971.2,624.1 884.3,628.4 851.7,533.8 919.3,618.0 1054.2,742.7 1082.5,763.9 938.5,661.7 859.6,532.4 883.2,589.4 1056.6,749.6 814.2,528.0 837.4,533.4 1018.4,727.3 910.4,665.8 833.3,502.8 918.8,672.1 759.6,544.6 942.7,662.7 826.1,523.4 1059.9,802.9 1077.7,775.2 835.9,560.8 851.1,552.6 904.1,564.5 1042.1,728.8 1076.6,723.8 857.9,556.2 1006.4,669.3 1052.3,728.9 927.7,623.5 1072.3,774.0 797.2,534.7 778.6,542.8 797.2,572.3 892.2,569.0 901.7,586.7 814.7,485.2 1071.2,772.5 915.4,676.2 804.3,515.8 826.1,559.5 886.8,552.3 1070.0,755.3 903.1,629.6 871.7,567.4 922.8,593.7 856.7,572.3 934.5,661.4 939.5,616.9 874.3,498.8 846.6,518.0 893.2,590.0 1044.6,730.0 839.1,539.3 784.4,570.5 1061.2,773.1 803.4,517.2 972.2,650.9 814.2,541.2 871.9,560.9 830.8,499.5 845.2,532.7 802.9,531.1 908.5,555.4 903.9,587.4 824.3,537.9 905.0,620.8 918.0,626.8 934.7,578.1 831.3,493.8 816.0,539.9 820.7,524.2 1082.7,722.1 840.0,533.5 887.4,628.8 1077.2,770.8 882.2,617.0 1037.1,748.0 949.4,656.4 881.6,538.1 831.5,513.8 1076.5,720.5 1079.2,747.4 878.0,594.0 833.3,552.8 948.4,603.3 1005.2,667.9 838.2,539.4 891.4,621.9 863.8,560.1 815.3,471.6 928.0,634.4 918.3,620.2 872.1,495.3 746.8,597.6 793.6,492.6 786.8,503.8 780.4,575.2 1077.5,777.3 870.9,549.4 740.0,474.5 825.4,552.5 876.0,519.6 732.6,511.5 1066.5,801.4 791.2,499.0 958.1,619.0 912.5,649.4 939.0,676.4 914.5,658.5 843.9,504.2 834.7,549.9 1086.4,773.8 742.8,563.2 951.5,667.2 875.4,568.7 1003.1,707.5 822.5,523.5 911.2,591.1 777.2,492.2 910.6,644.4 1047.2,734.2 1044.7,739.9 984.1,635.7 881.9,606.3 968.4,651.6 995.4,692.4 942.0,645.5 817.7,493.9 950.1,612.2 869.1,601.7 954.2,591.4 784.1,472.7 995.7,676.8 905.8,633.3 987.7,668.6 952.7,657.9 988.8,682.9 753.6,549.7 1083.7,771.9 1016.3,743.6 1022.8,741.3 888.5,635.5 791.8,544.6 992.8,654.0 1060.2,812.3 840.1,557.1 920.6,658.7 914.4,679.0 1066.0,774.7 908.9,650.7 826.0,542.1 776.4,541.3 1049.5,734.2 1032.3,734.5 995.9,701.4 921.2,643.4 920.9,678.8 844.0,544.1 1083.2,731.1 1013.6,696.3 904.8,557.4 946.5,613.1 851.2,490.1 949.1,674.7 901.7,654.0 872.9,507.9 751.9,588.6 827.3,548.0 926.0,604.0 843.0,571.0 808.3,506.8 973.5,674.0 895.0,580.7 1055.2,765.2 868.7,499.1 791.3,459.1 950.8,667.9 911.6,641.6 780.1,560.1 821.3,558.9 1043.4,728.8 894.9,536.5 989.7,676.4 793.5,521.5 837.5,536.8 1055.1,732.0 950.2,664.4 776.5,477.1 783.4,469.3 811.2,512.9 971.5,628.8 949.4,598.4 850.5,582.8 839.9,569.5 949.7,674.8 1062.1,747.4 759.8,580.8 1062.7,753.7 757.2,483.7 796.8,484.7 899.4,596.1 775.0,531.5 754.9,535.0 851.2,560.2 909.8,562.9 1001.6,674.7 1086.8,773.7 853.2,565.7 876.2,585.8 904.1,590.9 892.2,579.0 1043.0,767.5 1042.0,746.2 761.2,545.7 864.0,537.1 868.9,536.2 862.4,540.8 1005.8,703.2 858.2,565.9 953.2,660.8 895.9,615.0 827.5,520.9 982.3,663.0 769.8,531.3 841.6,504.9 1069.0,780.0 1068.4,730.4 886.9,632.8 1132.5,829.6 1114.9,812.7 1126.4,766.3 1214.7,869.3 1179.2,896.2 1202.5,861.7 1112.2,819.0 1213.8,800.0 1217.3,832.9 1148.7,804.8 1126.3,792.2 1228.9,896.4 1230.2,955.3 1128.6,805.6 1121.9,764.9 1110.9,836.1 1186.5,922.6 1219.9,884.8 1182.9,836.4 1179.8,771.4 1253.2,852.1 1110.5,835.5 1201.0,785.2 1209.2,831.7 1250.5,856.4 1144.6,830.2 1195.8,829.4 1206.0,859.0 1221.9,896.3 1193.3,868.6 1223.8,879.8 1197.1,861.4 1115.8,783.0 1127.4,788.0 1145.3,797.9 1168.0,846.8 1253.5,846.1 1183.4,852.5 1172.2,851.0 1243.7,820.9 1158.5,877.7 1210.0,827.0 1175.2,861.7 1232.4,810.3 1214.5,786.5 1253.6,847.3 1169.0,825.4 1164.1,855.0 1190.1,865.0 1232.5,825.5 1217.6,795.7 1134.1,836.6 1120.1,770.5 1230.5,859.8 1231.2,913.5 1206.1,847.0 1182.3,781.5 1179.6,912.1 1131.0,802.1 1174.8,859.9 1187.1,920.8 1182.7,767.7 1111.4,796.0 1174.7,790.1 1165.4,846.5 1224.0,806.6 1243.6,830.3 1200.1,802.0 1126.2,817.6 1115.6,762.9 1192.5,915.1 1185.7,891.9 1169.1,859.7 1125.0,765.5 1183.0,847.4 1195.3,782.2 1194.2,880.2 1176.3,909.9 1152.9,860.3 1178.6,805.0 1186.7,775.1 1215.0,940.1 1226.0,877.4 1233.8,855.7 1212.3,822.9 1237.4,822.2 1231.8,955.1 1195.9,911.7 1175.1,902.6 1167.1,808.2 1162.4,859.1 1119.1,794.3 1193.4,874.4 1186.2,860.8 1169.5,832.4 1180.3,899.7 1117.9,822.3 1228.0,822.2 1264.1,854.3 1226.3,889.4 1227.2,826.7 1140.9,823.2 1134.4,839.4 1120.4,778.9 1216.0,854.0 1114.6,833.7 1174.1,778.2 1137.7,772.7 1176.3,886.7 1172.4,851.3 1123.4,814.5 1204.8,805.9 1149.2,841.4 1211.3,848.3 1216.2,914.5 1217.1,869.7 1211.2,878.1 1155.5,863.0 1145.8,796.9 1231.3,864.1 1117.4,790.8 1117.1,800.0 1143.6,813.2 1159.4,797.9 1210.7,856.9 1229.7,849.9 1214.8,943.3 1146.3,788.7 1131.4,851.7 1216.0,885.4 1197.0,862.5 1153.1,865.9 1118.7,796.8 1179.7,815.5 1173.9,841.7 1192.9,902.4 1209.5,839.3 1222.0,844.5 1257.0,854.0 1219.4,810.2 1118.3,802.6 1214.5,926.3 1231.9,787.6 1249.4,820.1 1247.5,814.8 1172.1,777.8 1179.2,766.3 1219.7,892.4 1219.1,950.5 1224.1,893.3 1135.2,832.8 1120.4,823.9 1255.9,848.0 1259.3,837.4 1179.3,883.6 1181.5,909.3 1257.1,828.1 1121.3,836.9 1210.2,876.9 1229.9,834.8 1256.3,839.1 1153.4,850.3 1226.2,887.5 1209.1,845.8 1182.2,869.0 1180.5,854.3 1242.0,811.2 1229.6,936.6 1235.3,835.3 1168.2,791.2 1222.4,787.6 1190.8,915.0 1140.4,782.9 1187.2,790.0 1186.1,783.3 1118.4,801.0 1220.3,804.7 1123.2,820.3 1231.1,827.9 1213.5,810.8 1139.0,803.8 1220.3,913.2 1190.4,862.1 1185.6,828.8 1174.7,869.0 1196.9,777.2 1125.7,761.7 1228.4,872.0 1190.7,899.4 1155.8,771.1 1202.5,868.6 1205.1,870.1 1174.6,821.6 1214.8,915.6 1129.1,836.3 1212.1,859.6 1164.4,866.2 1189.5,760.1 1134.2,770.1 1177.2,910.6 1115.1,793.6 1153.2,858.1 1179.9,918.7 1228.8,844.6 1148.8,805.2 1224.5,824.0 1114.9,765.1 1136.0,775.7 1133.5,863.7 1232.0,881.5 1180.3,898.3 1159.4,808.8 1175.0,806.9 1180.8,837.6 1113.1,760.4 1184.0,805.9 1249.6,843.3 1121.6,769.1 1174.7,916.6 1154.8,875.3 1256.5,845.6 1187.8,777.8 1228.5,809.6 1193.4,844.6 1125.5,802.6 1132.6,858.4 1207.4,800.9 1243.9,809.2 1195.5,921.4 1174.3,798.7 1159.9,778.9 1233.0,845.4 1170.8,884.8 1120.4,816.5 1219.9,957.3 1116.5,759.6 1231.0,819.6 1176.7,905.3 1129.5,762.1 1184.8,791.7 1198.6,766.6 1177.5,812.9 1228.6,860.0 1159.4,844.1 1166.7,870.5 1247.4,849.2 1217.2,815.9 1160.5,844.8 1139.5,849.5 1160.7,832.8 1147.7,836.1 1169.7,872.4 1164.8,875.4 1221.8,921.1 1191.7,907.5 1146.7,838.0 1223.9,907.6 1227.2,824.8 1195.5,830.1 1147.9,850.3 1132.9,833.3 1141.8,773.6 1128.1,841.3 1211.4,787.3 1162.5,839.8 1125.4,774.8 1195.3,873.7 1197.8,771.3 1192.1,837.2 1133.0,812.0 1180.8,874.2 1145.7,840.4 1185.1,901.2 1234.3,798.9 1147.1,806.9 1114.8,769.1 1180.1,822.7 1218.2,868.9 1230.3,856.4 1199.6,799.1 1198.5,853.0 1231.2,947.8 1176.0,875.6 1156.3,855.1 1139.1,854.5 1191.3,902.1 1213.7,806.3 1235.5,857.2 1189.1,765.0 1187.1,869.5 1196.7,803.4 1195.1,769.1 1149.0,825.3 1181.9,786.8 1126.9,853.1 1152.5,830.0 1149.8,837.6 1179.6,764.2 1176.6,763.4 1216.0,926.9 1245.8,827.3 1219.0,948.0 1185.3,825.7 1217.2,814.9 1163.7,785.0 1217.5,909.4 1171.1,799.8 1111.6,795.6 1145.8,795.5 1168.5,860.7 1229.3,849.8 1140.2,824.6 1168.7,874.9 1192.6,892.3 1167.6,891.9 1193.4,759.1 1199.2,878.5 1264.4,855.7 1158.8,841.1 1222.6,816.7 1177.6,768.6 1220.9,943.4 1115.3,771.3 1126.5,803.3 1251.1,814.4 1132.8,797.6 1236.4,815.5 1195.8,776.7 1225.6,947.7 1262.7,849.5 1216.4,812.9 1153.9,854.5 1188.9,814.8 1142.4,822.6 1126.9,814.4 1215.4,826.3 1201.8,806.6 1216.0,920.4 1184.6,839.7 1193.2,837.0 1219.1,955.2 1132.9,840.3 1178.6,806.6 1188.8,763.1 1214.5,793.2 1146.3,826.5 1132.8,830.4 1137.3,831.0 1140.1,820.8 1156.4,866.6 1188.8,882.2 1162.4,861.4 1182.6,880.3 1221.8,809.2 1134.4,834.6 1131.3,826.6 1120.9,801.5 1261.8,837.5 1123.9,833.4 1135.6,841.2 1227.6,792.3 1170.3,821.3 1141.0,798.1 1141.9,807.6 1191.0,867.5 1185.6,821.0 1213.2,834.9 1154.5,775.6 1111.9,825.2 1181.5,784.8 1222.2,794.4 1153.7,849.8 1137.8,818.1 1260.0,851.7 1223.3,916.5 1141.2,813.8 1169.5,900.0 1153.2,781.7 1160.5,860.5 1183.7,785.2 1119.6,769.4 1138.2,832.1 1164.3,780.9 1173.1,784.4 1195.0,900.2 1217.6,858.4 1229.1,909.9 1165.8,807.6 1189.3,805.2 1231.0,862.5 1247.5,839.3 1132.8,840.8 1220.2,815.5 1237.0,821.5 1142.6,840.2 1183.1,786.0 1208.0,803.4 1211.1,862.5 1197.1,873.8 1173.2,868.1 1230.1,828.8 1111.9,772.5 1238.3,853.2 1189.7,876.2 1172.5,799.6 1157.2,797.6 1139.2,819.0 1209.3,861.6 1194.7,793.2 1213.8,786.5 1233.2,794.3 1114.9,750.6 1148.2,836.1 1170.3,831.8 1184.3,917.1 1231.8,829.8 1240.5,822.4 1144.7,826.8 1186.6,897.9 1218.8,923.5 1136.5,804.0 1190.5,890.7 1200.2,869.4 1115.8,835.2 1230.1,925.8 1161.6,825.7 1227.1,841.1 1175.5,809.3 1145.8,814.8 1131.9,777.8 1175.6,830.0 1175.9,892.8 1233.0,836.1 1223.9,956.2 1216.5,832.3 1152.2,816.1 1157.2,785.1 1220.2,856.3 1175.0,843.1 1255.8,847.8 1148.3,851.2 1183.1,785.6 1146.1,795.9 1259.0,831.7 1180.5,779.1 1189.2,869.1 1171.0,839.4 1214.4,880.0 1128.8,807.9 1120.0,773.2 1228.8,886.2 1216.2,888.8 1189.4,787.6 1216.6,935.2 1254.8,841.9 1115.4,763.1 1123.5,795.2 1137.3,772.1 1147.1,834.4 1126.6,856.0 1245.7,810.4 1262.1,834.6 1118.6,824.6 1130.1,809.2 1154.6,874.4 1191.6,769.3 1229.1,882.9 1124.9,820.0 1186.3,805.8 1230.3,820.8 1206.4,843.2 1160.0,874.2 1222.8,809.7 1218.5,877.4 1148.3,820.4 1189.0,824.1 1206.3,794.8 1236.5,837.7 1156.9,827.5 1180.9,912.5 1220.8,802.2 1177.5,918.6 1203.8,801.4 1237.1,853.7 1141.8,779.0 1128.5,762.6 1172.5,897.9 1254.0,850.2 1198.9,848.2 1131.0,850.5 1207.4,868.4 1137.1,805.7 1208.5,876.8 1215.2,854.3 1188.3,879.9 1160.4,810.6 1189.6,921.1 1230.1,887.4 1228.2,810.9 1199.0,871.3 1226.6,815.5 1111.0,812.2 1183.8,923.9 1240.9,830.4 1157.9,845.5 1199.5,829.2 1195.0,853.2 1174.3,803.6 1222.6,839.4 1191.3,819.7 1199.0,768.3 1166.6,816.4 1189.6,869.4 1122.1,836.0 1224.1,791.4 1148.1,851.3 1175.9,795.6 1120.2,793.4 1190.1,806.6 1160.6,824.5 1159.0,775.9 1161.0,801.5 1187.0,805.9 1157.6,798.7 1203.4,794.2 1214.9,784.2 1139.8,817.6 1162.8,865.8 1246.2,849.5 1231.2,843.8 1217.2,886.3 1229.9,832.1 1194.9,772.5 1226.3,785.2 1231.8,908.2 1164.8,856.3 1139.2,838.8 1230.4,863.3 1183.7,865.1 1228.0,844.8 1116.6,831.9 1240.2,829.4 1220.7,929.6 1178.2,790.6 1194.1,800.4 1247.9,857.1 1162.8,804.2 1174.6,909.3 1228.7,938.2 1237.4,844.1 1192.5,836.0 1154.0,843.4 1118.0,765.9 1183.5,785.5 1134.4,809.1 1176.5,770.2 1209.0,869.8 1173.5,822.8 1119.5,841.8 1214.9,956.3 1152.1,868.2 1225.3,904.6 1233.5,824.9 1212.4,825.5 1220.8,784.6 1195.1,868.7 1170.4,851.1 1126.2,789.4 1234.3,847.9 1130.5,774.9 1154.9,782.1 1181.0,772.9 1228.7,791.1 1181.9,758.3 1204.7,863.8 1156.8,804.0 1123.7,827.4 1135.5,805.4 1200.3,796.6 1213.8,854.0 1204.8,787.1 1161.9,837.5 1207.8,842.3 1117.7,826.5 1155.8,789.7 1113.1,769.6 1180.4,889.9 1213.0,814.3 1142.5,779.2 1168.0,801.6 1196.1,804.9 1192.3,787.0 1172.4,859.8 1198.1,821.6 1215.4,887.9 1175.3,778.9 1112.6,800.6 1144.1,840.3 1193.6,805.1 1225.0,939.1 1188.5,916.0 1140.8,820.2 1116.4,783.9 1149.8,856.6 1160.0,836.0 1226.4,844.9 1127.8,785.8 1189.3,790.3 1123.1,832.1 1149.9,847.1 1232.0,833.8 1117.6,764.8 1195.4,762.0 1252.0,832.3 1192.0,899.8 1110.2,780.8 1162.6,845.0 1170.5,891.6 1180.0,803.4 1170.4,805.3 1175.6,864.1 1226.2,919.4 1253.6,849.5 1239.4,845.4 1131.2,839.3 1118.7,793.8 1136.2,793.4 1141.6,864.9 1165.8,909.6 1225.8,846.7 1213.4,850.8 1242.7,824.6 1193.7,797.9 1164.9,819.3 1182.6,888.8 1215.1,857.9 1153.1,841.2 1133.5,766.3 1221.8,840.7 1229.5,795.7 1181.5,764.1 1154.9,775.8 1225.7,889.1 1137.7,856.0 1201.4,777.5 1184.6,912.8 1175.9,922.5 1185.8,871.9 1222.7,907.9 1142.8,808.1 1134.5,788.0 1244.2,814.8 1115.8,794.6 1143.1,812.0 1207.7,859.5 1117.7,798.2 1156.8,770.3 1247.5,815.4 1166.9,896.6 1171.6,879.3 1169.7,914.8 1172.2,813.0 1222.0,798.9 1222.7,821.0 1214.3,921.4 1175.5,808.1 1189.5,844.0 1121.7,819.3 1186.2,787.3 1211.7,813.7 1230.1,861.4 1181.8,778.1 1170.5,909.4 1115.1,820.6 1170.5,922.5 1223.7,899.8 1159.3,852.9 1160.2,812.7 1164.8,832.1 1176.5,831.9 1131.5,840.1 1116.7,841.1 1177.0,876.5 1128.0,808.7 1180.8,816.5 1119.7,838.0 1218.8,822.2 1216.2,925.8 1214.2,913.3 1189.8,778.1 1219.5,945.1 1196.4,807.7 1188.0,901.3 1199.0,825.6 1164.4,796.1 1179.2,825.9 1232.2,881.8 1164.8,797.9 1194.8,765.8 1202.8,808.9 1153.7,790.0 1181.1,828.4 1123.4,834.0 1239.3,833.9 1231.7,864.1 1148.5,795.1 1153.9,836.5 1211.7,820.3 1173.4,779.5 1234.2,831.7 1176.4,913.3 1184.7,813.8 1194.2,781.4 1191.5,870.0 1138.9,818.4 1178.8,824.0 1180.3,775.5 1220.3,795.1 1180.7,902.3 1193.4,838.4 1163.4,867.7 1129.9,772.4 1234.5,805.2 1184.2,788.1 1166.4,894.4 1153.4,837.7 1133.2,812.4 1180.8,833.6 1259.9,846.4 1231.7,808.0 1140.9,827.7 1173.3,878.9 1138.7,844.7 1229.6,871.1 1183.1,818.8 1230.6,886.9 1239.3,827.6 1199.2,849.2 1189.5,910.3 1142.7,846.5 1167.8,819.5 1137.6,797.5 1169.8,809.7 1135.8,807.9 1123.8,802.0 1257.3,833.3 1192.1,834.9 1182.5,829.9 1197.6,810.2 1223.8,841.8 1262.0,850.8 1118.6,832.5 1146.1,833.7 1123.7,790.7 1124.7,844.4 1258.2,850.7 1170.0,780.1 1208.6,810.1 1185.9,832.5 1175.8,863.2 1218.6,890.8 1173.9,779.0 1182.3,914.6 1228.1,901.7 1186.4,870.2 1154.5,823.4 1157.4,781.8 1137.9,849.8 1148.6,840.7 1189.0,909.8 1188.8,778.4 1148.8,818.1 1217.1,881.0 1194.6,910.4 1121.7,833.3 1215.1,793.1 1187.5,866.4 1132.6,841.9 1131.3,864.3 1217.5,950.3 1177.4,789.2 1147.5,838.0 1215.9,841.5 1168.9,783.9 1230.6,812.2 1238.9,829.6 1204.9,803.7 1224.5,907.6 1178.5,903.1 1179.0,783.7 1255.4,823.4 1190.0,813.4 1262.7,842.7 1147.3,815.6 1252.2,845.3 1192.6,823.9 1254.8,849.7 1188.5,838.0 1227.6,810.0 1178.6,835.4 1215.4,914.5 1194.9,876.1 1253.7,823.9 1147.4,844.0 1255.2,830.6 1152.2,866.5 1117.9,784.2 1137.3,823.5 1216.1,843.1 1139.6,862.0 1244.0,846.7 1242.9,811.4 1146.6,822.7 1247.8,836.9 1231.4,809.1 1190.0,758.3 1195.0,764.2 1111.7,758.2 1189.8,843.5 1221.0,868.9 1145.1,831.4 1122.2,766.1 1189.1,797.5 1229.8,882.1 1195.3,918.8 1237.1,823.8 1192.0,869.8 1179.4,908.0 1189.5,817.3 1179.3,890.9 1110.5,841.6 1221.4,837.9 1147.8,858.0 1172.4,805.3 1128.7,780.5 1247.3,835.1 1204.8,814.7 1125.2,781.0 1202.1,780.8 1214.6,850.5 1188.5,814.9 1251.7,832.8 1185.1,841.2 1135.4,831.3 1255.7,852.6 1217.8,873.4 1122.4,771.7 1138.5,807.1 1250.0,813.0 1223.7,911.1 1169.2,788.0 1181.2,870.3 1152.7,827.5 1220.4,899.4 1227.7,869.6 1150.1,806.5 1202.4,810.3 1165.2,870.6 1200.3,817.4 1208.4,788.5 1146.9,787.2 1156.6,820.8 1174.3,829.8 1235.6,819.4 1225.4,891.5 1260.1,830.3 1147.0,846.6 1164.7,822.1 1123.1,779.5 1191.4,824.6 1251.2,856.4 1246.6,847.7 1196.9,808.7 1214.1,922.5 1247.1,836.0 1175.9,913.3 1193.8,865.1 1146.1,847.9 1217.8,794.9 1251.0,818.2 1166.2,845.0 1243.1,826.9 1189.5,918.3 1172.0,853.5 1232.5,792.2 1201.0,855.7 1184.2,814.8 1175.6,921.5 1201.0,772.2 1236.4,844.7 1215.9,917.6 1134.2,832.2 1183.8,802.7 1224.7,831.7 1167.9,800.2 1110.5,772.3 1120.4,808.1 1123.3,791.4 1160.4,805.7 1227.6,875.6 1118.5,831.3 1212.6,798.1 1180.6,874.4 1167.5,805.2 1245.5,839.7 1119.0,819.6 1171.0,816.7 1179.4,797.1 1224.0,823.3 1218.0,814.5 1187.6,835.4 1113.0,781.2 1220.3,905.2 1119.0,840.3 1124.2,769.0 1174.3,818.7 1211.2,833.0 1146.8,783.6 1150.6,787.0 1193.6,768.4 1216.8,871.9 1164.6,871.6 1147.1,788.5 1149.8,849.1 1196.5,836.4 1201.1,849.0 1212.4,831.9 1204.5,843.0 1138.9,813.5 1115.8,773.1 1180.1,855.3 1207.3,868.6 1189.8,832.7 1188.1,770.1 1243.5,822.2 1203.9,867.5 1229.6,933.7 1251.7,849.7 1192.4,778.4 1197.0,860.7 1245.0,854.3 1110.6,820.0 1113.1,753.6 1183.3,829.9 1231.4,953.5 1224.1,916.0 1164.1,808.9 1220.2,783.0 1221.8,936.8 1210.6,873.2 1125.6,813.4 1114.5,797.1 1138.8,785.6 1221.2,885.3 1110.8,770.4 1202.2,839.8 1176.6,812.6 1220.9,846.7 1191.5,829.9 1229.8,838.6 1261.5,849.3 1207.3,857.0 1224.0,898.6 1191.8,805.1 1175.1,921.3 1119.5,784.9 1213.2,809.7 1241.1,844.9 1135.7,831.3 1215.8,900.1 1128.7,816.3 1222.7,956.5 1210.7,827.1 1176.3,873.8 1206.3,815.1 1123.7,805.4 1130.4,849.2 1161.0,797.4 1132.5,789.8 1123.0,841.3 1238.2,841.6 1177.4,891.8 1219.2,951.1 1175.8,819.7 1220.3,789.5 1178.7,789.6 1229.6,945.9 1169.4,859.4 1121.7,835.1 1161.3,876.8 1190.8,755.8 1215.3,832.0 1125.5,776.8 1249.4,827.9 1173.2,922.2 1114.6,799.8 1181.1,816.8 1183.2,923.7 1190.9,868.8 1232.9,831.3 1122.2,789.7 1213.3,828.6 1192.8,781.8 1220.0,928.1 1163.6,808.3 1165.2,803.8 1238.9,811.2 1203.6,805.8 1216.1,893.6 1192.3,890.6 1253.8,823.8 1112.0,787.4 1155.4,864.7 1190.2,875.3 1181.7,892.8 1182.6,886.2 1250.0,814.8 1226.3,827.6 1225.4,823.5 1171.4,865.6 1223.6,887.2 1154.1,842.4 1141.0,854.7 1126.9,781.4 1172.9,796.2 1192.0,858.3 1228.2,899.1 1171.3,899.7 1133.2,803.7 1163.7,857.0 1254.2,840.2 1254.7,852.5 1156.3,852.7 1206.9,819.4 1190.7,841.9 1214.5,861.5 1117.6,754.0 1251.2,853.7 1172.6,902.2 1257.2,825.9 1183.1,805.4 1190.4,868.0 1167.7,885.3 1173.0,904.0 1192.1,776.8 1159.2,879.1 1229.1,850.1 1181.2,862.6 1222.4,833.2 1169.9,773.0 1180.3,808.6 1153.3,831.6 1139.9,852.2 1147.1,826.4 1177.6,764.0 1198.7,845.2 1178.6,763.8 1259.2,837.9 1117.8,837.0 1198.6,826.2 1129.4,772.3 1190.3,919.6 1216.3,904.6 1118.1,763.6 1253.2,839.2 1160.5,812.6 1232.5,870.2 1186.8,819.5 1169.8,885.7 1219.1,898.5 1186.4,865.6 1181.3,824.8 1232.6,856.5 1169.0,825.2 1181.8,777.1 1119.8,841.0 1177.9,764.6 1176.3,901.0 1226.6,880.8 1142.2,818.6 1230.3,825.3 1221.1,888.1 1250.5,825.1 1166.0,813.3 1251.3,837.3 1230.8,798.3 1149.9,825.1 1200.8,856.2 1190.0,859.1 1177.6,894.6 1152.1,867.5 1179.3,779.9 1121.1,780.7 1147.2,848.7 1203.7,867.8 1120.4,798.7 1214.5,816.5 1195.2,829.9 1157.2,809.1 1132.8,835.5 1225.6,952.6 1124.0,827.0 1256.7,830.9 1135.4,775.4 1251.9,850.7 1119.4,824.6 1167.7,902.3 1183.0,794.3 1126.3,850.9 1188.9,885.9 1234.9,856.8 1175.0,820.9 1145.5,838.5 1113.5,823.7 1249.6,844.5 1215.8,802.0 1218.9,933.8 1176.8,789.0 1127.6,847.1 1148.3,781.5 1127.0,856.8 1135.0,861.9 1170.1,808.8 1160.8,805.6 1183.0,789.5 1155.9,799.6 1215.3,909.6 1185.9,869.2 1183.8,790.1 1143.8,834.6 1239.9,838.5 1132.5,845.0 1227.6,888.4 1230.9,873.7 1192.5,827.8 1204.8,852.3 1240.9,813.5 1127.0,841.4 1220.5,920.9 1184.5,797.0 1174.1,865.6 1206.6,849.9 1118.8,809.1 1218.1,910.3 1120.6,819.2 1172.7,824.8 1165.6,900.9 1225.7,781.7 1144.2,786.2 1134.6,833.9 1203.5,809.9 1168.1,916.6 1128.8,863.0 1178.8,796.4 1186.5,835.7 1223.1,892.3 1139.5,835.2 1234.4,845.0 1168.6,776.8 1171.9,799.2 1180.7,791.4 1159.6,787.5 1250.0,850.6 1182.0,782.8 1190.6,864.0 1201.6,844.8 1173.5,812.2 1218.0,913.4 1184.3,917.7 1199.7,793.4 1204.5,834.6 1154.1,786.8 1231.2,809.0 1155.1,871.8 1225.1,896.3 1157.0,809.5 1226.2,818.7 1228.4,833.0 1250.5,812.8 1227.2,846.3 1161.0,806.9 1191.4,852.1 1118.8,803.6 1176.4,780.7 1219.7,949.2 1225.0,954.6 1142.3,793.5 1205.0,873.6 1196.0,786.5 1217.7,828.1 1188.1,793.0 1123.4,814.7 1117.7,803.6 1127.1,814.2 1151.0,841.3 1150.1,856.7 1184.4,868.2 1175.9,818.8 1215.3,934.1 1226.4,813.6 1196.3,828.9 1198.9,856.4 1174.6,904.9 1169.3,778.7 1162.1,771.5 1230.0,859.4 1172.6,789.7 1169.5,918.4 1172.1,770.9 1180.8,882.5 1216.8,831.2 1200.2,786.7 1236.9,853.3 1153.9,776.4 1257.3,825.5 1122.8,783.5 1154.8,793.6 1148.8,824.4 1155.9,789.9 1216.8,857.0 1139.2,843.3 1131.5,785.0 1141.1,850.8 1111.0,792.9 1159.4,789.7 1178.0,838.2 1226.7,865.9 1169.4,866.9 1178.8,900.2 1160.7,868.1 1232.1,856.5 1202.9,785.4 1228.8,908.8 1163.4,828.2 1185.1,772.4 1220.2,887.0 1130.0,810.3 1257.2,842.1 1157.5,785.5 1111.7,785.1 1112.0,791.5 1168.3,789.7 1216.2,895.9 1167.4,840.1 1218.2,796.1 1217.0,819.1 1169.6,839.9 1195.6,773.5 1211.5,846.5 1198.2,813.4 1228.1,843.8 1209.7,834.4 1226.8,938.0 1193.8,805.1 1239.6,814.7 1155.6,794.6 1219.1,866.1 1221.1,790.6 1203.6,850.3 1230.9,856.9 1230.6,914.1 1136.2,800.8 1167.0,800.0 1172.1,871.6 1133.4,795.7 1161.0,857.4 1169.8,908.8 1170.9,811.4 1177.7,837.2 1157.4,795.4 1231.1,879.7 1185.0,789.2 1175.1,809.6 1228.1,824.0 1188.4,876.6 1129.9,824.2 1195.4,918.9 1225.9,879.1 1126.3,816.5 1214.2,887.0 1110.3,806.4 1141.5,805.9 1225.3,881.0 1167.5,856.6 1192.8,824.9 1194.3,919.2 1166.6,811.1 1252.4,837.5 1136.6,855.3 1208.7,864.1 1187.5,862.4 1220.2,866.2 1157.6,828.2 1259.5,851.2 1189.1,902.9 1194.5,851.1 1113.0,802.5 1234.8,830.7 1153.9,776.2 1209.2,789.2 1160.7,842.4 1185.1,813.2 1138.6,798.3 1187.9,775.0 1186.0,844.5 1135.6,801.5 1171.9,797.1 1160.5,810.9 1173.2,840.5 1134.4,859.9 1184.0,921.4 1172.6,786.5 1186.0,824.8 1211.0,800.1 1263.5,845.7 1184.9,787.9 1190.7,836.7 1181.4,790.1 1218.4,897.4 1186.3,866.7 1186.0,797.0 1201.4,788.4 1237.1,819.3 1189.6,899.0 1139.3,785.2 1174.5,823.2 1120.0,804.6 1263.2,853.1 1154.6,828.7 1193.5,763.9 1212.7,867.5 1201.3,847.6 1223.3,794.8 1178.2,819.8 1136.0,809.5 1221.6,922.0 1120.2,815.0 1219.9,920.3 1209.9,859.0 1126.4,814.8 1197.8,794.9 1208.1,876.6 1217.2,890.2 1208.0,788.3 1181.7,774.4 1240.1,814.7 1217.2,797.3 1191.7,858.3 1162.7,817.0 1171.3,865.5 1178.4,831.0 1178.2,798.0 1129.2,768.5 1253.0,827.0 1159.2,861.1 1191.0,909.9 1133.5,800.0 1161.7,827.1 1200.8,846.2 1149.5,861.8 1165.9,772.1 1216.2,885.4 1141.1,817.9 1119.0,839.0 1198.4,781.1 1201.2,876.7 1192.7,857.4 1215.2,847.0 1128.6,761.8 1154.0,822.6 1198.0,858.4 1221.1,811.3 1180.9,897.6 1113.2,803.5 1183.7,883.2 1151.7,866.1 1191.3,895.3 1226.3,938.6 1244.1,809.3 1116.3,792.4 1229.8,802.5 1157.5,775.3 1220.5,931.6 1217.8,832.1 1126.3,815.3 1190.3,843.3 1131.7,815.7 1178.1,770.7 1222.7,867.0 1214.1,814.1 1178.1,811.4 1139.4,816.9 1129.5,866.0 1171.5,909.5 1166.6,803.9 1120.6,803.5 1113.6,813.9 1151.6,777.2 1183.0,909.8 1141.7,793.4 1229.6,816.2 1180.2,868.1 1115.1,814.1 1194.0,900.2 1160.0,849.7 1209.1,877.8 1200.7,870.2 1126.1,857.1 1137.7,798.8 1259.6,840.3 1203.6,790.9 1186.0,842.0 1166.5,881.5 1137.1,806.9 1111.3,837.4 1127.5,779.2 1168.6,827.2 1119.8,841.2 1214.4,788.3 1213.2,846.6 1198.8,781.1 1242.5,826.1 1213.4,868.2 1181.4,921.7 1187.6,909.7 1137.6,799.6 1121.7,792.2 1182.1,817.4 1146.5,814.9 1167.7,896.4 1246.5,826.5 1168.2,866.3 1252.1,831.9 1218.0,789.2 1146.4,806.7 1200.4,781.4 1262.5,842.6 1188.1,822.4 1167.7,848.0 1151.7,821.7 1163.5,840.5 1186.8,881.1 1209.9,862.0 1228.1,898.5 1243.6,822.4 1187.1,873.8 1129.8,788.8 1218.5,823.0 1128.9,804.1 1153.0,873.9 1131.3,857.5 1169.5,902.3 1131.2,864.6 1129.4,845.6 1220.5,851.6 1214.3,866.7 1206.9,782.5 1249.5,826.4 1167.9,806.5 1231.9,835.4 1223.9,828.6 1147.5,824.7 1220.0,809.7 1200.9,794.2 1113.2,782.7 1217.0,926.8 1180.8,761.4 1226.3,900.5 1230.6,854.9 1193.7,789.3 1226.6,893.6 1250.2,818.3 1176.7,778.6 1238.2,826.9 1171.8,814.0 1203.9,855.9 1195.6,863.1 1239.5,825.1 1216.7,806.6 1230.8,913.2 1170.8,881.1 1169.8,822.5 1217.5,877.7 1122.1,766.4 1132.9,791.3 1179.7,826.5 1219.8,896.2 1187.2,804.2 1216.5,914.1 1254.8,829.1 1208.2,815.7 1192.4,842.6 1209.3,856.1 1194.8,770.1 1215.2,917.6 1160.5,778.3 1220.9,840.9 1183.5,759.3 1183.1,801.5 1218.0,857.5 1155.9,792.3 1234.4,827.5 1208.9,838.1 1168.4,809.7 1252.8,838.6 1143.6,814.1 1178.0,865.2 1146.4,842.3 1190.3,839.6 1211.8,828.9 1220.8,865.4 1210.6,829.3 1226.3,871.6 1227.9,842.1 1254.4,837.4 1172.1,893.1 1199.6,827.0 1142.7,840.5 1147.6,849.4 1215.7,913.0 1167.9,867.3 1202.9,820.5 1215.2,814.7 1184.8,878.7 1161.3,863.2 1230.0,931.2 1204.6,817.2 1145.2,865.4 1190.5,760.6 1123.9,764.0 1227.8,911.7 1206.2,801.1 1164.4,842.7 1199.6,808.0 1113.0,754.1 1217.7,887.3 1126.6,860.6 1183.2,858.6 1187.6,808.4 1215.1,792.0 1121.7,838.6 1260.2,846.5 1230.0,816.1 1237.2,806.6 1160.4,855.8 1169.7,886.5 1186.3,860.4 1177.9,893.2 1244.9,839.8 1181.9,921.3 1137.8,778.8 1175.8,778.5 1190.3,879.6 1190.2,839.4 1176.7,876.6 1223.4,831.7 1183.3,915.0 1179.5,818.6 1206.0,857.7 1131.2,839.4 1134.9,801.2 1210.6,848.4 1254.2,821.5 1216.7,841.8 1163.7,778.4 1186.7,890.7 1220.6,889.3 1156.3,852.7 1193.2,798.3 1234.7,833.2 1154.8,856.8 1150.5,830.2 1220.7,897.9 1155.1,849.6 1144.1,849.2 1221.5,930.6 1185.4,785.4 1133.7,821.7 1166.2,896.7 1249.6,842.3 1220.0,896.6 1117.6,807.6 1141.6,791.5 1184.0,873.3 1169.9,825.1 1172.9,891.3 1180.0,875.6 1130.5,831.3 1140.5,801.8 1170.1,867.6 1203.0,781.6 1159.3,803.5 1199.7,837.4 1146.8,829.9 1182.1,769.3 1181.8,821.0 1226.7,926.6 1221.3,906.4 1141.7,838.1 1188.2,906.6 1246.2,848.1 1153.3,826.4 1185.4,803.4 1167.2,839.1 1235.6,820.3 1201.3,803.1 1202.8,866.1 1218.6,872.4 1180.4,910.9 1149.4,803.2 1171.2,782.3 1215.6,953.7 1200.3,782.8 1117.1,763.8 1215.7,924.5 1206.7,797.7 1194.8,760.6 1117.2,752.3 1217.5,838.6 1154.0,802.1 1190.3,775.4 1154.4,847.4 1165.7,846.5 1226.3,910.5 1165.2,896.9 1201.8,853.0 1197.1,774.0 1176.6,868.3 1223.7,927.8 1246.8,850.4 1175.3,815.5 1179.1,793.7 1133.6,799.8 1259.7,850.9 1200.5,878.4 1153.8,868.7 1220.6,798.3 1215.6,866.8 1112.3,815.7 1257.9,843.3 1189.1,781.2 1141.1,796.5 1138.8,798.0 1227.5,805.0 1160.5,820.9 1114.7,822.4 1170.5,814.8 1133.5,800.4 1178.8,883.9 1222.4,820.2 1232.3,796.8 1226.5,872.9 1131.9,863.0 1181.7,898.9 1230.0,926.4 1234.9,819.9 1201.7,853.2 1174.2,792.8 1132.5,823.3 1170.4,879.9 1149.4,776.0 1180.6,828.5 1204.5,826.1 1186.7,876.1 1261.7,841.6 1146.9,851.5 1216.3,835.0 1200.7,823.2 1223.0,833.5 1221.4,953.6 1165.2,851.0 1248.0,840.3 1192.7,899.8 1223.4,904.5 1190.5,911.2 1242.1,811.5 1136.7,790.7 1264.4,850.0 1113.9,821.8 1219.2,906.0 1116.2,794.6 1178.5,839.5 1123.6,777.8 1185.2,888.6 1177.0,797.2 1209.3,817.8 1158.9,879.7 1131.5,806.1 1096.8,817.9 1098.6,814.1 1101.3,806.7 1102.3,811.6 1103.5,807.8 1095.8,815.0 1093.1,809.5 1101.2,822.0 1102.6,825.8 1095.6,808.1 1100.7,823.1 1096.2,810.6 1097.4,814.3 1102.3,822.5 1103.0,811.6 1102.2,818.9 1097.2,813.0 1099.9,826.6 1102.0,817.4 1094.8,812.8 1101.1,820.5 1096.9,827.6 1097.1,810.2 1098.8,808.5 1097.9,818.0 1098.7,818.5 1091.7,823.0 1091.0,822.2 1093.0,821.4 1091.8,821.5 1091.0,820.2 1092.5,816.0 1287.9,850.0 1282.8,827.5 1287.5,811.8 1283.1,812.6 1278.4,825.8 1278.2,814.8 1287.3,844.5 1280.6,824.3 1286.6,831.2 1272.9,839.5 1273.6,839.0 1287.7,817.3 1283.1,804.9 1277.4,852.2 1282.0,842.1 1282.1,810.2 1287.1,812.7 1279.6,843.6 1290.1,845.1 1272.7,828.1 1281.9,837.1 1285.1,832.7 1280.2,818.2 1273.7,835.9 1283.9,830.9 1283.0,809.5 1277.5,808.1 1282.1,824.8 1283.4,829.9 1286.9,821.0 1279.4,805.4 1285.6,834.9 1281.0,851.9 1286.8,822.1 1273.4,842.1 1281.3,822.9 1273.3,837.4 1277.0,826.7 1286.1,805.0 1285.8,805.0 1287.4,838.8 1284.9,823.3 1274.3,851.8 1275.1,839.8 1274.9,848.1 1274.0,810.3 1276.9,810.5 1285.2,844.8 1273.4,807.8 1289.2,821.7 1277.3,842.9 1281.2,850.3 1280.7,823.0 1276.2,812.8 1287.2,805.0 1278.7,820.7 1283.7,829.0 1283.3,808.5 1273.5,818.4 1282.8,815.0 1284.5,842.3 1273.3,836.1 1288.8,827.6 1282.7,842.5 1290.4,836.9 1282.7,835.3 1284.2,852.7 1281.4,829.1 1286.1,837.7 1283.2,803.4 1287.0,807.1 1289.7,841.8 1281.7,821.5 1282.7,811.5 1287.4,835.1 1290.4,811.2 1276.5,806.9 1286.1,814.2 1289.4,817.5 1274.1,814.2 1289.2,829.9 1275.9,848.7 1277.3,848.7 1272.9,848.6 1274.7,845.9 1275.2,803.6 1276.4,820.9 1279.1,804.2 1281.9,838.6 1273.3,808.0 1279.5,826.7 1286.7,820.3 1274.4,822.8 1274.6,830.7 1283.0,818.3 1284.7,821.9 1287.1,832.8 1274.2,846.2 1286.4,826.6 1275.6,804.7 1287.4,807.2 1283.4,837.5 1279.3,814.0 1275.8,804.0 1288.8,823.0 1277.3,813.0 1285.3,843.1 1289.9,830.9 1275.5,830.3 1290.2,821.2 1273.7,833.0 1283.1,823.4 1281.7,805.5 1287.2,809.6 1276.4,808.1 1288.9,817.2 1279.4,821.9 722.3,621.9 723.2,633.2 721.6,631.3 721.1,604.6 721.2,602.7 760.3,707.6 758.8,737.5 743.3,675.7 736.7,631.0 740.4,639.0 745.2,672.6 744.2,693.4 742.0,619.9 751.4,722.3 739.5,637.0 741.9,684.7 745.9,619.8 755.6,685.7 741.0,609.9 743.6,617.4 755.4,738.1 739.4,638.7 739.0,607.2 760.2,703.4 743.1,644.9 759.2,722.7 748.9,674.5 749.9,658.4 739.9,617.0 741.2,640.1 743.5,665.0 744.9,688.5 748.3,617.3 747.2,704.0 744.7,693.1 749.0,635.2 744.3,678.5 753.8,715.8 755.5,691.7 750.1,717.4 743.4,645.4 760.3,707.5 740.2,661.9 749.3,708.2 742.6,627.5 735.9,608.2 740.1,634.7 758.3,698.1 740.7,603.6 738.0,651.4 758.2,680.5 739.4,632.3 747.5,653.9 756.9,739.6 759.4,693.6 747.6,619.5 749.6,651.5 743.3,687.0 750.3,670.8 755.9,690.1 746.2,633.5 747.5,695.8 742.5,688.0 743.1,651.6 745.4,704.9 757.7,721.4 739.8,633.2 755.0,697.7 760.0,696.1 741.4,627.9 757.8,690.5 739.9,618.5 748.4,699.8 746.5,613.9 751.5,706.1 745.5,618.0 746.2,681.0 748.0,699.9 743.6,617.5 752.5,713.7 745.8,670.0 743.1,664.3 737.2,616.3 748.7,713.5 744.8,681.4 740.0,649.9 745.1,635.3 754.9,720.9 749.0,661.4 744.9,645.3 749.1,705.9 741.6,647.6 741.4,659.1 743.7,651.9 738.1,613.2 754.9,673.4 749.7,659.4 740.6,635.6 741.8,637.5 750.2,682.7 752.9,715.2 743.5,621.0 742.3,621.1 742.2,650.9 745.4,609.5 742.1,685.1 750.9,670.3 751.5,681.4 753.6,717.5 744.2,663.5 740.4,619.6 742.8,662.8 746.4,671.5 744.1,643.5 741.4,624.2 743.2,629.5 748.0,706.4 746.1,613.5 745.6,638.6 755.4,707.5 745.6,710.5 737.1,652.2 757.4,741.0 744.7,698.3 744.3,689.7 745.3,609.8 745.7,662.3 744.2,623.2 744.9,616.2 757.7,718.4 745.8,614.5 740.1,666.0 744.9,656.7 743.7,675.4 744.9,613.6 758.7,705.2 749.3,711.4 758.8,734.1 745.9,633.3 738.1,631.1 744.6,622.7 754.5,713.5 741.2,665.4 755.6,733.9 749.1,637.6 757.6,726.8 756.5,675.2 740.0,653.9 747.1,692.0 744.3,678.0 744.7,697.8 757.6,680.7 752.2,682.3 752.0,707.3 737.1,639.3 746.4,679.6 750.1,663.5 743.4,660.4 739.6,625.4 748.7,624.3 747.2,618.3 741.9,655.2 749.7,654.0 749.5,688.5 747.5,657.9 742.0,670.0 745.7,660.6 745.5,611.2 746.3,659.2 745.1,684.0 748.9,655.4 747.1,651.2 744.8,706.3 756.7,669.8 742.3,610.7 778.6,628.1 779.4,628.5 777.4,645.9 782.9,643.5 780.6,655.5 778.0,653.9 782.4,644.3 779.0,649.7 782.2,645.0 775.6,663.6 776.9,658.0 783.0,662.1 797.5,613.2 802.8,599.5 797.7,620.9 803.3,609.2 802.4,615.6 799.5,613.7 799.6,621.9 801.0,621.2 795.7,615.5 796.5,604.8 800.3,610.4 793.8,605.9 800.0,611.8 798.9,599.0 803.1,600.9 802.2,603.2 793.8,611.9 803.8,600.2 816.8,586.5 815.9,587.9 816.4,595.1 815.4,583.5 815.4,607.1 817.5,600.0 817.1,609.1 816.8,578.8 816.6,579.6 835.7,602.5 834.9,610.6 835.4,609.5 833.0,621.3 830.6,596.5 831.0,619.6 832.4,615.8 834.1,609.6 830.5,603.6 832.1,598.2 861.1,621.3 856.9,614.0 856.7,620.4 856.8,623.2 855.3,621.7 856.5,632.2 860.6,629.7 861.3,613.0 859.5,612.3 859.2,640.6 861.7,612.7 860.1,630.4 856.8,607.0 856.7,627.8 861.2,617.6 858.1,612.9 860.7,638.6 920.6,712.4 919.4,800.1 929.3,711.4 925.0,720.5 911.3,703.2 918.3,832.0 917.9,810.4 910.8,702.5 927.7,783.8 925.5,812.1 927.3,699.4 912.2,709.4 919.1,719.8 923.8,854.4 925.0,803.5 922.4,734.0 911.2,710.9 925.3,736.0 923.1,722.7 921.5,747.8 919.7,732.8 927.9,769.0 917.2,710.6 918.8,811.9 926.8,832.6 925.7,707.3 910.1,696.7 927.5,804.1 920.5,808.8 922.9,772.5 929.4,716.3 924.9,812.1 931.9,693.7 919.2,755.1 920.7,861.5 924.3,874.0 922.6,875.4 925.0,784.2 921.3,770.9 916.9,746.8 924.1,768.4 918.7,722.6 921.6,717.7 927.3,823.7 927.7,715.5 920.7,787.4 932.3,702.7 923.3,841.7 918.0,826.0 921.2,762.0 922.7,748.8 922.3,756.4 924.0,813.4 915.1,831.6 926.8,728.5 909.5,698.8 930.4,711.1 926.4,842.1 923.2,768.0 921.9,820.2 917.7,735.6 916.3,804.5 919.2,791.1 925.7,727.6 930.2,730.7 924.1,871.9 915.1,805.1 924.9,699.8 922.3,864.1 920.7,772.4 916.9,825.4 925.2,787.4 920.7,805.5 926.9,758.2 916.6,777.4 914.5,697.9 919.3,745.8 915.1,769.4 916.1,778.3 916.7,790.2 915.9,693.1 927.7,699.4 926.0,700.4 921.0,830.4 925.2,848.1 917.0,764.2 923.7,796.3 911.1,701.7 912.6,712.8 920.0,769.6 928.7,692.5 916.8,811.4 914.6,711.4 920.8,815.9 928.4,693.2 923.7,775.2 926.6,750.1 916.0,810.6 1059.0,821.2 1061.7,820.0 1059.9,807.0 1061.1,813.9 1055.4,816.2 1065.1,809.0 1060.3,829.7 1058.6,805.6 1064.9,814.9 1064.3,808.2 1061.3,830.3 1055.9,812.1 1059.7,826.4 1062.6,814.1 1063.3,824.7 1057.5,809.7 1061.0,806.8 1056.9,820.4 1063.5,823.7 1067.4,806.9 1062.0,828.2 1062.8,811.8 1060.4,825.2 1063.7,807.4 1064.0,821.8 1058.2,809.5 1057.3,810.5 1060.1,823.4 1063.7,806.3 1054.7,808.9 1059.5,807.5 1061.3,818.1 1060.7,824.9 1062.6,826.1 1058.4,807.5 1057.7,814.3 1062.6,819.2 1060.6,820.6 1061.4,813.7 1061.3,821.4 1130.1,878.8 1129.6,870.4 1125.9,866.8 1130.3,863.6 1129.1,871.2 1130.5,874.3 1130.0,868.8 1128.6,862.5 1125.7,871.2 1129.8,875.1 1131.0,865.2 1131.2,861.7 1126.6,871.7 1126.2,873.0 1128.9,874.4 1128.8,875.4 1175.1,933.7 1174.6,927.3 1175.6,938.3 1175.3,944.0 1174.4,943.7 1175.1,937.3 1175.5,942.0 1175.2,928.4 1174.3,939.9 1175.1,923.2 1174.7,928.9 1214.2,969.9 1214.1,956.0 1214.4,957.2 1214.9,954.8 1214.0,963.6 1215.2,966.0 1214.1,959.2 1214.0,962.1 1214.9,958.4 1260.7,863.1 1258.1,871.3 1258.6,863.3 1258.2,891.7 1261.0,864.9 1258.8,900.9 1259.7,899.1 1259.6,895.0 1258.0,857.3 1259.9,857.0 1259.6,870.9 1258.3,861.7 1258.3,861.8 1259.6,875.8 1260.2,873.3 1257.5,866.2 1260.9,867.5 1257.9,856.1 1259.8,859.9 1258.6,869.4 1260.7,864.6 1258.5,856.5 1257.4,894.3 1258.4,879.5 1260.7,884.2 1258.3,868.7 1260.2,868.3 756.5,744.4 757.2,739.1 801.5,637.5 801.5,649.3 832.7,628.8 832.7,640.7 924.5,913.4 923.5,878.1 922.5,871.4 1259.2,909.8 1259.2,918.2 1258.4,928.4 1258.4,937.9 1214.9,979.7 1020.8,768.3 1035.0,767.7 1138.0,865.8 1264.9,872.1 1262.7,861.3 1261.5,878.5 1263.6,851.6 1263.7,859.0 1264.2,856.6 1265.4,861.7 1264.3,876.4 1265.0,858.5 1264.7,857.6 1262.1,834.7 1263.8,851.3 1265.4,877.3 1263.9,886.9 1264.5,873.6 1264.2,885.1 1262.4,867.2 1263.4,885.0 1264.9,880.2 1265.2,887.5 1265.2,876.1 1261.6,865.1 1264.4,848.5 1264.1,857.7 1265.3,862.1"/>
</g>
<path d="M303.48 1015.90V1003.90M303.48 59.00V71.00M336.25 1015.90V1003.90M336.25 59.00V71.00M365.15 1015.90V1003.90M365.15 59.00V71.00M391.00 1015.90V995.90M391.00 59.00V79.00M561.08 1015.90V1003.90M561.08 59.00V71.00M660.57 1015.90V1003.90M660.57 59.00V71.00M731.16 1015.90V1003.90M731.16 59.00V71.00M785.92 1015.90V1003.90M785.92 59.00V71.00M830.66 1015.90V1003.90M830.66 59.00V71.00M868.48 1015.90V1003.90M868.48 59.00V71.00M901.25 1015.90V1003.90M901.25 59.00V71.00M930.15 1015.90V1003.90M930.15 59.00V71.00M956.00 1015.90V995.90M956.00 59.00V79.00M1126.08 1015.90V1003.90M1126.08 59.00V71.00M1225.57 1015.90V1003.90M1225.57 59.00V71.00M1296.16 1015.90V1003.90M1296.16 59.00V71.00M279.00 999.65H291.00M1349.00 999.65H1337.00M279.00 946.31H291.00M1349.00 946.31H1337.00M279.00 908.46H291.00M1349.00 908.46H1337.00M279.00 879.10H291.00M1349.00 879.10H1337.00M279.00 855.11H291.00M1349.00 855.11H1337.00M279.00 834.83H291.00M1349.00 834.83H1337.00M279.00 817.26H291.00M1349.00 817.26H1337.00M279.00 801.76H291.00M1349.00 801.76H1337.00M279.00 787.90H299.00M1349.00 787.90H1329.00M279.00 696.70H291.00M1349.00 696.70H1337.00M279.00 643.36H291.00M1349.00 643.36H1337.00M279.00 605.51H291.00M1349.00 605.51H1337.00M279.00 576.15H291.00M1349.00 576.15H1337.00M279.00 552.16H291.00M1349.00 552.16H1337.00M279.00 531.88H291.00M1349.00 531.88H1337.00M279.00 514.31H291.00M1349.00 514.31H1337.00M279.00 498.81H291.00M1349.00 498.81H1337.00M279.00 484.95H299.00M1349.00 484.95H1329.00M279.00 393.75H291.00M1349.00 393.75H1337.00M279.00 340.41H291.00M1349.00 340.41H1337.00M279.00 302.56H291.00M1349.00 302.56H1337.00M279.00 273.20H291.00M1349.00 273.20H1337.00M279.00 249.21H291.00M1349.00 249.21H1337.00M279.00 228.93H291.00M1349.00 228.93H1337.00M279.00 211.36H291.00M1349.00 211.36H1337.00M279.00 195.86H291.00M1349.00 195.86H1337.00M279.00 182.00H299.00M1349.00 182.00H1329.00M279.00 90.80H291.00M1349.00 90.80H1337.00" fill="none" stroke="#000" stroke-width="4.10"/>
<rect x="279.00" y="59.00" width="1070.00" height="956.90" fill="none" stroke="#000" stroke-width="4.10"/>
<text x="341.60" y="1090.50" font-size="58.33">10<tspan dy="-22.50" dx="0.00" font-size="40.83">1</tspan></text>
<text x="906.60" y="1090.50" font-size="58.33">10<tspan dy="-22.50" dx="0.00" font-size="40.83">2</tspan></text>
<text x="153.00" y="204.70" font-size="58.33">10<tspan dy="-22.50" dx="0.00" font-size="40.83">2</tspan></text>
<text x="151.90" y="507.65" font-size="58.33">10<tspan dy="-21.50" dx="-0.30" font-size="40.83">1</tspan></text>
<text x="151.00" y="810.90" font-size="58.33">10<tspan dy="-22.50" dx="0.00" font-size="40.83">0</tspan></text>
<text x="554.2" y="1190.6" font-size="58.33">Frequency (cm<tspan dy="-21.5" font-size="40.83">−<tspan dx="1.5">1</tspan></tspan><tspan dy="21.5" dx="1.7" font-size="58.33">)</tspan></text>
<text transform="translate(104,724) rotate(-90)" font-size="58.33">Lifetime (ps)</text>
<rect x="1086" y="84" width="238.3" height="150.7" fill="#fff" fill-opacity="0.8" stroke="#888" stroke-width="2.1"/>
<circle cx="1131.5" cy="125.5" r="5.21" fill="none" stroke="#1f77b4" stroke-width="2.50"/>
<path d="M1131.50 183.09 L1126.29 193.51 L1136.71 193.51 Z" fill="none" stroke="#ff7f0e" stroke-width="2.50" stroke-linejoin="miter"/>
<text x="1176.7" y="143.1" font-size="50">300K</text>
<text x="1176.7" y="205.9" font-size="50">500K</text>
</svg></body></html>
